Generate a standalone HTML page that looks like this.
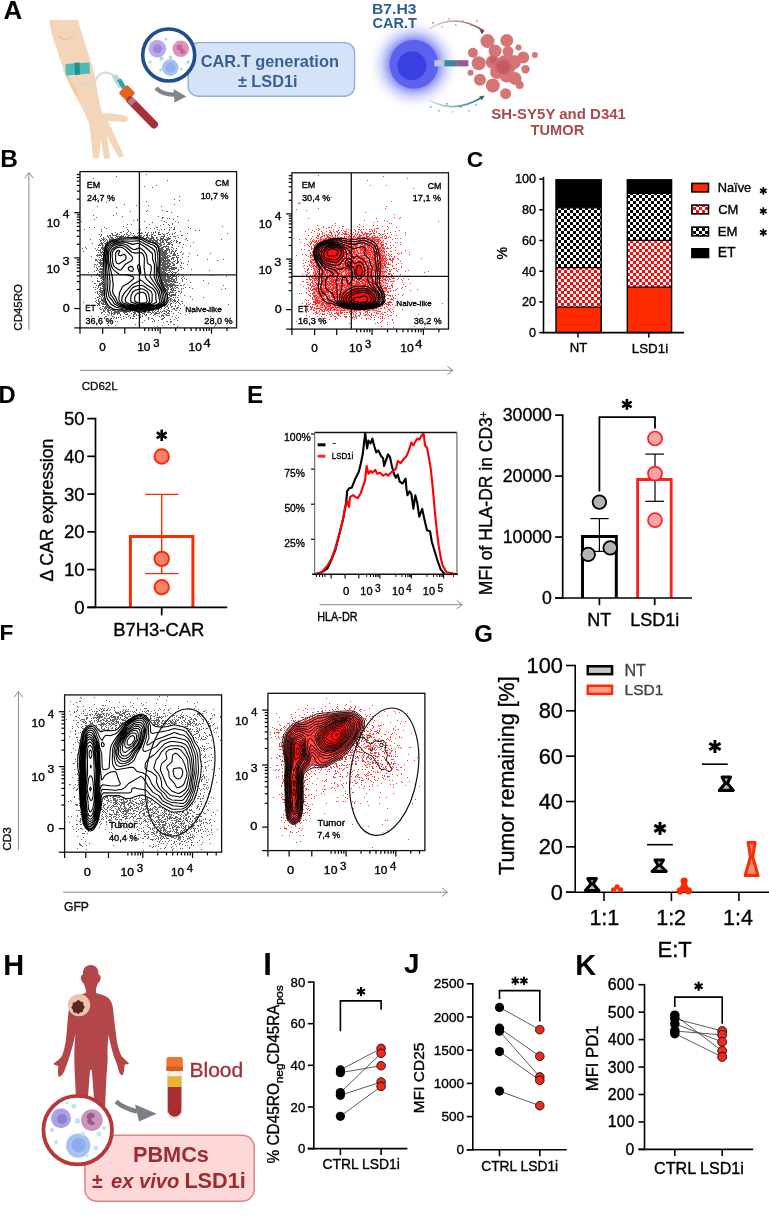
<!DOCTYPE html>
<html><head><meta charset="utf-8"><style>
html,body{margin:0;padding:0;background:#fff;overflow:hidden;}
svg{display:block;font-family:"Liberation Sans", sans-serif;filter:blur(0.3px);}
</style></head><body>
<svg width="769" height="1219" viewBox="0 0 769 1219">
<rect width="769" height="1219" fill="#fff"/>
<defs>
<pattern id="chkR" x="0" y="0" width="6" height="6" patternUnits="userSpaceOnUse"><rect width="6" height="6" fill="#fff"/><rect width="3" height="3" fill="#ff0a0a"/><rect x="3" y="3" width="3" height="3" fill="#ff0a0a"/></pattern>
<pattern id="chkK" x="0" y="0" width="6" height="6" patternUnits="userSpaceOnUse"><rect width="6" height="6" fill="#fff"/><rect width="3" height="3" fill="#000"/><rect x="3" y="3" width="3" height="3" fill="#000"/></pattern>
</defs><text x="3.55" y="18.7" font-size="25.97" fill="#000" font-weight="bold">A</text><text x="0.21" y="167.2" font-size="24.43" fill="#000" font-weight="bold">B</text><text x="466.78" y="166.6" font-size="22.9" fill="#000" font-weight="bold">C</text><text x="-1.54" y="402.8" font-size="23.74" fill="#000" font-weight="bold">D</text><text x="247.02" y="403" font-size="24.25" fill="#000" font-weight="bold">E</text><text x="-0.58" y="640.4" font-size="22.75" fill="#000" font-weight="bold">F</text><text x="474.14" y="642.2" font-size="24" fill="#000" font-weight="bold">G</text><text x="3.22" y="974.6" font-size="28.98" fill="#000" font-weight="bold">H</text><text x="263.28" y="974.5" font-size="31.03" fill="#000" font-weight="bold">I</text><text x="403.98" y="973.3" font-size="27.79" fill="#000" font-weight="bold">J</text><text x="575.32" y="974.6" font-size="28.99" fill="#000" font-weight="bold">K</text><rect x="556" y="307.2" width="45.2" height="25.4" fill="#ff2a00"/><rect x="556" y="267.7" width="45.2" height="39.5" fill="url(#chkR)"/><rect x="556" y="207.8" width="45.2" height="59.9" fill="url(#chkK)"/><rect x="556" y="179.8" width="45.2" height="28" fill="#000"/><line x1="556" y1="307.2" x2="601.2" y2="307.2" stroke="#000" stroke-width="1.3"/><line x1="556" y1="267.7" x2="601.2" y2="267.7" stroke="#000" stroke-width="1.3"/><line x1="556" y1="207.8" x2="601.2" y2="207.8" stroke="#000" stroke-width="1.3"/><rect x="556" y="179.8" width="45.2" height="152.8" fill="none" stroke="#000" stroke-width="1.4"/><rect x="627.3" y="287.2" width="44.3" height="45.4" fill="#ff2a00"/><rect x="627.3" y="240.4" width="44.3" height="46.8" fill="url(#chkR)"/><rect x="627.3" y="193.4" width="44.3" height="47" fill="url(#chkK)"/><rect x="627.3" y="179.8" width="44.3" height="13.6" fill="#000"/><line x1="627.3" y1="287.2" x2="671.6" y2="287.2" stroke="#000" stroke-width="1.3"/><line x1="627.3" y1="240.4" x2="671.6" y2="240.4" stroke="#000" stroke-width="1.3"/><line x1="627.3" y1="193.4" x2="671.6" y2="193.4" stroke="#000" stroke-width="1.3"/><rect x="627.3" y="179.8" width="44.3" height="152.8" fill="none" stroke="#000" stroke-width="1.4"/><line x1="543.5" y1="176.8" x2="543.5" y2="333.3" stroke="#000" stroke-width="1.6"/><line x1="542.7" y1="332.6" x2="684.1" y2="332.6" stroke="#000" stroke-width="1.6"/><line x1="539.2" y1="332.6" x2="543.5" y2="332.6" stroke="#000" stroke-width="1.5"/><text x="528.95" y="336.95" font-size="12.6" fill="#000" stroke="#000" stroke-width="0.35">0</text><line x1="539.2" y1="301.9" x2="543.5" y2="301.9" stroke="#000" stroke-width="1.5"/><text x="521.96" y="306.25" font-size="12.6" fill="#000" stroke="#000" stroke-width="0.35">20</text><line x1="539.2" y1="271.2" x2="543.5" y2="271.2" stroke="#000" stroke-width="1.5"/><text x="521.96" y="275.55" font-size="12.6" fill="#000" stroke="#000" stroke-width="0.35">40</text><line x1="539.2" y1="240.5" x2="543.5" y2="240.5" stroke="#000" stroke-width="1.5"/><text x="521.96" y="244.85" font-size="12.6" fill="#000" stroke="#000" stroke-width="0.35">60</text><line x1="539.2" y1="209.8" x2="543.5" y2="209.8" stroke="#000" stroke-width="1.5"/><text x="521.96" y="214.15" font-size="12.6" fill="#000" stroke="#000" stroke-width="0.35">80</text><line x1="539.2" y1="179.1" x2="543.5" y2="179.1" stroke="#000" stroke-width="1.5"/><text x="514.96" y="183.45" font-size="12.6" fill="#000" stroke="#000" stroke-width="0.35">100</text><line x1="578" y1="332.6" x2="578" y2="337.5" stroke="#000" stroke-width="1.5"/><line x1="648.8" y1="332.6" x2="648.8" y2="337.5" stroke="#000" stroke-width="1.5"/><text x="569.65" y="351.8" font-size="13.17" fill="#000" stroke="#000" stroke-width="0.35">NT</text><text x="631.83" y="353" font-size="13.32" fill="#000" stroke="#000" stroke-width="0.35">LSD1i</text><text transform="translate(506.8,259) rotate(-90)" x="-0.5" y="0" font-size="14.15" fill="#000" stroke="#000" stroke-width="0.35">%</text><rect x="691.9" y="183.4" width="16.6" height="8.5" fill="#ff2a00" stroke="#000" stroke-width="1.6"/><rect x="691.9" y="205.1" width="16.6" height="8.8" fill="url(#chkR)" stroke="#000" stroke-width="1.6"/><rect x="691.9" y="227.1" width="16.6" height="8.8" fill="url(#chkK)" stroke="#000" stroke-width="1.6"/><rect x="691.9" y="248.8" width="16.6" height="8.7" fill="#000" stroke="#000" stroke-width="1.6"/><text x="717.78" y="191.8" font-size="12.8" fill="#000" stroke="#000" stroke-width="0.35">Naïve</text><text x="718.15" y="214" font-size="13.03" fill="#000" stroke="#000" stroke-width="0.35">CM</text><text x="717.75" y="235.7" font-size="13.18" fill="#000" stroke="#000" stroke-width="0.35">EM</text><text x="717.68" y="257.4" font-size="14.04" fill="#000" stroke="#000" stroke-width="0.35">ET</text><line x1="763.3" y1="187" x2="763.3" y2="194.6" stroke="#000" stroke-width="1.75"/><line x1="760.01" y1="188.9" x2="766.59" y2="192.7" stroke="#000" stroke-width="1.75"/><line x1="760.01" y1="192.7" x2="766.59" y2="188.9" stroke="#000" stroke-width="1.75"/><line x1="763.3" y1="207.3" x2="763.3" y2="214.9" stroke="#000" stroke-width="1.75"/><line x1="760.01" y1="209.2" x2="766.59" y2="213" stroke="#000" stroke-width="1.75"/><line x1="760.01" y1="213" x2="766.59" y2="209.2" stroke="#000" stroke-width="1.75"/><line x1="763.3" y1="228.7" x2="763.3" y2="236.3" stroke="#000" stroke-width="1.75"/><line x1="760.01" y1="230.6" x2="766.59" y2="234.4" stroke="#000" stroke-width="1.75"/><line x1="760.01" y1="234.4" x2="766.59" y2="230.6" stroke="#000" stroke-width="1.75"/><path d="M130.4 607.3V536.6H192.9V607.3" stroke="#ff2a00" stroke-width="3" fill="none"/><line x1="95.5" y1="417.7" x2="95.5" y2="608.1" stroke="#000" stroke-width="1.7"/><line x1="87.3" y1="607.3" x2="227.2" y2="607.3" stroke="#000" stroke-width="1.7"/><line x1="87.3" y1="607.3" x2="95.5" y2="607.3" stroke="#000" stroke-width="1.7"/><text x="74.23" y="613.72" font-size="18.6" fill="#000" stroke="#000" stroke-width="0.35">0</text><line x1="87.3" y1="569.56" x2="95.5" y2="569.56" stroke="#000" stroke-width="1.7"/><text x="63.91" y="575.98" font-size="18.6" fill="#000" stroke="#000" stroke-width="0.35">10</text><line x1="87.3" y1="531.82" x2="95.5" y2="531.82" stroke="#000" stroke-width="1.7"/><text x="63.91" y="538.24" font-size="18.6" fill="#000" stroke="#000" stroke-width="0.35">20</text><line x1="87.3" y1="494.08" x2="95.5" y2="494.08" stroke="#000" stroke-width="1.7"/><text x="63.91" y="500.5" font-size="18.6" fill="#000" stroke="#000" stroke-width="0.35">30</text><line x1="87.3" y1="456.34" x2="95.5" y2="456.34" stroke="#000" stroke-width="1.7"/><text x="63.91" y="462.76" font-size="18.6" fill="#000" stroke="#000" stroke-width="0.35">40</text><line x1="87.3" y1="418.6" x2="95.5" y2="418.6" stroke="#000" stroke-width="1.7"/><text x="63.91" y="425.02" font-size="18.6" fill="#000" stroke="#000" stroke-width="0.35">50</text><line x1="161.7" y1="607.3" x2="161.7" y2="615.4" stroke="#000" stroke-width="1.7"/><line x1="161.7" y1="494.4" x2="161.7" y2="573.6" stroke="#ff2a00" stroke-width="1.4"/><line x1="145.1" y1="494.4" x2="178.5" y2="494.4" stroke="#ff2a00" stroke-width="1.4"/><line x1="145.1" y1="573.6" x2="178.5" y2="573.6" stroke="#ff2a00" stroke-width="1.4"/><circle cx="161.7" cy="456.5" r="7.2" fill="#f4826f" stroke="#ff2a00" stroke-width="2"/><circle cx="161.7" cy="558.9" r="7.2" fill="#f4826f" stroke="#ff2a00" stroke-width="2"/><circle cx="161.7" cy="587.2" r="7.2" fill="#f4826f" stroke="#ff2a00" stroke-width="2"/><line x1="161.7" y1="429.55" x2="161.7" y2="441.05" stroke="#000" stroke-width="2.65"/><line x1="156.72" y1="432.43" x2="166.68" y2="438.18" stroke="#000" stroke-width="2.65"/><line x1="156.72" y1="438.18" x2="166.68" y2="432.43" stroke="#000" stroke-width="2.65"/><text x="113.22" y="635.5" font-size="18.46" fill="#000" stroke="#000" stroke-width="0.35">B7H3-CAR</text><text transform="translate(52.6,580.9) rotate(-90)" x="-0.53" y="0" font-size="17.58" fill="#000" stroke="#000" stroke-width="0.35">Δ CAR expression</text><path d="M637.6 598V479.5H671.2V598" stroke="#ff1f1f" stroke-width="2.8" fill="none"/><path d="M582.5 598V536.6H616.3V598" stroke="#000" stroke-width="3" fill="none"/><line x1="562.7" y1="414.25" x2="562.7" y2="598.9" stroke="#000" stroke-width="1.7"/><line x1="555.1" y1="598" x2="692" y2="598" stroke="#000" stroke-width="1.7"/><line x1="555.1" y1="598" x2="562.7" y2="598" stroke="#000" stroke-width="1.7"/><text x="542.1" y="604.11" font-size="17.7" fill="#000" stroke="#000" stroke-width="0.35">0</text><line x1="555.1" y1="537.05" x2="562.7" y2="537.05" stroke="#000" stroke-width="1.7"/><text x="502.71" y="543.16" font-size="17.7" fill="#000" stroke="#000" stroke-width="0.35">10000</text><line x1="555.1" y1="476.1" x2="562.7" y2="476.1" stroke="#000" stroke-width="1.7"/><text x="502.71" y="482.21" font-size="17.7" fill="#000" stroke="#000" stroke-width="0.35">20000</text><line x1="555.1" y1="415.15" x2="562.7" y2="415.15" stroke="#000" stroke-width="1.7"/><text x="502.71" y="421.26" font-size="17.7" fill="#000" stroke="#000" stroke-width="0.35">30000</text><line x1="599.4" y1="598" x2="599.4" y2="605.1" stroke="#000" stroke-width="1.7"/><line x1="654.7" y1="598" x2="654.7" y2="605.1" stroke="#000" stroke-width="1.7"/><line x1="599.4" y1="518.6" x2="599.4" y2="551.4" stroke="#000" stroke-width="1.2"/><line x1="590.3" y1="518.6" x2="608.7" y2="518.6" stroke="#000" stroke-width="1.2"/><line x1="590.3" y1="551.4" x2="608.7" y2="551.4" stroke="#000" stroke-width="1.2"/><line x1="655" y1="454.1" x2="655" y2="501.3" stroke="#000" stroke-width="1.2"/><line x1="645.2" y1="454.1" x2="664" y2="454.1" stroke="#000" stroke-width="1.2"/><line x1="645.2" y1="501.3" x2="664" y2="501.3" stroke="#000" stroke-width="1.2"/><circle cx="588.2" cy="554.4" r="6.8" fill="#b3b3b3" stroke="#000" stroke-width="1.8"/><circle cx="610.2" cy="547.9" r="6.8" fill="#b3b3b3" stroke="#000" stroke-width="1.8"/><circle cx="599.4" cy="502.1" r="6.8" fill="#b3b3b3" stroke="#000" stroke-width="1.8"/><circle cx="655" cy="438.5" r="7" fill="#f4a6a6" stroke="#ff2020" stroke-width="1.7"/><circle cx="655" cy="473.6" r="7" fill="#f4a6a6" stroke="#ff2020" stroke-width="1.7"/><circle cx="655" cy="520.2" r="7" fill="#f4a6a6" stroke="#ff2020" stroke-width="1.7"/><path d="M599.4 491.6V417.1H655V428.4" stroke="#000" stroke-width="1.8" fill="none"/><line x1="626.9" y1="398.9" x2="626.9" y2="409.9" stroke="#000" stroke-width="2.53"/><line x1="622.14" y1="401.65" x2="631.66" y2="407.15" stroke="#000" stroke-width="2.53"/><line x1="622.14" y1="407.15" x2="631.66" y2="401.65" stroke="#000" stroke-width="2.53"/><text x="587.26" y="625.6" font-size="17.97" fill="#000" stroke="#000" stroke-width="0.35">NT</text><text x="630.26" y="625.5" font-size="17.98" fill="#000" stroke="#000" stroke-width="0.35">LSD1i</text><text transform="translate(492.4,593.8) rotate(-90)" x="-1.4" y="0" font-size="17.51" fill="#000" stroke="#000" stroke-width="0.35">MFI of HLA-DR in CD3</text><text transform="translate(487,417) rotate(-90)" x="-0.53" y="0" font-size="10.5" fill="#000" stroke="#000" stroke-width="0.35">+</text><line x1="575.2" y1="664.7" x2="575.2" y2="893" stroke="#000" stroke-width="1.6"/><line x1="566" y1="892.2" x2="770" y2="892.2" stroke="#000" stroke-width="1.6"/><line x1="566" y1="892.2" x2="575.2" y2="892.2" stroke="#000" stroke-width="1.6"/><text x="550.76" y="899.72" font-size="21.8" fill="#000" stroke="#000" stroke-width="0.35">0</text><line x1="566" y1="846.86" x2="575.2" y2="846.86" stroke="#000" stroke-width="1.6"/><text x="538.66" y="854.38" font-size="21.8" fill="#000" stroke="#000" stroke-width="0.35">20</text><line x1="566" y1="801.52" x2="575.2" y2="801.52" stroke="#000" stroke-width="1.6"/><text x="538.66" y="809.04" font-size="21.8" fill="#000" stroke="#000" stroke-width="0.35">40</text><line x1="566" y1="756.18" x2="575.2" y2="756.18" stroke="#000" stroke-width="1.6"/><text x="538.66" y="763.7" font-size="21.8" fill="#000" stroke="#000" stroke-width="0.35">60</text><line x1="566" y1="710.84" x2="575.2" y2="710.84" stroke="#000" stroke-width="1.6"/><text x="538.67" y="718.36" font-size="21.8" fill="#000" stroke="#000" stroke-width="0.35">80</text><line x1="566" y1="665.5" x2="575.2" y2="665.5" stroke="#000" stroke-width="1.6"/><text x="526.57" y="673.02" font-size="21.8" fill="#000" stroke="#000" stroke-width="0.35">100</text><line x1="604" y1="892.2" x2="604" y2="901" stroke="#000" stroke-width="1.6"/><line x1="671.4" y1="892.2" x2="671.4" y2="901" stroke="#000" stroke-width="1.6"/><line x1="738.9" y1="892.2" x2="738.9" y2="901" stroke="#000" stroke-width="1.6"/><text x="589.39" y="924.9" font-size="21.5" fill="#000" stroke="#000" stroke-width="0.35">1:1</text><text x="656.19" y="924.9" font-size="21.5" fill="#000" stroke="#000" stroke-width="0.35">1:2</text><text x="722.99" y="924.9" font-size="21.5" fill="#000" stroke="#000" stroke-width="0.35">1:4</text><text x="657.54" y="957.1" font-size="21.99" fill="#000" stroke="#000" stroke-width="0.35">E:T</text><rect x="587.75" y="666.25" width="24.3" height="7.9" fill="#c8c8c8" stroke="#000" stroke-width="2.5"/><rect x="587.75" y="685.75" width="24.3" height="8.1" fill="#f5a090" stroke="#ff2a00" stroke-width="2.5"/><text x="624.51" y="675.8" font-size="16.1" fill="#444" stroke="#444" stroke-width="0.35">NT</text><text x="624.56" y="694.8" font-size="15.54" fill="#444" stroke="#444" stroke-width="0.35">LSD1</text><path d="M587.85 878.6L596.35 878.6L593.1 884L598.85 890.6L585.35 890.6L591.1 884Z" stroke="#000" stroke-width="3.1" fill="#bbb" stroke-linejoin="round"/><path d="M654.95 860L663.45 860L660.2 865.5L666.2 871.4L652.2 871.4L658.2 865.5Z" stroke="#000" stroke-width="3.1" fill="#bbb" stroke-linejoin="round"/><path d="M722.05 777L730.55 777L727.3 783.2L733.3 790.4L719.3 790.4L725.3 783.2Z" stroke="#000" stroke-width="3.1" fill="#bbb" stroke-linejoin="round"/><circle cx="617.1" cy="886.8" r="2.6" fill="#ff2a00"/><circle cx="613.6" cy="889.8" r="2.6" fill="#ff2a00"/><circle cx="620.6" cy="889.8" r="2.6" fill="#ff2a00"/><circle cx="684.1" cy="881" r="3.6" fill="#ff2a00"/><circle cx="680.2" cy="890.8" r="3.6" fill="#ff2a00"/><circle cx="688.4" cy="890.8" r="3.6" fill="#ff2a00"/><path d="M684.1 881 L680.2 890.8 L688.4 890.8 Z" stroke="#ff2a00" stroke-width="3" fill="#ff2a00" stroke-linejoin="round"/><path d="M748.1 842.6L755.1 842.6L752.7 857L758.1 875.6L745.1 875.6L750.5 857Z" stroke="#ff2a00" stroke-width="3" fill="#f49080" stroke-linejoin="round"/><line x1="660" y1="821.9" x2="660" y2="834.9" stroke="#000" stroke-width="2.99"/><line x1="654.37" y1="825.15" x2="665.63" y2="831.65" stroke="#000" stroke-width="2.99"/><line x1="654.37" y1="831.65" x2="665.63" y2="825.15" stroke="#000" stroke-width="2.99"/><line x1="647" y1="844.7" x2="672.8" y2="844.7" stroke="#000" stroke-width="1.6"/><line x1="714.9" y1="740" x2="714.9" y2="753" stroke="#000" stroke-width="2.99"/><line x1="709.27" y1="743.25" x2="720.53" y2="749.75" stroke="#000" stroke-width="2.99"/><line x1="709.27" y1="749.75" x2="720.53" y2="743.25" stroke="#000" stroke-width="2.99"/><line x1="701.9" y1="764.2" x2="727.7" y2="764.2" stroke="#000" stroke-width="1.6"/><text transform="translate(514,874.5) rotate(-90)" x="-0.43" y="0" font-size="21.49" fill="#000" stroke="#000" stroke-width="0.35">Tumor remaining [%]</text><line x1="313.8" y1="981.24" x2="313.8" y2="1149.4" stroke="#000" stroke-width="1.6"/><line x1="307.8" y1="1148.6" x2="407.4" y2="1148.6" stroke="#000" stroke-width="1.6"/><line x1="307.8" y1="1148.6" x2="313.8" y2="1148.6" stroke="#000" stroke-width="1.6"/><text x="297.94" y="1153.15" font-size="13.2" fill="#000" stroke="#000" stroke-width="0.35">0</text><line x1="307.8" y1="1106.96" x2="313.8" y2="1106.96" stroke="#000" stroke-width="1.6"/><text x="290.61" y="1111.51" font-size="13.2" fill="#000" stroke="#000" stroke-width="0.35">20</text><line x1="307.8" y1="1065.32" x2="313.8" y2="1065.32" stroke="#000" stroke-width="1.6"/><text x="290.61" y="1069.87" font-size="13.2" fill="#000" stroke="#000" stroke-width="0.35">40</text><line x1="307.8" y1="1023.68" x2="313.8" y2="1023.68" stroke="#000" stroke-width="1.6"/><text x="290.61" y="1028.23" font-size="13.2" fill="#000" stroke="#000" stroke-width="0.35">60</text><line x1="307.8" y1="982.04" x2="313.8" y2="982.04" stroke="#000" stroke-width="1.6"/><text x="290.61" y="986.59" font-size="13.2" fill="#000" stroke="#000" stroke-width="0.35">80</text><line x1="340.4" y1="1148.6" x2="340.4" y2="1155.1" stroke="#000" stroke-width="1.6"/><line x1="381.1" y1="1148.6" x2="381.1" y2="1155.1" stroke="#000" stroke-width="1.6"/><line x1="340.4" y1="1069.9" x2="381.1" y2="1048.4" stroke="#333" stroke-width="0.8"/><line x1="340.4" y1="1072.7" x2="381.1" y2="1065.7" stroke="#333" stroke-width="0.8"/><line x1="340.4" y1="1092.6" x2="381.1" y2="1053.3" stroke="#333" stroke-width="0.8"/><line x1="340.4" y1="1095.3" x2="381.1" y2="1082" stroke="#333" stroke-width="0.8"/><line x1="340.4" y1="1116.3" x2="381.1" y2="1086.4" stroke="#333" stroke-width="0.8"/><circle cx="340.4" cy="1069.9" r="4.6" fill="#000"/><circle cx="340.4" cy="1072.7" r="4.6" fill="#000"/><circle cx="340.4" cy="1092.6" r="4.6" fill="#000"/><circle cx="340.4" cy="1095.3" r="4.6" fill="#000"/><circle cx="340.4" cy="1116.3" r="4.6" fill="#000"/><circle cx="381.1" cy="1048.4" r="4.3" fill="#f0281e" stroke="#111" stroke-width="0.9"/><circle cx="381.1" cy="1053.3" r="4.3" fill="#f0281e" stroke="#111" stroke-width="0.9"/><circle cx="381.1" cy="1065.7" r="4.3" fill="#f0281e" stroke="#111" stroke-width="0.9"/><circle cx="381.1" cy="1082" r="4.3" fill="#f0281e" stroke="#111" stroke-width="0.9"/><circle cx="381.1" cy="1086.4" r="4.3" fill="#f0281e" stroke="#111" stroke-width="0.9"/><path d="M340.4 1031.2V1000.9H381.1V1009.7" stroke="#000" stroke-width="1.6" fill="none"/><line x1="361" y1="987" x2="361" y2="996.2" stroke="#000" stroke-width="2.12"/><line x1="357.02" y1="989.3" x2="364.98" y2="993.9" stroke="#000" stroke-width="2.12"/><line x1="357.02" y1="993.9" x2="364.98" y2="989.3" stroke="#000" stroke-width="2.12"/><text x="322.51" y="1169.4" font-size="13.88" fill="#000" stroke="#000" stroke-width="0.35">CTRL LSD1i</text><text transform="translate(279.2,1163) rotate(-90)" x="-0.54" y="0" font-size="16.8" fill="#000" stroke="#000" stroke-width="0.35" textLength="80.39" lengthAdjust="spacingAndGlyphs">% CD45RO</text><text transform="translate(282.8,1082.6) rotate(-90)" x="-0.78" y="0" font-size="10.8" fill="#000" stroke="#000" stroke-width="0.35" textLength="20" lengthAdjust="spacingAndGlyphs">neg</text><text transform="translate(279.2,1063.6) rotate(-90)" x="-0.75" y="0" font-size="16.8" fill="#000" stroke="#000" stroke-width="0.35" textLength="59.57" lengthAdjust="spacingAndGlyphs">CD45RA</text><text transform="translate(282.8,1003.9) rotate(-90)" x="-0.78" y="0" font-size="10.8" fill="#000" stroke="#000" stroke-width="0.35" textLength="19.43" lengthAdjust="spacingAndGlyphs">pos</text><line x1="472.8" y1="983" x2="472.8" y2="1150.6" stroke="#000" stroke-width="1.6"/><line x1="466.8" y1="1149.8" x2="566.7" y2="1149.8" stroke="#000" stroke-width="1.6"/><line x1="466.8" y1="1149.8" x2="472.8" y2="1149.8" stroke="#000" stroke-width="1.6"/><text x="456.53" y="1154.49" font-size="13.6" fill="#000" stroke="#000" stroke-width="0.35">0</text><line x1="466.8" y1="1116.6" x2="472.8" y2="1116.6" stroke="#000" stroke-width="1.6"/><text x="441.43" y="1121.29" font-size="13.6" fill="#000" stroke="#000" stroke-width="0.35">500</text><line x1="466.8" y1="1083.4" x2="472.8" y2="1083.4" stroke="#000" stroke-width="1.6"/><text x="433.82" y="1088.09" font-size="13.6" fill="#000" stroke="#000" stroke-width="0.35">1000</text><line x1="466.8" y1="1050.2" x2="472.8" y2="1050.2" stroke="#000" stroke-width="1.6"/><text x="433.82" y="1054.89" font-size="13.6" fill="#000" stroke="#000" stroke-width="0.35">1500</text><line x1="466.8" y1="1017" x2="472.8" y2="1017" stroke="#000" stroke-width="1.6"/><text x="433.82" y="1021.69" font-size="13.6" fill="#000" stroke="#000" stroke-width="0.35">2000</text><line x1="466.8" y1="983.8" x2="472.8" y2="983.8" stroke="#000" stroke-width="1.6"/><text x="433.82" y="988.49" font-size="13.6" fill="#000" stroke="#000" stroke-width="0.35">2500</text><line x1="499.5" y1="1149.8" x2="499.5" y2="1156.3" stroke="#000" stroke-width="1.6"/><line x1="539.8" y1="1149.8" x2="539.8" y2="1156.3" stroke="#000" stroke-width="1.6"/><line x1="499.5" y1="1007.4" x2="539.8" y2="1029.7" stroke="#333" stroke-width="0.8"/><line x1="499.5" y1="1028.2" x2="539.8" y2="1056.3" stroke="#333" stroke-width="0.8"/><line x1="499.5" y1="1031.2" x2="539.8" y2="1076.9" stroke="#333" stroke-width="0.8"/><line x1="499.5" y1="1051.6" x2="539.8" y2="1080.3" stroke="#333" stroke-width="0.8"/><line x1="499.5" y1="1091.1" x2="539.8" y2="1105.7" stroke="#333" stroke-width="0.8"/><circle cx="499.5" cy="1007.4" r="4.6" fill="#000"/><circle cx="499.5" cy="1028.2" r="4.6" fill="#000"/><circle cx="499.5" cy="1031.2" r="4.6" fill="#000"/><circle cx="499.5" cy="1051.6" r="4.6" fill="#000"/><circle cx="499.5" cy="1091.1" r="4.6" fill="#000"/><circle cx="539.8" cy="1029.7" r="4.3" fill="#f0281e" stroke="#111" stroke-width="0.9"/><circle cx="539.8" cy="1056.3" r="4.3" fill="#f0281e" stroke="#111" stroke-width="0.9"/><circle cx="539.8" cy="1076.9" r="4.3" fill="#f0281e" stroke="#111" stroke-width="0.9"/><circle cx="539.8" cy="1080.3" r="4.3" fill="#f0281e" stroke="#111" stroke-width="0.9"/><circle cx="539.8" cy="1105.7" r="4.3" fill="#f0281e" stroke="#111" stroke-width="0.9"/><path d="M499.5 999.1V990.6H539.8V1021.4" stroke="#000" stroke-width="1.6" fill="none"/><line x1="515.3" y1="976.65" x2="515.3" y2="984.95" stroke="#000" stroke-width="1.91"/><line x1="511.71" y1="978.72" x2="518.89" y2="982.88" stroke="#000" stroke-width="1.91"/><line x1="511.71" y1="982.88" x2="518.89" y2="978.72" stroke="#000" stroke-width="1.91"/><line x1="523.9" y1="976.65" x2="523.9" y2="984.95" stroke="#000" stroke-width="1.91"/><line x1="520.31" y1="978.72" x2="527.49" y2="982.88" stroke="#000" stroke-width="1.91"/><line x1="520.31" y1="982.88" x2="527.49" y2="978.72" stroke="#000" stroke-width="1.91"/><text x="481.21" y="1171.3" font-size="13.81" fill="#000" stroke="#000" stroke-width="0.35">CTRL LSD1i</text><text transform="translate(424,1111.9) rotate(-90)" x="-1.24" y="0" font-size="15.49" fill="#000" stroke="#000" stroke-width="0.35">MFI CD25</text><line x1="644.5" y1="983.9" x2="644.5" y2="1150.2" stroke="#000" stroke-width="1.6"/><line x1="638.5" y1="1149.4" x2="753.2" y2="1149.4" stroke="#000" stroke-width="1.6"/><line x1="638.5" y1="1149.4" x2="644.5" y2="1149.4" stroke="#000" stroke-width="1.6"/><text x="625.38" y="1154.85" font-size="15.8" fill="#000" stroke="#000" stroke-width="0.35">0</text><line x1="638.5" y1="1121.95" x2="644.5" y2="1121.95" stroke="#000" stroke-width="1.6"/><text x="607.85" y="1127.4" font-size="15.8" fill="#000" stroke="#000" stroke-width="0.35">100</text><line x1="638.5" y1="1094.5" x2="644.5" y2="1094.5" stroke="#000" stroke-width="1.6"/><text x="607.85" y="1099.95" font-size="15.8" fill="#000" stroke="#000" stroke-width="0.35">200</text><line x1="638.5" y1="1067.05" x2="644.5" y2="1067.05" stroke="#000" stroke-width="1.6"/><text x="607.85" y="1072.5" font-size="15.8" fill="#000" stroke="#000" stroke-width="0.35">300</text><line x1="638.5" y1="1039.6" x2="644.5" y2="1039.6" stroke="#000" stroke-width="1.6"/><text x="607.85" y="1045.05" font-size="15.8" fill="#000" stroke="#000" stroke-width="0.35">400</text><line x1="638.5" y1="1012.15" x2="644.5" y2="1012.15" stroke="#000" stroke-width="1.6"/><text x="607.85" y="1017.6" font-size="15.8" fill="#000" stroke="#000" stroke-width="0.35">500</text><line x1="638.5" y1="984.7" x2="644.5" y2="984.7" stroke="#000" stroke-width="1.6"/><text x="607.85" y="990.15" font-size="15.8" fill="#000" stroke="#000" stroke-width="0.35">600</text><line x1="674.8" y1="1149.4" x2="674.8" y2="1155.9" stroke="#000" stroke-width="1.6"/><line x1="722.2" y1="1149.4" x2="722.2" y2="1155.9" stroke="#000" stroke-width="1.6"/><line x1="674.8" y1="1018.6" x2="722.2" y2="1031" stroke="#333" stroke-width="0.8"/><line x1="674.8" y1="1023.8" x2="722.2" y2="1041.9" stroke="#333" stroke-width="0.8"/><line x1="674.8" y1="1031" x2="722.2" y2="1034.9" stroke="#333" stroke-width="0.8"/><line x1="674.8" y1="1015.2" x2="722.2" y2="1050.9" stroke="#333" stroke-width="0.8"/><line x1="674.8" y1="1033.6" x2="722.2" y2="1056.9" stroke="#333" stroke-width="0.8"/><circle cx="674.8" cy="1015.2" r="4.8" fill="#000"/><circle cx="674.8" cy="1018.6" r="4.8" fill="#000"/><circle cx="674.8" cy="1023.8" r="4.8" fill="#000"/><circle cx="674.8" cy="1031" r="4.8" fill="#000"/><circle cx="674.8" cy="1033.6" r="4.8" fill="#000"/><circle cx="722.2" cy="1031" r="4.5" fill="#f0281e" stroke="#111" stroke-width="0.9"/><circle cx="722.2" cy="1034.9" r="4.5" fill="#f0281e" stroke="#111" stroke-width="0.9"/><circle cx="722.2" cy="1041.9" r="4.5" fill="#f0281e" stroke="#111" stroke-width="0.9"/><circle cx="722.2" cy="1050.9" r="4.5" fill="#f0281e" stroke="#111" stroke-width="0.9"/><circle cx="722.2" cy="1056.9" r="4.5" fill="#f0281e" stroke="#111" stroke-width="0.9"/><path d="M674.8 1006.9V997.1H722.2V1023.8" stroke="#000" stroke-width="1.6" fill="none"/><line x1="698.6" y1="981.6" x2="698.6" y2="990.8" stroke="#000" stroke-width="2.12"/><line x1="694.62" y1="983.9" x2="702.58" y2="988.5" stroke="#000" stroke-width="2.12"/><line x1="694.62" y1="988.5" x2="702.58" y2="983.9" stroke="#000" stroke-width="2.12"/><text x="654.09" y="1173.7" font-size="16.12" fill="#000" stroke="#000" stroke-width="0.35">CTRL LSD1i</text><text transform="translate(598,1089.8) rotate(-90)" x="-1.33" y="0" font-size="16.62" fill="#000" stroke="#000" stroke-width="0.35">MFI PD1</text><path d="M314.9 574.2 L321.7 572.3 L327.6 568.4 L331.5 559.6 L335.4 549.8 L339.3 534.2 L343.2 518.6 L346.1 503.0 L347.1 491.3 L349.0 488.4 L351.9 487.4 L354.9 479.6 L356.8 475.7 L358.8 471.8 L360.7 464.0 L362.7 454.3 L365.2 432.8 L367.1 448.4 L368.5 440.6 L370.5 443.5 L372.4 438.7 L374.4 446.5 L376.3 452.3 L378.3 450.4 L381.2 456.2 L383.1 458.2 L384.1 466.0 L386.1 460.1 L388.0 454.3 L390.0 457.2 L391.9 466.0 L393.9 473.8 L395.8 477.7 L397.8 474.7 L399.7 481.6 L402.6 483.5 L405.6 478.6 L406.5 489.4 L407.5 495.2 L409.5 491.3 L411.4 494.2 L413.4 508.9 L415.3 495.2 L417.3 503.0 L419.2 516.7 L422.2 508.9 L425.1 522.5 L427.0 530.3 L430.0 531.3 L431.9 542.0 L434.8 551.8 L437.8 561.5 L440.7 569.3 L444.6 574.2" stroke="#000" stroke-width="2.1" fill="none" stroke-linejoin="round"/><path d="M314.9 574.2 L321.7 572.3 L327.6 565.4 L331.5 558.6 L335.4 547.9 L339.3 534.2 L343.2 518.6 L345.1 506.9 L347.1 501.1 L349.0 506.9 L350.0 497.2 L352.9 495.2 L355.8 497.2 L357.8 498.1 L360.7 493.3 L362.7 487.4 L365.2 479.6 L366.6 466.0 L368.5 473.8 L370.5 470.8 L372.4 472.8 L375.3 469.9 L377.3 473.8 L380.2 472.8 L383.1 475.7 L386.1 473.8 L388.0 475.7 L391.9 471.8 L395.8 468.9 L397.8 461.1 L400.7 463.0 L403.6 459.1 L406.5 456.2 L408.5 451.3 L411.4 442.6 L413.4 445.5 L415.3 441.6 L417.3 438.7 L419.2 439.6 L422.2 434.8 L423.5 432.8 L425.1 445.5 L427.0 447.4 L429.0 458.2 L430.9 469.9 L432.9 489.4 L434.8 510.8 L436.8 530.3 L438.7 545.9 L440.7 557.6 L442.6 565.4 L446.5 572.3 L457.6 574.2" stroke="#ff0000" stroke-width="2.1" fill="none" stroke-linejoin="round"/><clipPath id="clip11"><rect x="80.0" y="171.6" width="156.6" height="156.29999999999998"/></clipPath><g clip-path="url(#clip11)"><path d="M146 174.5h1m-31 2h1m-24 2h1m73 2h1m-12 5h1m-13 1h1m7 1h1m26 9h1m-83 2h1m76 1h1m4 1h1m-34 1h1m-41 1h1m17 2h1m49 0h1m-39 1h1m11 0h1m-52 1h1m63 0h1m-46 1h1m30 3h1m14 0h1m-33 1h1m15 0h1m19 0h1m0 0h1m3 1h1m-56 1h1m-24 2h1m19 0h1m25 0h1m-18 1h1m35 0h1m18 0h1m-82 1h1m65 0h1m0 0h1m-2 1h1m4 0h1m1 0h1m-76 1h1m42 0h1m35 0h1m-41 1h1m3 0h1m23 0h1m26 0h1m-108 1h1m62 0h1m19 0h1m10 0h1m-24 1h1m13 0h1m11 0h1m-7 1h1m-46 1h1m3 0h1m17 0h1m13 0h1m4 0h1m3 0h1m-13 1h1m8 0h1m-47 1h1m98 0h1m-134 1h1m4 0h1m9 0h1m21 0h1m19 0h1m9 0h1m0 0h1m11 0h1m1 0h1m2 0h1m13 0h1m-83 1h1m32 0h1m10 0h1m3 0h1m19 0h1m15 0h1m-107 1h1m16 0h1m25 0h1m12 0h1m16 0h1m3 0h1m2 0h1m4 0h1m3 0h1m0 0h1m-47 1h1m30 0h1m9 0h1m25 0h1m3 0h1m-99 1h1m21 0h1m4 0h1m26 0h1m24 0h1m-66 1h1m4 0h1m0 0h1m5 0h1m2 0h1m7 0h1m0 0h1m1 0h1m3 0h1m2 0h1m2 0h1m1 0h1m1 0h1m2 0h1m0 0h1m8 0h1m6 0h1m-65 1h1m0 0h1m4 0h1m8 0h1m4 0h1m1 0h1m3 0h1m2 0h1m0 0h1m0 0h1m4 0h1m5 0h1m4 0h1m3 0h1m3 0h1m0 0h1m4 0h1m1 0h1m12 0h1m39 0h1m-129 1h1m1 0h1m10 0h1m3 0h1m0 0h1m1 0h1m4 0h1m1 0h1m0 0h1m2 0h1m15 0h1m0 0h1m3 0h1m0 0h1m5 0h1m0 0h1m0 0h1m2 0h1m0 0h1m4 0h1m2 0h1m-72 1h1m5 0h1m1 0h1m0 0h1m1 0h1m0 0h1m0 0h1m0 0h1m0 0h1m4 0h1m1 0h1m4 0h1m0 0h1m2 0h1m1 0h1m3 0h1m0 0h1m0 0h1m0 0h1m2 0h1m1 0h1m0 0h1m1 0h1m1 0h1m2 0h1m0 0h1m8 0h1m2 0h1m9 0h1m3 0h1m0 0h1m-83 1h1m6 0h1m0 0h1m1 0h1m5 0h1m0 0h1m0 0h1m0 0h1m0 0h1m0 0h1m0 0h1m0 0h1m1 0h1m1 0h1m0 0h1m4 0h1m0 0h1m0 0h1m0 0h1m0 0h1m2 0h1m0 0h1m1 0h1m3 0h1m3 0h1m0 0h1m8 0h1m0 0h1m0 0h1m0 0h1m5 0h1m2 0h1m0 0h1m0 0h1m-73 1h1m4 0h1m1 0h1m0 0h1m0 0h1m2 0h1m1 0h1m1 0h1m0 0h1m0 0h1m5 0h1m2 0h1m1 0h1m0 0h1m8 0h1m0 0h1m2 0h1m0 0h1m0 0h1m2 0h1m0 0h1m0 0h1m2 0h1m0 0h1m2 0h1m2 0h1m2 0h1m1 0h1m9 0h1m-78 1h1m1 0h1m1 0h1m3 0h1m1 0h1m0 0h1m0 0h1m30 0h1m0 0h1m0 0h1m1 0h1m0 0h1m0 0h1m0 0h1m0 0h1m0 0h1m2 0h1m3 0h1m0 0h1m0 0h1m0 0h1m3 0h1m0 0h1m0 0h1m0 0h1m4 0h1m10 0h1m-97 1h1m8 0h1m2 0h1m0 0h1m0 0h1m1 0h1m2 0h1m0 0h1m0 0h1m0 0h1m0 0h1m30 0h1m1 0h1m0 0h1m1 0h1m0 0h1m0 0h1m1 0h1m0 0h1m2 0h1m0 0h1m1 0h1m0 0h1m0 0h1m1 0h1m0 0h1m0 0h1m0 0h1m0 0h1m0 0h1m15 0h1m35 0h1m-122 1h1m0 0h1m1 0h1m1 0h1m1 0h1m1 0h1m36 0h1m1 0h1m0 0h1m0 0h1m0 0h1m0 0h1m0 0h1m0 0h1m0 0h1m0 0h1m0 0h1m1 0h1m0 0h1m1 0h1m0 0h1m1 0h1m0 0h1m0 0h1m3 0h1m2 0h1m1 0h1m10 0h1m-88 1h1m3 0h1m2 0h1m1 0h1m39 0h1m0 0h1m1 0h1m0 0h1m1 0h1m0 0h1m0 0h1m2 0h1m1 0h1m0 0h1m2 0h1m3 0h1m2 0h1m2 0h1m0 0h1m-77 1h1m1 0h1m2 0h1m0 0h1m43 0h1m0 0h1m0 0h1m0 0h1m0 0h1m0 0h1m0 0h1m2 0h1m0 0h1m0 0h1m0 0h1m2 0h1m0 0h1m0 0h1m0 0h1m1 0h1m4 0h1m2 0h1m0 0h1m12 0h1m-102 1h1m7 0h1m0 0h1m0 0h1m1 0h1m0 0h1m49 0h1m0 0h1m0 0h1m0 0h1m0 0h1m0 0h1m3 0h1m3 0h1m0 0h1m0 0h1m8 0h1m-81 1h1m1 0h1m0 0h1m2 0h1m49 0h1m0 0h1m0 0h1m1 0h1m0 0h1m0 0h1m1 0h1m0 0h1m2 0h1m0 0h1m0 0h1m1 0h1m0 0h1m10 0h1m-86 1h1m0 0h1m0 0h1m1 0h1m0 0h1m1 0h1m51 0h1m0 0h1m1 0h1m0 0h1m4 0h1m5 0h1m-71 1h1m54 0h1m0 0h1m0 0h1m0 0h1m2 0h1m0 0h1m0 0h1m0 0h1m0 0h1m0 0h1m9 0h1m11 0h1m-106 1h1m12 0h1m2 0h1m0 0h1m0 0h1m0 0h1m53 0h1m0 0h1m1 0h1m0 0h1m0 0h1m1 0h1m2 0h1m2 0h1m0 0h1m9 0h1m-101 1h1m3 0h1m8 0h1m5 0h1m0 0h1m0 0h1m54 0h1m0 0h1m0 0h1m0 0h1m0 0h1m3 0h1m0 0h1m0 0h1m4 0h1m2 0h1m-80 1h1m2 0h1m1 0h1m0 0h1m55 0h1m0 0h1m0 0h1m0 0h1m0 0h1m2 0h1m0 0h1m0 0h1m0 0h1m1 0h1m-76 1h1m1 0h1m0 0h1m0 0h1m2 0h1m0 0h1m53 0h1m0 0h1m0 0h1m0 0h1m0 0h1m1 0h1m0 0h1m0 0h1m0 0h1m1 0h1m2 0h1m2 0h1m0 0h1m-94 1h1m16 0h1m1 0h1m55 0h1m0 0h1m0 0h1m0 0h1m0 0h1m0 0h1m0 0h1m0 0h1m0 0h1m2 0h1m1 0h1m0 0h1m0 0h1m1 0h1m5 0h1m-84 1h1m1 0h1m0 0h1m0 0h1m0 0h1m55 0h1m0 0h1m0 0h1m0 0h1m0 0h1m0 0h1m0 0h1m0 0h1m2 0h1m1 0h1m2 0h1m5 0h1m-80 1h1m1 0h1m55 0h1m0 0h1m0 0h1m0 0h1m0 0h1m0 0h1m0 0h1m0 0h1m0 0h1m2 0h1m0 0h1m1 0h1m0 0h1m2 0h1m5 0h1m5 0h1m20 0h1m-114 1h1m1 0h1m0 0h1m1 0h1m56 0h1m0 0h1m0 0h1m0 0h1m0 0h1m0 0h1m0 0h1m0 0h1m6 0h1m0 0h1m0 0h1m6 0h1m-87 1h1m0 0h1m0 0h1m0 0h1m0 0h1m0 0h1m1 0h1m55 0h1m0 0h1m0 0h1m0 0h1m0 0h1m0 0h1m0 0h1m1 0h1m0 0h1m0 0h1m2 0h1m0 0h1m0 0h1m0 0h1m1 0h1m0 0h1m18 0h1m-107 1h1m5 0h1m3 0h1m57 0h1m0 0h1m1 0h1m0 0h1m0 0h1m0 0h1m0 0h1m0 0h1m1 0h1m0 0h1m5 0h1m11 0h1m-90 1h1m3 0h1m55 0h1m0 0h1m0 0h1m0 0h1m0 0h1m0 0h1m0 0h1m0 0h1m0 0h1m0 0h1m3 0h1m0 0h1m0 0h1m1 0h1m0 0h1m0 0h1m3 0h1m-82 1h1m0 0h1m56 0h1m0 0h1m0 0h1m0 0h1m0 0h1m0 0h1m0 0h1m0 0h1m0 0h1m3 0h1m0 0h1m0 0h1m3 0h1m-83 1h1m0 0h1m1 0h1m1 0h1m1 0h1m0 0h1m55 0h1m0 0h1m0 0h1m0 0h1m0 0h1m1 0h1m1 0h1m0 0h1m0 0h1m1 0h1m1 0h1m3 0h1m2 0h1m26 0h1m15 0h1m-129 1h1m0 0h1m2 0h1m0 0h1m0 0h1m0 0h1m0 0h1m55 0h1m0 0h1m0 0h1m0 0h1m0 0h1m0 0h1m0 0h1m0 0h1m0 0h1m0 0h1m0 0h1m5 0h1m1 0h1m39 0h1m-121 1h1m2 0h1m2 0h1m55 0h1m0 0h1m0 0h1m1 0h1m0 0h1m0 0h1m0 0h1m0 0h1m0 0h1m0 0h1m0 0h1m2 0h1m0 0h1m2 0h1m0 0h1m9 0h1m-91 1h1m0 0h1m0 0h1m0 0h1m0 0h1m0 0h1m55 0h1m0 0h1m0 0h1m0 0h1m0 0h1m0 0h1m0 0h1m1 0h1m0 0h1m2 0h1m0 0h1m4 0h1m0 0h1m2 0h1m-83 1h1m0 0h1m0 0h1m0 0h1m0 0h1m55 0h1m0 0h1m1 0h1m0 0h1m0 0h1m0 0h1m0 0h1m0 0h1m0 0h1m0 0h1m0 0h1m1 0h1m0 0h1m2 0h1m0 0h1m3 0h1m1 0h1m-90 1h1m0 0h1m1 0h1m2 0h1m0 0h1m0 0h1m56 0h1m0 0h1m0 0h1m0 0h1m0 0h1m0 0h1m0 0h1m0 0h1m0 0h1m1 0h1m0 0h1m2 0h1m0 0h1m12 0h1m-92 1h1m3 0h1m1 0h1m0 0h1m55 0h1m0 0h1m0 0h1m0 0h1m0 0h1m0 0h1m0 0h1m1 0h1m0 0h1m0 0h1m2 0h1m0 0h1m0 0h1m5 0h1m-87 1h1m3 0h1m0 0h1m1 0h1m0 0h1m0 0h1m55 0h1m0 0h1m1 0h1m0 0h1m0 0h1m0 0h1m0 0h1m0 0h1m0 0h1m0 0h1m0 0h1m0 0h1m-76 1h1m6 0h1m54 0h1m0 0h1m0 0h1m0 0h1m0 0h1m0 0h1m0 0h1m0 0h1m0 0h1m0 0h1m0 0h1m2 0h1m0 0h1m0 0h1m0 0h1m0 0h1m0 0h1m3 0h1m0 0h1m-85 1h1m2 0h1m0 0h1m0 0h1m55 0h1m0 0h1m0 0h1m0 0h1m0 0h1m0 0h1m0 0h1m0 0h1m0 0h1m0 0h1m0 0h1m0 0h1m0 0h1m0 0h1m0 0h1m0 0h1m0 0h1m0 0h1m0 0h1m6 0h1m-87 1h1m1 0h1m0 0h1m0 0h1m0 0h1m0 0h1m54 0h1m0 0h1m0 0h1m0 0h1m0 0h1m0 0h1m0 0h1m0 0h1m0 0h1m2 0h1m1 0h1m0 0h1m0 0h1m0 0h1m3 0h1m2 0h1m9 0h1m-96 1h1m1 0h1m3 0h1m56 0h1m0 0h1m0 0h1m1 0h1m0 0h1m0 0h1m0 0h1m0 0h1m0 0h1m0 0h1m0 0h1m7 0h1m30 0h1m-116 1h1m4 0h1m0 0h1m0 0h1m0 0h1m55 0h1m0 0h1m0 0h1m0 0h1m0 0h1m0 0h1m0 0h1m1 0h1m3 0h1m1 0h1m4 0h1m-90 1h1m10 0h1m0 0h1m0 0h1m0 0h1m55 0h1m0 0h1m0 0h1m0 0h1m0 0h1m0 0h1m0 0h1m0 0h1m2 0h1m0 0h1m1 0h1m1 0h1m0 0h1m0 0h1m0 0h1m-80 1h1m3 0h1m0 0h1m0 0h1m55 0h1m0 0h1m0 0h1m0 0h1m0 0h1m0 0h1m0 0h1m0 0h1m0 0h1m4 0h1m2 0h1m2 0h1m-82 1h1m3 0h1m1 0h1m55 0h1m0 0h1m0 0h1m0 0h1m1 0h1m0 0h1m0 0h1m0 0h1m2 0h1m0 0h1m1 0h1m0 0h1m2 0h1m1 0h1m3 0h1m2 0h1m3 0h1m-95 1h1m1 0h1m0 0h1m1 0h1m57 0h1m0 0h1m0 0h1m0 0h1m0 0h1m0 0h1m0 0h1m1 0h1m0 0h1m1 0h1m0 0h1m0 0h1m0 0h1m0 0h1m1 0h1m4 0h1m30 0h1m-122 1h1m7 0h1m0 0h1m0 0h1m0 0h1m0 0h1m55 0h1m0 0h1m0 0h1m0 0h1m0 0h1m0 0h1m0 0h1m0 0h1m0 0h1m0 0h1m0 0h1m0 0h1m1 0h1m0 0h1m0 0h1m0 0h1m0 0h1m1 0h1m4 0h1m42 0h1m-126 1h1m0 0h1m0 0h1m56 0h1m0 0h1m0 0h1m0 0h1m0 0h1m0 0h1m1 0h1m0 0h1m0 0h1m1 0h1m0 0h1m3 0h1m5 0h1m-86 1h1m2 0h1m0 0h1m0 0h1m1 0h1m55 0h1m0 0h1m0 0h1m0 0h1m0 0h1m0 0h1m1 0h1m0 0h1m0 0h1m0 0h1m0 0h1m0 0h1m2 0h1m0 0h1m4 0h1m2 0h1m-83 1h1m0 0h1m57 0h1m0 0h1m0 0h1m0 0h1m0 0h1m0 0h1m0 0h1m0 0h1m0 0h1m1 0h1m0 0h1m0 0h1m0 0h1m1 0h1m5 0h1m3 0h1m-90 1h1m3 0h1m1 0h1m56 0h1m0 0h1m0 0h1m0 0h1m0 0h1m0 0h1m0 0h1m0 0h1m0 0h1m0 0h1m0 0h1m0 0h1m1 0h1m0 0h1m1 0h1m5 0h1m20 0h1m-112 1h1m4 0h1m0 0h1m0 0h1m2 0h1m58 0h1m0 0h1m1 0h1m0 0h1m0 0h1m0 0h1m0 0h1m0 0h1m0 0h1m0 0h1m0 0h1m0 0h1m0 0h1m0 0h1m6 0h1m-82 1h1m0 0h1m0 0h1m57 0h1m0 0h1m0 0h1m0 0h1m0 0h1m0 0h1m1 0h1m0 0h1m2 0h1m1 0h1m0 0h1m0 0h1m0 0h1m12 0h1m-97 1h1m0 0h1m3 0h1m0 0h1m0 0h1m0 0h1m59 0h1m0 0h1m1 0h1m0 0h1m0 0h1m2 0h1m0 0h1m1 0h1m5 0h1m28 0h1m-110 1h1m0 0h1m0 0h1m0 0h1m0 0h1m0 0h1m58 0h1m0 0h1m0 0h1m0 0h1m0 0h1m0 0h1m0 0h1m0 0h1m0 0h1m0 0h1m0 0h1m0 0h1m9 0h1m-89 1h1m1 0h1m0 0h1m0 0h1m1 0h1m60 0h1m0 0h1m0 0h1m0 0h1m0 0h1m0 0h1m0 0h1m0 0h1m0 0h1m0 0h1m0 0h1m0 0h1m0 0h1m0 0h1m0 0h1m0 0h1m1 0h1m0 0h1m1 0h1m39 0h1m-126 1h1m3 0h1m0 0h1m59 0h1m0 0h1m0 0h1m0 0h1m0 0h1m1 0h1m0 0h1m0 0h1m0 0h1m2 0h1m-83 1h1m1 0h1m2 0h1m1 0h1m2 0h1m60 0h1m1 0h1m0 0h1m0 0h1m1 0h1m1 0h1m1 0h1m1 0h1m0 0h1m7 0h1m3 0h1m-93 1h1m2 0h1m0 0h1m0 0h1m0 0h1m61 0h1m1 0h1m0 0h1m2 0h1m0 0h1m0 0h1m1 0h1m2 0h1m2 0h1m1 0h1m8 0h1m32 0h1m-131 1h1m3 0h1m0 0h1m2 0h1m60 0h1m0 0h1m0 0h1m0 0h1m0 0h1m1 0h1m0 0h1m1 0h1m7 0h1m39 0h1m-122 1h1m0 0h1m0 0h1m0 0h1m61 0h1m0 0h1m0 0h1m3 0h1m0 0h1m0 0h1m0 0h1m0 0h1m-79 1h1m1 0h1m0 0h1m0 0h1m0 0h1m0 0h1m63 0h1m2 0h1m1 0h1m5 0h1m0 0h1m1 0h1m-87 1h1m1 0h1m2 0h1m0 0h1m0 0h1m0 0h1m0 0h1m61 0h1m0 0h1m0 0h1m0 0h1m0 0h1m0 0h1m0 0h1m0 0h1m2 0h1m4 0h1m-85 1h1m1 0h1m1 0h1m0 0h1m0 0h1m0 0h1m62 0h1m1 0h1m5 0h1m4 0h1m-83 1h1m1 0h1m0 0h1m0 0h1m0 0h1m0 0h1m61 0h1m0 0h1m0 0h1m0 0h1m1 0h1m0 0h1m0 0h1m0 0h1m0 0h1m-77 1h1m1 0h1m0 0h1m0 0h1m0 0h1m62 0h1m1 0h1m0 0h1m0 0h1m0 0h1m0 0h1m0 0h1m0 0h1m2 0h1m5 0h1m-86 1h1m0 0h1m1 0h1m1 0h1m62 0h1m2 0h1m0 0h1m18 0h1m-94 1h1m0 0h1m2 0h1m1 0h1m0 0h1m63 0h1m0 0h1m3 0h1m1 0h1m1 0h1m25 0h1m-109 1h1m3 0h1m1 0h1m1 0h1m1 0h1m62 0h1m1 0h1m0 0h1m-74 1h1m2 0h1m0 0h1m0 0h1m0 0h1m0 0h1m63 0h1m0 0h1m1 0h1m1 0h1m3 0h1m13 0h1m-97 1h1m1 0h1m2 0h1m0 0h1m0 0h1m0 0h1m0 0h1m62 0h1m1 0h1m0 0h1m1 0h1m0 0h1m0 0h1m2 0h1m-84 1h1m2 0h1m0 0h1m0 0h1m1 0h1m0 0h1m0 0h1m1 0h1m63 0h1m1 0h1m1 0h1m0 0h1m1 0h1m3 0h1m0 0h1m-100 1h1m12 0h1m2 0h1m1 0h1m1 0h1m0 0h1m0 0h1m63 0h1m3 0h1m2 0h1m1 0h1m-82 1h1m0 0h1m0 0h1m1 0h1m0 0h1m0 0h1m1 0h1m0 0h1m59 0h1m3 0h1m0 0h1m3 0h1m3 0h1m2 0h1m-85 1h1m0 0h1m2 0h1m0 0h1m0 0h1m0 0h1m0 0h1m0 0h1m57 0h1m0 0h1m1 0h1m1 0h1m9 0h1m47 0h1m-132 1h1m1 0h1m6 0h1m0 0h1m57 0h1m1 0h1m2 0h1m4 0h1m2 0h1m5 0h1m-83 1h1m0 0h1m1 0h1m0 0h1m0 0h1m54 0h1m1 0h1m1 0h1m0 0h1m3 0h1m0 0h1m2 0h1m-76 1h1m3 0h1m0 0h1m0 0h1m0 0h1m0 0h1m0 0h1m0 0h1m50 0h1m3 0h1m2 0h1m2 0h1m5 0h1m0 0h1m7 0h1m-88 1h1m2 0h1m1 0h1m0 0h1m0 0h1m1 0h1m0 0h1m47 0h1m0 0h1m0 0h1m1 0h1m2 0h1m3 0h1m4 0h1m0 0h1m1 0h1m0 0h1m2 0h1m-81 1h1m0 0h1m1 0h1m1 0h1m1 0h1m0 0h1m1 0h1m0 0h1m0 0h1m0 0h1m0 0h1m0 0h1m0 0h1m0 0h1m3 0h1m0 0h1m26 0h1m0 0h1m0 0h1m1 0h1m2 0h1m0 0h1m0 0h1m1 0h1m5 0h1m5 0h1m1 0h1m46 0h1m-119 1h1m0 0h1m2 0h1m0 0h1m0 0h1m0 0h1m1 0h1m0 0h1m0 0h1m0 0h1m1 0h1m0 0h1m0 0h1m0 0h1m0 0h1m4 0h1m6 0h1m0 0h1m0 0h1m11 0h1m0 0h1m0 0h1m0 0h1m0 0h1m0 0h1m0 0h1m1 0h1m2 0h1m4 0h1m0 0h1m2 0h1m0 0h1m0 0h1m5 0h1m0 0h1m2 0h1m-77 1h1m0 0h1m2 0h1m0 0h1m2 0h1m2 0h1m0 0h1m0 0h1m0 0h1m0 0h1m0 0h1m0 0h1m0 0h1m0 0h1m0 0h1m0 0h1m0 0h1m1 0h1m0 0h1m0 0h1m0 0h1m1 0h1m1 0h1m0 0h1m0 0h1m0 0h1m0 0h1m4 0h1m1 0h1m2 0h1m0 0h1m2 0h1m1 0h1m2 0h1m0 0h1m1 0h1m1 0h1m1 0h1m0 0h1m0 0h1m2 0h1m1 0h1m16 0h1m19 0h1m-108 1h1m0 0h1m2 0h1m2 0h1m0 0h1m1 0h1m1 0h1m0 0h1m0 0h1m0 0h1m0 0h1m0 0h1m0 0h1m3 0h1m0 0h1m0 0h1m0 0h1m2 0h1m3 0h1m0 0h1m0 0h1m1 0h1m0 0h1m0 0h1m0 0h1m0 0h1m2 0h1m0 0h1m1 0h1m0 0h1m0 0h1m0 0h1m1 0h1m0 0h1m1 0h1m0 0h1m2 0h1m1 0h1m4 0h1m1 0h1m9 0h1m13 0h1m-92 1h1m7 0h1m1 0h1m0 0h1m1 0h1m0 0h1m1 0h1m0 0h1m0 0h1m4 0h1m2 0h1m3 0h1m2 0h1m0 0h1m6 0h1m0 0h1m0 0h1m6 0h1m2 0h1m0 0h1m0 0h1m0 0h1m0 0h1m0 0h1m3 0h1m0 0h1m2 0h1m0 0h1m0 0h1m3 0h1m6 0h1m8 0h1m-86 1h1m2 0h1m3 0h1m1 0h1m0 0h1m2 0h1m2 0h1m4 0h1m0 0h1m0 0h1m5 0h1m0 0h1m1 0h1m2 0h1m0 0h1m3 0h1m1 0h1m3 0h1m3 0h1m0 0h1m6 0h1m2 0h1m0 0h1m18 0h1m-78 1h1m2 0h1m8 0h1m8 0h1m3 0h1m2 0h1m1 0h1m3 0h1m2 0h1m0 0h1m6 0h1m3 0h1m3 0h1m0 0h1m0 0h1m2 0h1m0 0h1m0 0h1m0 0h1m6 0h1m-86 1h1m6 0h1m6 0h1m0 0h1m5 0h1m0 0h1m9 0h1m4 0h1m4 0h1m0 0h1m5 0h1m1 0h1m16 0h1m1 0h1m1 0h1m8 0h1m37 0h1m-107 1h1m9 0h1m1 0h1m1 0h1m1 0h1m5 0h1m3 0h1m9 0h1m7 0h1m15 0h1m10 0h1m2 0h1m-75 1h1m6 0h1m1 0h1m2 0h1m6 0h1m6 0h1m1 0h1m0 0h1m2 0h1m11 0h1m2 0h1m0 0h1m9 0h1m0 0h1m12 0h1m-56 1h1m26 0h1m4 0h1m7 0h1m0 0h1m7 0h1m3 0h1m-31 1h1m9 0h1m3 0h1m18 0h1m-63 1h1m1 0h1m34 0h1m1 0h1m11 0h1m0 0h1m2 0h1m0 0h1m-60 1h1m29 0h1m20 0h1m6 0h1m-71 2h1m34 0h1m32 0h1m4 0h1m0 0h1m-67 1h1m6 0h1m46 0h1m-6 1h1m19 0h1m36 0h1" stroke="#4a4a4a" stroke-width="0.9" fill="none" opacity="1.0"/><path d="M142.0 311.7l-3 0 -5 -1.4 -7 0.8 -6.5 -1.4 -6.5 -0.3 -4.6 -2.6 -3.4 -4.8 -1.1 -3.7 -0.7 -9.5 -0.7 -33.0 1.7 -9.5 2.4 -3.4 2.5 -1.8 10 -3.1 18.5 -0.8 3.5 0.9 5.5 3.0 7 2.3 2 1.4 1.3 2.0 1 3.0 0.5 4.0 0.3 10.0 -0.7 6.0 0.5 4.5 2.2 8.5 5.5 12.0 0.8 7.0 -2.8 3.3 -6 3.0 -17 3.8zM144.0 310.2l-4.5 0.3 -6 -1.3 -7 0.3 -10.5 -2.2 -4.7 -2.7 -3.9 -5.5 -0.8 -2.5 -0.8 -7.5 0.2 -7.5 -1.3 -26.0 0.7 -6.0 0.9 -3.0 1.8 -2.5 2.5 -1.9 10 -3.0 17.5 -0.6 3.5 1.0 5 2.9 7.5 3.0 2.3 2.5 1.2 6.0 0.5 10.0 -0.5 6.0 0.6 6.0 1.5 5.5 5.8 13.0 0.9 7.0 -2.4 3.0 -4.5 2.4 -4 1.3 -11.5 2.0zM145.5 309.1l-5.5 0.5 -6 -1.1 -7 0.0 -8.5 -2.2 -4 -2.2 -2.5 -4.1 -3 -3.4 -1.5 -6.9 0.4 -7.5 -2.1 -25.5 1.2 -8.5 1.6 -2.5 2.9 -2.2 5 -1.9 5 -0.9 10 0.5 6.5 -0.5 3 1.0 11 6.3 2.5 2.5 0.8 3.2 0.1 6.0 0.9 5.0 0.1 12.5 1.5 4.7 4.7 9.3 1.5 5.5 0.6 5.0 -1.7 2.5 -4.1 2.3 -3.5 1.1 -10 1.7zM143.5 308.6l-3.5 0.1 -6.5 -1.0 -7 -0.2 -7 -2.2 -3.3 -2.2 -2.2 -4.1 -3.4 -4.4 -1 -5.0 0.5 -7.5 -1.4 -13.5 -1.4 -7.5 -0.1 -5.0 0.5 -5.0 0.9 -2.7 2 -2.4 3.5 -2.1 3.5 -1.2 5 -0.7 4 0.5 6 1.9 5 -1.1 2 0.2 6.2 4.0 6.6 6.0 0.2 5.5 1.9 6.0 -0.3 12.0 2.3 5.5 4.4 7.5 2.5 11.5 -1.8 2.5 -3.5 1.8 -14.5 2.7zM145.5 307.7l-5.5 0.3 -12 -1.2 -6.5 -1.8 -4 -2.9 -2 -5.0 -2.4 -3.5 -0.5 -2.5 0.6 -6.5 -1.1 -9.0 -3.2 -13.0 -0.5 -5.0 0.4 -5.5 0.8 -2.5 1.9 -2.3 3 -2.0 4 -1.4 4.5 -0.2 4 1.3 4.5 3.6 2 0.9 2 -0.1 3 -1.3 1.5 0 3.5 2.3 2.6 3.8 0.7 2.0 0.6 6.5 0.7 1.0 2.5 1.5 0.7 1.5 -0.1 3.5 -1.2 5.0 0.2 1.5 8.8 13.5 2.7 11.5 -1.3 2.0 -3.3 1.7 -11.5 2.3zM144.0 307.1l-5 0 -13 -1.6 -4.5 -1.8 -2.3 -2.5 -0.4 -3.0 0.9 -6.0 2.8 -5.4 1.5 -1.4 4.3 -2.2 4.8 -4.0 0.7 -1.5 -1.2 -1.3 -6.5 -1.8 -5 0.1 -2 -0.5 -5 -3.8 -1.7 -2.1 -1.2 -3.0 -0.8 -4.5 0 -8.0 1.7 -3.5 4.4 -3.1 3.5 -0.9 3.4 0.4 2.8 1.5 5.8 5.0 3.5 0.9 5.5 -0.5 1.5 1.0 1.1 1.6 0.8 3.0 -0.3 9.5 1.3 9.5 1.3 2.2 6 5.6 4.4 5.7 1 2.5 1.8 8.5 -0.9 1.5 -2.7 1.5 -12 2.6zM132.7 271.1l0.7 -2.0 -0.8 -2.0 -1.7 -0.7 -1.9 0.7 -0.8 1.5 0.7 1.4 2 1.3 1.7 -0.2zM121.0 269.9l-1.5 0.1 -1.5 -0.6 -4 -3.2 -1.1 -3.0 -0.8 -7.0 0.2 -3.5 1.2 -2.4 3 -2.4 3 -0.9 3 0.6 2.9 2.0 6.7 7.0 0.6 1.5 -1 2.5 -6.7 4.0 -4 5.2zM140.5 273.6l-1 -0.9 -2 -5.1 -0 -1.7 1 -1.2 1 0.3 0.5 1.1 0.8 6.5 -0.3 1.0zM146.0 306.1l-6.5 0.2 -11.5 -1.5 -4.4 -1.7 -1.2 -1.0 -0.7 -1.5 0.3 -3.5 2.6 -4.5 7.1 -7.5 9 -5.2 7 5.7 4.9 3.0 2.1 2.5 1.1 2.5 0 5.0 0.8 3.5 -2.4 1.5 -8 2.5zM119.5 263.6l-1.5 0.2 -1.4 -0.7 -1 -3.0 -0 -7.0 1.3 -2.0 1.6 -0.7 0.8 0.2 0.4 1.0 -1.3 2.5 0.1 1.1 2 0.6 3.5 -1.6 1.5 1.2 0.6 1.6 -0.1 1.5 -1 1.5 -5.5 3.5zM146.5 305.2l-9.5 0 -8.2 -1.5 -3.3 -2.0 -0.3 -2.0 0.5 -2.0 5.2 -8.0 2.1 -2.3 4 -1.7 4.5 -0.5 2.5 1.1 7.3 5.3 0.9 2.5 -0.1 7.5 -1.9 2.0 -3.8 1.6zM146.0 304.2l-8.5 0 -6.3 -2.1 -0.5 -1.0 0.2 -5.0 2.1 -4.4 2.5 -1.6 5.5 -1.4 2.5 0.5 3.7 2.4 1.5 2.5 1 7.0 -1.2 2.0 -2.5 1.1zM144.0 303.1l-6 -0.2 -3 -1.3 -0.5 -4.0 1.4 -3.0 2.3 -1.5 2.8 -0.9 2 0.1 2 1.1 1.2 2.2 1 5.5 -1.1 1.5 -2.1 0.5z" fill="none" stroke="#000" stroke-width="1.15" stroke-linejoin="round"/></g><line x1="139.4" y1="171.6" x2="139.4" y2="327.9" stroke="#111" stroke-width="1.3"/><line x1="80" y1="274.9" x2="236.6" y2="274.9" stroke="#111" stroke-width="1.3"/><clipPath id="clip12"><rect x="291.9" y="172.8" width="156.60000000000002" height="156.3"/></clipPath><g clip-path="url(#clip12)"><path d="M370.4 311.3l-43.5 -0.4 -6.5 -1.4 -2.5 -1.4 -1.7 -1.8 -2.1 -4.5 -0.9 -6.5 -0.5 -41.5 0.4 -4.5 1 -4.0 1.5 -3.0 2.3 -2.4 4.5 -2.0 6.5 -0.9 39 -0.8 9 1.2 2.9 1.5 2.1 2.1 1.6 2.9 1.2 4.0 1.3 13.0 0 17.5 -1.5 22.0 -1.6 4.5 -3.1 3.6 -4 2.0 -5.5 0.9z" fill="#ff3030" opacity="0.35"/><path d="M318 175.5h1m64 1h1m23 2h1m-41 2h1m2 5h1m15 0h1m44 2h1m-19 1h1m-1 7h1m-83 2h1m59 4h1m-6 5h1m-69 2h1m66 0h1m-90 1h1m9 1h1m58 2h1m28 2h1m-1 3h1m5 0h1m-93 1h1m67 0h1m22 0h1m-36 2h1m19 0h1m-8 1h1m9 0h1m50 0h1m-66 1h1m-39 1h1m53 0h1m1 0h1m-33 1h1m-43 1h1m14 0h1m2 0h1m37 0h1m3 0h1m-55 1h1m18 0h1m0 0h1m13 0h1m5 0h1m18 0h1m4 0h1m-65 1h1m4 0h1m0 0h1m1 0h1m7 0h1m19 0h1m28 0h1m7 0h1m-79 1h1m7 0h1m15 0h1m33 0h1m0 0h1m0 0h1m-71 1h1m7 0h1m2 0h1m13 0h1m12 0h1m1 0h1m2 0h1m2 0h1m3 0h1m0 0h1m1 0h1m1 0h1m2 0h1m2 0h1m1 0h1m2 0h1m12 0h1m-76 1h1m5 0h1m10 0h1m8 0h1m2 0h1m1 0h1m6 0h1m0 0h1m3 0h1m4 0h1m11 0h1m1 0h1m9 0h1m14 0h1m-95 1h1m8 0h1m6 0h1m4 0h1m3 0h1m2 0h1m2 0h1m0 0h1m6 0h1m0 0h1m0 0h1m4 0h1m3 0h1m2 0h1m2 0h1m7 0h1m0 0h1m1 0h1m1 0h1m1 0h1m7 0h1m10 0h1m-85 1h1m10 0h1m6 0h1m0 0h1m0 0h1m2 0h1m2 0h1m1 0h1m2 0h1m2 0h1m2 0h1m4 0h1m4 0h1m2 0h1m0 0h1m2 0h1m7 0h1m2 0h1m13 0h1m14 0h1m-89 1h1m1 0h1m2 0h1m1 0h1m6 0h1m6 0h1m0 0h1m3 0h1m0 0h1m0 0h1m0 0h1m3 0h1m4 0h1m1 0h1m4 0h1m1 0h1m0 0h1m0 0h1m0 0h1m0 0h1m1 0h1m0 0h1m1 0h1m0 0h1m3 0h1m0 0h1m4 0h1m2 0h1m-69 1h1m2 0h1m3 0h1m1 0h1m2 0h1m3 0h1m2 0h1m2 0h1m0 0h1m1 0h1m0 0h1m0 0h1m0 0h1m0 0h1m2 0h1m0 0h1m2 0h1m1 0h1m1 0h1m3 0h1m0 0h1m1 0h1m0 0h1m1 0h1m0 0h1m9 0h1m1 0h1m0 0h1m7 0h1m13 0h1m-98 1h1m8 0h1m0 0h1m4 0h1m0 0h1m1 0h1m0 0h1m1 0h1m0 0h1m1 0h1m2 0h1m1 0h1m11 0h1m1 0h1m2 0h1m1 0h1m2 0h1m0 0h1m0 0h1m1 0h1m2 0h1m2 0h1m3 0h1m0 0h1m4 0h1m1 0h1m3 0h1m10 0h1m-85 1h1m4 0h1m0 0h1m2 0h1m0 0h1m1 0h1m2 0h1m0 0h1m2 0h1m0 0h1m2 0h1m1 0h1m6 0h1m1 0h1m1 0h1m0 0h1m0 0h1m0 0h1m1 0h1m0 0h1m3 0h1m0 0h1m0 0h1m5 0h1m0 0h1m0 0h1m3 0h1m2 0h1m1 0h1m4 0h1m1 0h1m1 0h1m2 0h1m-74 1h1m3 0h1m0 0h1m5 0h1m0 0h1m0 0h1m0 0h1m2 0h1m0 0h1m0 0h1m1 0h1m0 0h1m1 0h1m0 0h1m2 0h1m3 0h1m2 0h1m1 0h1m1 0h1m1 0h1m0 0h1m0 0h1m3 0h1m0 0h1m1 0h1m0 0h1m1 0h1m1 0h1m0 0h1m0 0h1m0 0h1m0 0h1m0 0h1m0 0h1m0 0h1m1 0h1m0 0h1m4 0h1m1 0h1m1 0h1m-97 1h1m10 0h1m5 0h1m5 0h1m0 0h1m1 0h1m4 0h1m0 0h1m1 0h1m0 0h1m0 0h1m0 0h1m2 0h1m1 0h1m0 0h1m0 0h1m1 0h1m0 0h1m0 0h1m0 0h1m0 0h1m0 0h1m0 0h1m3 0h1m0 0h1m0 0h1m4 0h1m0 0h1m0 0h1m5 0h1m0 0h1m1 0h1m0 0h1m0 0h1m1 0h1m0 0h1m0 0h1m4 0h1m2 0h1m1 0h1m0 0h1m0 0h1m8 0h1m1 0h1m2 0h1m-102 1h1m6 0h1m3 0h1m2 0h1m6 0h1m0 0h1m1 0h1m0 0h1m0 0h1m6 0h1m1 0h1m0 0h1m0 0h1m0 0h1m1 0h1m0 0h1m0 0h1m3 0h1m1 0h1m1 0h1m2 0h1m0 0h1m0 0h1m1 0h1m0 0h1m1 0h1m0 0h1m1 0h1m0 0h1m0 0h1m2 0h1m0 0h1m2 0h1m0 0h1m0 0h1m0 0h1m0 0h1m0 0h1m0 0h1m0 0h1m0 0h1m12 0h1m-81 1h1m1 0h1m1 0h1m1 0h1m1 0h1m1 0h1m0 0h1m0 0h1m1 0h1m3 0h1m0 0h1m0 0h1m0 0h1m0 0h1m1 0h1m2 0h1m0 0h1m0 0h1m3 0h1m0 0h1m1 0h1m0 0h1m0 0h1m0 0h1m6 0h1m1 0h1m0 0h1m1 0h1m0 0h1m0 0h1m0 0h1m0 0h1m0 0h1m1 0h1m1 0h1m1 0h1m0 0h1m1 0h1m0 0h1m1 0h1m2 0h1m-74 1h1m1 0h1m0 0h1m1 0h1m0 0h1m1 0h1m1 0h1m0 0h1m0 0h1m0 0h1m0 0h1m0 0h1m0 0h1m0 0h1m0 0h1m0 0h1m2 0h1m0 0h1m1 0h1m0 0h1m0 0h1m0 0h1m1 0h1m0 0h1m0 0h1m1 0h1m1 0h1m0 0h1m2 0h1m1 0h1m1 0h1m0 0h1m0 0h1m2 0h1m1 0h1m2 0h1m0 0h1m0 0h1m3 0h1m0 0h1m1 0h1m0 0h1m1 0h1m0 0h1m0 0h1m0 0h1m2 0h1m4 0h1m-88 1h1m8 0h1m1 0h1m2 0h1m0 0h1m1 0h1m1 0h1m0 0h1m1 0h1m0 0h1m3 0h1m1 0h1m1 0h1m0 0h1m0 0h1m0 0h1m0 0h1m0 0h1m0 0h1m0 0h1m0 0h1m1 0h1m0 0h1m0 0h1m0 0h1m1 0h1m0 0h1m0 0h1m0 0h1m0 0h1m0 0h1m4 0h1m0 0h1m0 0h1m0 0h1m0 0h1m0 0h1m0 0h1m1 0h1m2 0h1m0 0h1m0 0h1m0 0h1m0 0h1m1 0h1m0 0h1m0 0h1m2 0h1m2 0h1m1 0h1m6 0h1m4 0h1m1 0h1m2 0h1m-97 1h1m5 0h1m0 0h1m4 0h1m0 0h1m0 0h1m2 0h1m0 0h1m0 0h1m0 0h1m1 0h1m1 0h1m0 0h1m0 0h1m0 0h1m0 0h1m0 0h1m0 0h1m2 0h1m0 0h1m2 0h1m0 0h1m1 0h1m0 0h1m1 0h1m2 0h1m0 0h1m0 0h1m1 0h1m0 0h1m1 0h1m0 0h1m0 0h1m0 0h1m1 0h1m0 0h1m1 0h1m0 0h1m0 0h1m0 0h1m0 0h1m1 0h1m0 0h1m1 0h1m2 0h1m0 0h1m1 0h1m4 0h1m0 0h1m-80 1h1m2 0h1m2 0h1m1 0h1m0 0h1m0 0h1m1 0h1m4 0h1m0 0h1m0 0h1m1 0h1m0 0h1m0 0h1m0 0h1m0 0h1m0 0h1m0 0h1m0 0h1m0 0h1m2 0h1m0 0h1m1 0h1m0 0h1m0 0h1m1 0h1m0 0h1m0 0h1m0 0h1m0 0h1m1 0h1m2 0h1m0 0h1m0 0h1m3 0h1m0 0h1m1 0h1m0 0h1m2 0h1m0 0h1m0 0h1m0 0h1m0 0h1m1 0h1m2 0h1m2 0h1m0 0h1m0 0h1m0 0h1m2 0h1m13 0h1m-97 1h1m3 0h1m4 0h1m0 0h1m1 0h1m0 0h1m0 0h1m0 0h1m0 0h1m1 0h1m3 0h1m1 0h1m0 0h1m0 0h1m0 0h1m0 0h1m0 0h1m0 0h1m0 0h1m1 0h1m0 0h1m0 0h1m0 0h1m0 0h1m0 0h1m0 0h1m0 0h1m1 0h1m0 0h1m0 0h1m0 0h1m1 0h1m1 0h1m0 0h1m0 0h1m0 0h1m0 0h1m2 0h1m1 0h1m0 0h1m0 0h1m0 0h1m1 0h1m3 0h1m0 0h1m1 0h1m0 0h1m1 0h1m3 0h1m0 0h1m0 0h1m6 0h1m2 0h1m-85 1h1m1 0h1m2 0h1m0 0h1m1 0h1m1 0h1m0 0h1m0 0h1m0 0h1m0 0h1m1 0h1m0 0h1m0 0h1m1 0h1m0 0h1m1 0h1m0 0h1m2 0h1m0 0h1m1 0h1m0 0h1m0 0h1m0 0h1m0 0h1m0 0h1m1 0h1m2 0h1m0 0h1m0 0h1m0 0h1m0 0h1m1 0h1m0 0h1m5 0h1m1 0h1m0 0h1m1 0h1m0 0h1m0 0h1m3 0h1m0 0h1m0 0h1m0 0h1m1 0h1m2 0h1m3 0h1m-75 1h1m2 0h1m1 0h1m0 0h1m0 0h1m0 0h1m1 0h1m0 0h1m1 0h1m0 0h1m0 0h1m0 0h1m0 0h1m0 0h1m0 0h1m0 0h1m0 0h1m0 0h1m0 0h1m0 0h1m0 0h1m0 0h1m0 0h1m0 0h1m0 0h1m0 0h1m0 0h1m0 0h1m0 0h1m0 0h1m0 0h1m0 0h1m0 0h1m0 0h1m1 0h1m0 0h1m0 0h1m1 0h1m0 0h1m0 0h1m0 0h1m0 0h1m0 0h1m0 0h1m0 0h1m0 0h1m0 0h1m0 0h1m1 0h1m0 0h1m0 0h1m1 0h1m1 0h1m0 0h1m0 0h1m3 0h1m0 0h1m1 0h1m0 0h1m3 0h1m3 0h1m3 0h1m-85 1h1m0 0h1m1 0h1m0 0h1m0 0h1m0 0h1m2 0h1m0 0h1m0 0h1m1 0h1m0 0h1m0 0h1m0 0h1m0 0h1m0 0h1m0 0h1m0 0h1m0 0h1m0 0h1m1 0h1m0 0h1m0 0h1m0 0h1m0 0h1m0 0h1m0 0h1m0 0h1m0 0h1m0 0h1m0 0h1m1 0h1m0 0h1m0 0h1m2 0h1m0 0h1m1 0h1m0 0h1m2 0h1m0 0h1m0 0h1m0 0h1m0 0h1m0 0h1m0 0h1m0 0h1m1 0h1m1 0h1m0 0h1m1 0h1m0 0h1m0 0h1m0 0h1m0 0h1m1 0h1m0 0h1m1 0h1m0 0h1m0 0h1m1 0h1m0 0h1m0 0h1m1 0h1m-90 1h1m2 0h1m6 0h1m2 0h1m0 0h1m1 0h1m0 0h1m0 0h1m1 0h1m0 0h1m0 0h1m1 0h1m1 0h1m0 0h1m0 0h1m0 0h1m0 0h1m0 0h1m0 0h1m0 0h1m0 0h1m0 0h1m2 0h1m0 0h1m1 0h1m0 0h1m0 0h1m0 0h1m0 0h1m2 0h1m0 0h1m1 0h1m0 0h1m0 0h1m1 0h1m3 0h1m0 0h1m0 0h1m0 0h1m0 0h1m1 0h1m0 0h1m0 0h1m1 0h1m0 0h1m4 0h1m0 0h1m0 0h1m0 0h1m1 0h1m2 0h1m-77 1h1m0 0h1m4 0h1m0 0h1m2 0h1m0 0h1m0 0h1m0 0h1m1 0h1m2 0h1m1 0h1m0 0h1m0 0h1m0 0h1m0 0h1m0 0h1m1 0h1m0 0h1m0 0h1m0 0h1m0 0h1m0 0h1m0 0h1m0 0h1m0 0h1m1 0h1m1 0h1m0 0h1m0 0h1m0 0h1m0 0h1m0 0h1m1 0h1m1 0h1m0 0h1m2 0h1m0 0h1m0 0h1m0 0h1m0 0h1m0 0h1m0 0h1m0 0h1m0 0h1m0 0h1m0 0h1m0 0h1m1 0h1m0 0h1m2 0h1m0 0h1m0 0h1m0 0h1m0 0h1m1 0h1m11 0h1m9 0h1m-94 1h1m2 0h1m0 0h1m0 0h1m1 0h1m0 0h1m1 0h1m0 0h1m0 0h1m1 0h1m0 0h1m0 0h1m0 0h1m0 0h1m0 0h1m0 0h1m0 0h1m0 0h1m0 0h1m0 0h1m0 0h1m0 0h1m0 0h1m0 0h1m1 0h1m0 0h1m0 0h1m1 0h1m2 0h1m0 0h1m0 0h1m0 0h1m0 0h1m0 0h1m0 0h1m1 0h1m2 0h1m2 0h1m2 0h1m0 0h1m0 0h1m2 0h1m0 0h1m0 0h1m0 0h1m0 0h1m0 0h1m0 0h1m0 0h1m1 0h1m1 0h1m0 0h1m0 0h1m1 0h1m3 0h1m0 0h1m-82 1h1m1 0h1m0 0h1m3 0h1m0 0h1m1 0h1m1 0h1m0 0h1m2 0h1m0 0h1m0 0h1m0 0h1m0 0h1m0 0h1m0 0h1m1 0h1m0 0h1m0 0h1m0 0h1m0 0h1m0 0h1m1 0h1m0 0h1m0 0h1m0 0h1m0 0h1m2 0h1m0 0h1m0 0h1m0 0h1m1 0h1m0 0h1m0 0h1m1 0h1m0 0h1m1 0h1m1 0h1m0 0h1m0 0h1m0 0h1m0 0h1m0 0h1m0 0h1m0 0h1m0 0h1m0 0h1m0 0h1m0 0h1m0 0h1m0 0h1m0 0h1m0 0h1m0 0h1m0 0h1m1 0h1m2 0h1m16 0h1m7 0h1m-100 1h1m2 0h1m0 0h1m0 0h1m0 0h1m0 0h1m1 0h1m1 0h1m0 0h1m0 0h1m0 0h1m0 0h1m0 0h1m0 0h1m0 0h1m0 0h1m0 0h1m0 0h1m0 0h1m0 0h1m0 0h1m1 0h1m0 0h1m1 0h1m0 0h1m0 0h1m0 0h1m0 0h1m0 0h1m0 0h1m0 0h1m0 0h1m0 0h1m0 0h1m0 0h1m0 0h1m0 0h1m0 0h1m0 0h1m1 0h1m1 0h1m0 0h1m0 0h1m0 0h1m1 0h1m1 0h1m0 0h1m0 0h1m0 0h1m1 0h1m1 0h1m0 0h1m1 0h1m0 0h1m0 0h1m0 0h1m1 0h1m1 0h1m1 0h1m3 0h1m8 0h1m1 0h1m1 0h1m-100 1h1m2 0h1m5 0h1m0 0h1m2 0h1m0 0h1m0 0h1m0 0h1m0 0h1m0 0h1m0 0h1m0 0h1m0 0h1m0 0h1m0 0h1m1 0h1m0 0h1m0 0h1m0 0h1m0 0h1m0 0h1m0 0h1m0 0h1m0 0h1m0 0h1m0 0h1m0 0h1m0 0h1m0 0h1m0 0h1m0 0h1m0 0h1m0 0h1m0 0h1m0 0h1m0 0h1m0 0h1m0 0h1m2 0h1m1 0h1m0 0h1m0 0h1m0 0h1m4 0h1m1 0h1m0 0h1m0 0h1m0 0h1m0 0h1m0 0h1m0 0h1m0 0h1m1 0h1m0 0h1m0 0h1m0 0h1m0 0h1m0 0h1m0 0h1m0 0h1m0 0h1m4 0h1m2 0h1m1 0h1m6 0h1m10 0h1m-114 1h1m9 0h1m3 0h1m0 0h1m0 0h1m0 0h1m0 0h1m0 0h1m0 0h1m0 0h1m0 0h1m0 0h1m0 0h1m1 0h1m0 0h1m0 0h1m0 0h1m0 0h1m0 0h1m0 0h1m0 0h1m0 0h1m0 0h1m0 0h1m0 0h1m0 0h1m0 0h1m0 0h1m0 0h1m0 0h1m0 0h1m0 0h1m0 0h1m0 0h1m0 0h1m0 0h1m1 0h1m1 0h1m0 0h1m0 0h1m0 0h1m3 0h1m0 0h1m0 0h1m0 0h1m1 0h1m0 0h1m0 0h1m0 0h1m0 0h1m1 0h1m1 0h1m1 0h1m1 0h1m0 0h1m0 0h1m0 0h1m1 0h1m0 0h1m0 0h1m0 0h1m0 0h1m0 0h1m0 0h1m0 0h1m1 0h1m1 0h1m1 0h1m-83 1h1m1 0h1m1 0h1m1 0h1m2 0h1m1 0h1m0 0h1m0 0h1m0 0h1m0 0h1m0 0h1m0 0h1m0 0h1m0 0h1m0 0h1m0 0h1m0 0h1m0 0h1m0 0h1m0 0h1m0 0h1m0 0h1m0 0h1m0 0h1m0 0h1m0 0h1m0 0h1m0 0h1m0 0h1m0 0h1m0 0h1m0 0h1m0 0h1m1 0h1m1 0h1m0 0h1m0 0h1m0 0h1m0 0h1m0 0h1m0 0h1m0 0h1m1 0h1m0 0h1m0 0h1m0 0h1m3 0h1m0 0h1m1 0h1m0 0h1m1 0h1m2 0h1m0 0h1m2 0h1m0 0h1m1 0h1m0 0h1m1 0h1m3 0h1m1 0h1m2 0h1m-85 1h1m0 0h1m2 0h1m1 0h1m0 0h1m1 0h1m0 0h1m0 0h1m0 0h1m0 0h1m0 0h1m0 0h1m2 0h1m0 0h1m0 0h1m0 0h1m1 0h1m0 0h1m0 0h1m0 0h1m0 0h1m0 0h1m0 0h1m0 0h1m0 0h1m0 0h1m1 0h1m1 0h1m0 0h1m0 0h1m0 0h1m1 0h1m0 0h1m0 0h1m0 0h1m2 0h1m0 0h1m0 0h1m1 0h1m0 0h1m0 0h1m0 0h1m1 0h1m0 0h1m2 0h1m0 0h1m0 0h1m0 0h1m0 0h1m0 0h1m1 0h1m1 0h1m0 0h1m0 0h1m0 0h1m2 0h1m8 0h1m-81 1h1m1 0h1m0 0h1m0 0h1m0 0h1m1 0h1m0 0h1m1 0h1m0 0h1m0 0h1m0 0h1m0 0h1m0 0h1m0 0h1m0 0h1m0 0h1m0 0h1m0 0h1m0 0h1m0 0h1m0 0h1m1 0h1m0 0h1m0 0h1m0 0h1m0 0h1m0 0h1m0 0h1m0 0h1m0 0h1m0 0h1m0 0h1m0 0h1m0 0h1m0 0h1m0 0h1m0 0h1m0 0h1m0 0h1m0 0h1m0 0h1m0 0h1m0 0h1m1 0h1m0 0h1m0 0h1m0 0h1m0 0h1m0 0h1m0 0h1m2 0h1m0 0h1m0 0h1m0 0h1m0 0h1m3 0h1m0 0h1m0 0h1m0 0h1m0 0h1m0 0h1m0 0h1m0 0h1m2 0h1m0 0h1m1 0h1m0 0h1m3 0h1m23 0h1m-111 1h1m0 0h1m0 0h1m0 0h1m0 0h1m0 0h1m0 0h1m0 0h1m0 0h1m0 0h1m2 0h1m1 0h1m0 0h1m0 0h1m0 0h1m0 0h1m0 0h1m0 0h1m0 0h1m1 0h1m0 0h1m0 0h1m0 0h1m0 0h1m1 0h1m0 0h1m0 0h1m0 0h1m2 0h1m0 0h1m0 0h1m0 0h1m0 0h1m0 0h1m0 0h1m0 0h1m2 0h1m0 0h1m2 0h1m0 0h1m0 0h1m0 0h1m0 0h1m4 0h1m0 0h1m0 0h1m0 0h1m0 0h1m0 0h1m0 0h1m1 0h1m1 0h1m1 0h1m0 0h1m0 0h1m1 0h1m1 0h1m1 0h1m0 0h1m1 0h1m0 0h1m4 0h1m-96 1h1m2 0h1m3 0h1m1 0h1m0 0h1m1 0h1m0 0h1m0 0h1m0 0h1m0 0h1m0 0h1m0 0h1m0 0h1m1 0h1m1 0h1m0 0h1m0 0h1m1 0h1m0 0h1m0 0h1m0 0h1m1 0h1m1 0h1m0 0h1m0 0h1m0 0h1m0 0h1m1 0h1m1 0h1m0 0h1m0 0h1m0 0h1m1 0h1m0 0h1m0 0h1m0 0h1m0 0h1m0 0h1m1 0h1m0 0h1m0 0h1m0 0h1m1 0h1m0 0h1m0 0h1m1 0h1m0 0h1m0 0h1m0 0h1m2 0h1m0 0h1m0 0h1m1 0h1m1 0h1m2 0h1m0 0h1m0 0h1m1 0h1m0 0h1m3 0h1m0 0h1m0 0h1m-85 1h1m1 0h1m0 0h1m3 0h1m0 0h1m0 0h1m0 0h1m0 0h1m0 0h1m1 0h1m0 0h1m0 0h1m0 0h1m0 0h1m0 0h1m0 0h1m0 0h1m0 0h1m0 0h1m0 0h1m1 0h1m0 0h1m1 0h1m0 0h1m0 0h1m1 0h1m0 0h1m0 0h1m0 0h1m4 0h1m1 0h1m0 0h1m0 0h1m0 0h1m0 0h1m1 0h1m0 0h1m0 0h1m0 0h1m0 0h1m0 0h1m0 0h1m0 0h1m0 0h1m0 0h1m0 0h1m1 0h1m0 0h1m0 0h1m1 0h1m1 0h1m0 0h1m0 0h1m1 0h1m0 0h1m0 0h1m0 0h1m1 0h1m0 0h1m6 0h1m7 0h1m-96 1h1m4 0h1m0 0h1m0 0h1m1 0h1m0 0h1m0 0h1m3 0h1m0 0h1m1 0h1m1 0h1m1 0h1m0 0h1m0 0h1m0 0h1m0 0h1m0 0h1m0 0h1m0 0h1m0 0h1m2 0h1m0 0h1m0 0h1m0 0h1m2 0h1m0 0h1m0 0h1m0 0h1m1 0h1m0 0h1m0 0h1m0 0h1m0 0h1m0 0h1m0 0h1m0 0h1m0 0h1m1 0h1m0 0h1m1 0h1m0 0h1m0 0h1m1 0h1m0 0h1m0 0h1m1 0h1m0 0h1m1 0h1m0 0h1m0 0h1m0 0h1m2 0h1m0 0h1m1 0h1m1 0h1m1 0h1m1 0h1m3 0h1m-90 1h1m7 0h1m1 0h1m2 0h1m0 0h1m2 0h1m1 0h1m0 0h1m0 0h1m0 0h1m1 0h1m2 0h1m1 0h1m1 0h1m0 0h1m0 0h1m0 0h1m0 0h1m0 0h1m0 0h1m0 0h1m0 0h1m0 0h1m0 0h1m0 0h1m0 0h1m0 0h1m0 0h1m0 0h1m0 0h1m0 0h1m0 0h1m0 0h1m0 0h1m0 0h1m0 0h1m0 0h1m0 0h1m0 0h1m0 0h1m0 0h1m1 0h1m1 0h1m2 0h1m2 0h1m0 0h1m1 0h1m0 0h1m0 0h1m0 0h1m0 0h1m0 0h1m0 0h1m0 0h1m0 0h1m0 0h1m0 0h1m1 0h1m1 0h1m9 0h1m2 0h1m-93 1h1m2 0h1m3 0h1m0 0h1m5 0h1m0 0h1m0 0h1m0 0h1m0 0h1m0 0h1m0 0h1m0 0h1m0 0h1m1 0h1m0 0h1m0 0h1m0 0h1m0 0h1m0 0h1m0 0h1m0 0h1m1 0h1m0 0h1m0 0h1m2 0h1m0 0h1m1 0h1m0 0h1m0 0h1m1 0h1m0 0h1m0 0h1m0 0h1m0 0h1m0 0h1m0 0h1m0 0h1m0 0h1m0 0h1m0 0h1m0 0h1m0 0h1m1 0h1m1 0h1m1 0h1m0 0h1m0 0h1m0 0h1m0 0h1m0 0h1m0 0h1m1 0h1m0 0h1m2 0h1m0 0h1m1 0h1m0 0h1m0 0h1m0 0h1m5 0h1m-93 1h1m4 0h1m1 0h1m1 0h1m0 0h1m1 0h1m0 0h1m0 0h1m0 0h1m2 0h1m0 0h1m0 0h1m0 0h1m0 0h1m0 0h1m0 0h1m0 0h1m0 0h1m0 0h1m0 0h1m1 0h1m2 0h1m0 0h1m0 0h1m2 0h1m0 0h1m1 0h1m0 0h1m0 0h1m1 0h1m0 0h1m0 0h1m0 0h1m1 0h1m0 0h1m0 0h1m0 0h1m0 0h1m1 0h1m0 0h1m0 0h1m0 0h1m2 0h1m0 0h1m0 0h1m0 0h1m0 0h1m0 0h1m0 0h1m0 0h1m0 0h1m0 0h1m0 0h1m0 0h1m0 0h1m1 0h1m0 0h1m0 0h1m1 0h1m0 0h1m6 0h1m-90 1h1m3 0h1m2 0h1m1 0h1m0 0h1m1 0h1m0 0h1m0 0h1m0 0h1m0 0h1m1 0h1m0 0h1m1 0h1m1 0h1m0 0h1m0 0h1m0 0h1m0 0h1m0 0h1m2 0h1m0 0h1m1 0h1m0 0h1m0 0h1m0 0h1m0 0h1m0 0h1m0 0h1m0 0h1m0 0h1m0 0h1m1 0h1m0 0h1m0 0h1m0 0h1m0 0h1m0 0h1m0 0h1m0 0h1m1 0h1m0 0h1m0 0h1m0 0h1m0 0h1m0 0h1m1 0h1m0 0h1m1 0h1m0 0h1m0 0h1m2 0h1m0 0h1m0 0h1m0 0h1m0 0h1m0 0h1m0 0h1m1 0h1m0 0h1m0 0h1m0 0h1m1 0h1m6 0h1m8 0h1m-91 1h1m4 0h1m0 0h1m0 0h1m0 0h1m0 0h1m0 0h1m2 0h1m0 0h1m1 0h1m0 0h1m1 0h1m0 0h1m1 0h1m0 0h1m0 0h1m0 0h1m1 0h1m0 0h1m0 0h1m0 0h1m0 0h1m0 0h1m0 0h1m0 0h1m0 0h1m0 0h1m0 0h1m0 0h1m0 0h1m0 0h1m0 0h1m1 0h1m0 0h1m0 0h1m0 0h1m0 0h1m0 0h1m1 0h1m1 0h1m0 0h1m0 0h1m0 0h1m0 0h1m0 0h1m0 0h1m2 0h1m0 0h1m0 0h1m0 0h1m0 0h1m0 0h1m2 0h1m0 0h1m1 0h1m1 0h1m0 0h1m0 0h1m0 0h1m12 0h1m-98 1h1m3 0h1m4 0h1m0 0h1m2 0h1m2 0h1m1 0h1m1 0h1m0 0h1m2 0h1m0 0h1m1 0h1m0 0h1m0 0h1m2 0h1m0 0h1m0 0h1m0 0h1m0 0h1m0 0h1m0 0h1m0 0h1m1 0h1m0 0h1m0 0h1m1 0h1m0 0h1m1 0h1m1 0h1m0 0h1m1 0h1m1 0h1m1 0h1m1 0h1m0 0h1m0 0h1m1 0h1m0 0h1m0 0h1m0 0h1m0 0h1m2 0h1m0 0h1m0 0h1m0 0h1m0 0h1m0 0h1m1 0h1m0 0h1m0 0h1m9 0h1m0 0h1m1 0h1m-90 1h1m0 0h1m2 0h1m2 0h1m1 0h1m1 0h1m0 0h1m0 0h1m0 0h1m0 0h1m1 0h1m0 0h1m2 0h1m0 0h1m0 0h1m0 0h1m2 0h1m0 0h1m0 0h1m0 0h1m0 0h1m0 0h1m0 0h1m0 0h1m0 0h1m1 0h1m0 0h1m0 0h1m1 0h1m1 0h1m1 0h1m1 0h1m1 0h1m0 0h1m0 0h1m0 0h1m0 0h1m0 0h1m2 0h1m0 0h1m0 0h1m0 0h1m0 0h1m0 0h1m0 0h1m1 0h1m0 0h1m0 0h1m0 0h1m0 0h1m0 0h1m0 0h1m0 0h1m0 0h1m1 0h1m3 0h1m2 0h1m1 0h1m6 0h1m-92 1h1m6 0h1m2 0h1m1 0h1m1 0h1m0 0h1m0 0h1m0 0h1m0 0h1m0 0h1m0 0h1m0 0h1m0 0h1m0 0h1m0 0h1m0 0h1m0 0h1m0 0h1m0 0h1m0 0h1m0 0h1m1 0h1m1 0h1m1 0h1m0 0h1m0 0h1m0 0h1m0 0h1m0 0h1m0 0h1m0 0h1m0 0h1m0 0h1m1 0h1m0 0h1m0 0h1m0 0h1m0 0h1m0 0h1m1 0h1m1 0h1m0 0h1m0 0h1m0 0h1m0 0h1m1 0h1m0 0h1m1 0h1m0 0h1m0 0h1m0 0h1m0 0h1m0 0h1m0 0h1m1 0h1m0 0h1m5 0h1m2 0h1m5 0h1m11 0h1m-104 1h1m9 0h1m1 0h1m0 0h1m4 0h1m0 0h1m1 0h1m0 0h1m1 0h1m0 0h1m0 0h1m0 0h1m0 0h1m0 0h1m0 0h1m0 0h1m0 0h1m1 0h1m0 0h1m1 0h1m0 0h1m1 0h1m0 0h1m1 0h1m0 0h1m1 0h1m0 0h1m0 0h1m2 0h1m0 0h1m0 0h1m1 0h1m0 0h1m0 0h1m0 0h1m0 0h1m0 0h1m1 0h1m0 0h1m0 0h1m0 0h1m0 0h1m2 0h1m0 0h1m0 0h1m1 0h1m0 0h1m0 0h1m0 0h1m0 0h1m0 0h1m0 0h1m0 0h1m0 0h1m2 0h1m0 0h1m6 0h1m7 0h1m22 0h1m-122 1h1m1 0h1m3 0h1m1 0h1m1 0h1m1 0h1m2 0h1m0 0h1m0 0h1m1 0h1m0 0h1m0 0h1m1 0h1m0 0h1m0 0h1m0 0h1m0 0h1m0 0h1m1 0h1m0 0h1m0 0h1m1 0h1m0 0h1m2 0h1m1 0h1m0 0h1m0 0h1m0 0h1m0 0h1m0 0h1m0 0h1m0 0h1m0 0h1m1 0h1m0 0h1m0 0h1m1 0h1m0 0h1m0 0h1m0 0h1m1 0h1m0 0h1m0 0h1m0 0h1m0 0h1m0 0h1m1 0h1m0 0h1m0 0h1m3 0h1m0 0h1m1 0h1m1 0h1m1 0h1m37 0h1m-117 1h1m4 0h1m1 0h1m0 0h1m1 0h1m0 0h1m0 0h1m0 0h1m1 0h1m0 0h1m1 0h1m0 0h1m1 0h1m0 0h1m0 0h1m0 0h1m0 0h1m0 0h1m0 0h1m0 0h1m0 0h1m0 0h1m0 0h1m0 0h1m0 0h1m3 0h1m0 0h1m0 0h1m0 0h1m0 0h1m0 0h1m0 0h1m1 0h1m0 0h1m0 0h1m0 0h1m0 0h1m1 0h1m0 0h1m0 0h1m0 0h1m0 0h1m0 0h1m0 0h1m0 0h1m1 0h1m0 0h1m0 0h1m0 0h1m0 0h1m0 0h1m1 0h1m0 0h1m0 0h1m2 0h1m1 0h1m0 0h1m4 0h1m0 0h1m0 0h1m2 0h1m-92 1h1m3 0h1m0 0h1m6 0h1m0 0h1m0 0h1m1 0h1m0 0h1m0 0h1m0 0h1m0 0h1m0 0h1m0 0h1m0 0h1m1 0h1m1 0h1m0 0h1m1 0h1m0 0h1m0 0h1m3 0h1m0 0h1m0 0h1m0 0h1m4 0h1m1 0h1m0 0h1m0 0h1m1 0h1m0 0h1m0 0h1m0 0h1m0 0h1m0 0h1m0 0h1m0 0h1m0 0h1m0 0h1m0 0h1m1 0h1m0 0h1m1 0h1m0 0h1m1 0h1m0 0h1m1 0h1m1 0h1m1 0h1m2 0h1m0 0h1m6 0h1m0 0h1m1 0h1m8 0h1m-95 1h1m3 0h1m1 0h1m1 0h1m0 0h1m1 0h1m1 0h1m0 0h1m0 0h1m2 0h1m0 0h1m1 0h1m0 0h1m0 0h1m1 0h1m0 0h1m0 0h1m0 0h1m0 0h1m0 0h1m0 0h1m0 0h1m1 0h1m0 0h1m0 0h1m1 0h1m0 0h1m0 0h1m0 0h1m0 0h1m0 0h1m0 0h1m1 0h1m2 0h1m1 0h1m0 0h1m0 0h1m0 0h1m0 0h1m0 0h1m1 0h1m0 0h1m0 0h1m0 0h1m0 0h1m0 0h1m0 0h1m0 0h1m0 0h1m0 0h1m1 0h1m1 0h1m0 0h1m0 0h1m0 0h1m1 0h1m0 0h1m0 0h1m1 0h1m4 0h1m0 0h1m-84 1h1m1 0h1m0 0h1m1 0h1m0 0h1m0 0h1m0 0h1m0 0h1m0 0h1m1 0h1m0 0h1m0 0h1m1 0h1m2 0h1m0 0h1m0 0h1m0 0h1m0 0h1m0 0h1m0 0h1m0 0h1m0 0h1m0 0h1m0 0h1m0 0h1m0 0h1m0 0h1m0 0h1m0 0h1m0 0h1m1 0h1m0 0h1m0 0h1m0 0h1m0 0h1m1 0h1m1 0h1m0 0h1m0 0h1m1 0h1m1 0h1m0 0h1m0 0h1m0 0h1m0 0h1m0 0h1m0 0h1m0 0h1m0 0h1m0 0h1m0 0h1m0 0h1m0 0h1m1 0h1m1 0h1m0 0h1m0 0h1m0 0h1m0 0h1m0 0h1m0 0h1m1 0h1m0 0h1m3 0h1m3 0h1m2 0h1m-89 1h1m0 0h1m1 0h1m0 0h1m2 0h1m0 0h1m0 0h1m0 0h1m1 0h1m1 0h1m0 0h1m0 0h1m1 0h1m0 0h1m0 0h1m0 0h1m1 0h1m0 0h1m0 0h1m0 0h1m1 0h1m0 0h1m1 0h1m1 0h1m0 0h1m0 0h1m0 0h1m0 0h1m1 0h1m1 0h1m0 0h1m0 0h1m0 0h1m0 0h1m0 0h1m0 0h1m0 0h1m1 0h1m0 0h1m0 0h1m1 0h1m2 0h1m0 0h1m1 0h1m0 0h1m0 0h1m0 0h1m0 0h1m2 0h1m0 0h1m0 0h1m0 0h1m0 0h1m0 0h1m1 0h1m0 0h1m2 0h1m0 0h1m0 0h1m2 0h1m1 0h1m-85 1h1m2 0h1m0 0h1m0 0h1m0 0h1m0 0h1m0 0h1m0 0h1m2 0h1m0 0h1m0 0h1m0 0h1m1 0h1m0 0h1m1 0h1m0 0h1m0 0h1m0 0h1m1 0h1m3 0h1m0 0h1m0 0h1m1 0h1m1 0h1m0 0h1m0 0h1m1 0h1m5 0h1m0 0h1m0 0h1m1 0h1m1 0h1m0 0h1m1 0h1m0 0h1m0 0h1m0 0h1m0 0h1m1 0h1m0 0h1m0 0h1m0 0h1m2 0h1m0 0h1m1 0h1m0 0h1m0 0h1m1 0h1m2 0h1m3 0h1m2 0h1m0 0h1m0 0h1m3 0h1m4 0h1m-98 1h1m0 0h1m1 0h1m0 0h1m0 0h1m2 0h1m1 0h1m1 0h1m0 0h1m3 0h1m0 0h1m0 0h1m0 0h1m0 0h1m1 0h1m1 0h1m0 0h1m0 0h1m0 0h1m0 0h1m1 0h1m0 0h1m0 0h1m0 0h1m0 0h1m0 0h1m0 0h1m0 0h1m0 0h1m0 0h1m2 0h1m1 0h1m0 0h1m0 0h1m0 0h1m2 0h1m0 0h1m0 0h1m0 0h1m0 0h1m0 0h1m0 0h1m0 0h1m0 0h1m0 0h1m0 0h1m0 0h1m0 0h1m0 0h1m1 0h1m0 0h1m1 0h1m0 0h1m1 0h1m4 0h1m0 0h1m0 0h1m1 0h1m1 0h1m0 0h1m6 0h1m3 0h1m6 0h1m-99 1h1m1 0h1m1 0h1m0 0h1m1 0h1m1 0h1m1 0h1m0 0h1m0 0h1m0 0h1m1 0h1m3 0h1m0 0h1m0 0h1m0 0h1m0 0h1m0 0h1m0 0h1m0 0h1m0 0h1m0 0h1m1 0h1m0 0h1m0 0h1m0 0h1m0 0h1m0 0h1m0 0h1m0 0h1m1 0h1m2 0h1m0 0h1m1 0h1m1 0h1m0 0h1m1 0h1m0 0h1m0 0h1m0 0h1m0 0h1m0 0h1m0 0h1m0 0h1m0 0h1m1 0h1m1 0h1m1 0h1m1 0h1m2 0h1m0 0h1m0 0h1m2 0h1m0 0h1m1 0h1m4 0h1m8 0h1m-101 1h1m0 0h1m8 0h1m5 0h1m2 0h1m0 0h1m0 0h1m0 0h1m1 0h1m0 0h1m0 0h1m0 0h1m0 0h1m0 0h1m0 0h1m0 0h1m1 0h1m1 0h1m0 0h1m0 0h1m2 0h1m2 0h1m0 0h1m0 0h1m0 0h1m1 0h1m0 0h1m2 0h1m0 0h1m0 0h1m0 0h1m0 0h1m1 0h1m0 0h1m0 0h1m1 0h1m0 0h1m0 0h1m0 0h1m0 0h1m0 0h1m0 0h1m0 0h1m0 0h1m0 0h1m0 0h1m0 0h1m1 0h1m1 0h1m2 0h1m5 0h1m1 0h1m0 0h1m0 0h1m1 0h1m-89 1h1m0 0h1m3 0h1m0 0h1m2 0h1m3 0h1m2 0h1m0 0h1m0 0h1m0 0h1m0 0h1m1 0h1m0 0h1m1 0h1m0 0h1m0 0h1m0 0h1m5 0h1m0 0h1m0 0h1m1 0h1m1 0h1m0 0h1m0 0h1m0 0h1m0 0h1m0 0h1m0 0h1m3 0h1m0 0h1m0 0h1m0 0h1m2 0h1m0 0h1m1 0h1m0 0h1m0 0h1m0 0h1m0 0h1m0 0h1m0 0h1m0 0h1m0 0h1m0 0h1m0 0h1m0 0h1m0 0h1m0 0h1m0 0h1m0 0h1m2 0h1m1 0h1m16 0h1m-93 1h1m1 0h1m3 0h1m0 0h1m1 0h1m0 0h1m0 0h1m0 0h1m0 0h1m1 0h1m0 0h1m0 0h1m1 0h1m0 0h1m0 0h1m1 0h1m0 0h1m1 0h1m0 0h1m0 0h1m0 0h1m0 0h1m1 0h1m0 0h1m1 0h1m1 0h1m2 0h1m0 0h1m0 0h1m0 0h1m0 0h1m0 0h1m0 0h1m0 0h1m0 0h1m0 0h1m1 0h1m0 0h1m0 0h1m0 0h1m0 0h1m1 0h1m0 0h1m2 0h1m0 0h1m0 0h1m0 0h1m1 0h1m1 0h1m0 0h1m0 0h1m5 0h1m0 0h1m4 0h1m17 0h1m-111 1h1m6 0h1m0 0h1m1 0h1m2 0h1m2 0h1m0 0h1m0 0h1m0 0h1m0 0h1m0 0h1m0 0h1m0 0h1m0 0h1m0 0h1m0 0h1m0 0h1m0 0h1m0 0h1m0 0h1m0 0h1m0 0h1m0 0h1m0 0h1m0 0h1m0 0h1m0 0h1m0 0h1m0 0h1m2 0h1m0 0h1m0 0h1m0 0h1m1 0h1m0 0h1m0 0h1m0 0h1m0 0h1m0 0h1m2 0h1m0 0h1m0 0h1m0 0h1m0 0h1m0 0h1m2 0h1m0 0h1m0 0h1m0 0h1m0 0h1m1 0h1m0 0h1m0 0h1m1 0h1m0 0h1m0 0h1m0 0h1m4 0h1m9 0h1m11 0h1m-95 1h1m0 0h1m1 0h1m2 0h1m1 0h1m0 0h1m2 0h1m1 0h1m0 0h1m0 0h1m0 0h1m1 0h1m0 0h1m1 0h1m0 0h1m0 0h1m2 0h1m0 0h1m0 0h1m0 0h1m0 0h1m0 0h1m0 0h1m0 0h1m0 0h1m0 0h1m0 0h1m0 0h1m0 0h1m0 0h1m0 0h1m0 0h1m0 0h1m0 0h1m0 0h1m0 0h1m0 0h1m0 0h1m1 0h1m0 0h1m1 0h1m0 0h1m0 0h1m0 0h1m1 0h1m0 0h1m0 0h1m1 0h1m0 0h1m0 0h1m0 0h1m1 0h1m0 0h1m3 0h1m1 0h1m1 0h1m1 0h1m3 0h1m0 0h1m-90 1h1m7 0h1m0 0h1m0 0h1m0 0h1m3 0h1m1 0h1m2 0h1m1 0h1m1 0h1m2 0h1m2 0h1m0 0h1m0 0h1m0 0h1m0 0h1m1 0h1m0 0h1m0 0h1m0 0h1m0 0h1m0 0h1m1 0h1m0 0h1m0 0h1m0 0h1m1 0h1m1 0h1m0 0h1m0 0h1m0 0h1m0 0h1m0 0h1m0 0h1m0 0h1m0 0h1m0 0h1m0 0h1m0 0h1m0 0h1m0 0h1m0 0h1m0 0h1m1 0h1m0 0h1m1 0h1m0 0h1m0 0h1m2 0h1m0 0h1m0 0h1m0 0h1m0 0h1m4 0h1m1 0h1m2 0h1m12 0h1m-98 1h1m2 0h1m4 0h1m0 0h1m0 0h1m1 0h1m0 0h1m1 0h1m1 0h1m0 0h1m1 0h1m0 0h1m0 0h1m1 0h1m0 0h1m0 0h1m0 0h1m0 0h1m2 0h1m0 0h1m3 0h1m0 0h1m0 0h1m1 0h1m0 0h1m0 0h1m0 0h1m1 0h1m0 0h1m0 0h1m0 0h1m0 0h1m0 0h1m0 0h1m0 0h1m0 0h1m0 0h1m0 0h1m0 0h1m1 0h1m0 0h1m1 0h1m0 0h1m0 0h1m0 0h1m0 0h1m0 0h1m0 0h1m0 0h1m0 0h1m0 0h1m0 0h1m0 0h1m0 0h1m2 0h1m0 0h1m0 0h1m5 0h1m9 0h1m-97 1h1m1 0h1m1 0h1m2 0h1m0 0h1m0 0h1m0 0h1m0 0h1m0 0h1m0 0h1m0 0h1m1 0h1m0 0h1m0 0h1m0 0h1m1 0h1m0 0h1m0 0h1m1 0h1m0 0h1m0 0h1m0 0h1m0 0h1m0 0h1m2 0h1m0 0h1m0 0h1m0 0h1m2 0h1m0 0h1m0 0h1m0 0h1m0 0h1m0 0h1m0 0h1m0 0h1m1 0h1m0 0h1m0 0h1m0 0h1m0 0h1m0 0h1m0 0h1m0 0h1m0 0h1m0 0h1m0 0h1m0 0h1m1 0h1m0 0h1m0 0h1m0 0h1m0 0h1m0 0h1m0 0h1m0 0h1m1 0h1m1 0h1m0 0h1m0 0h1m1 0h1m0 0h1m0 0h1m0 0h1m0 0h1m1 0h1m0 0h1m0 0h1m6 0h1m3 0h1m-92 1h1m1 0h1m0 0h1m0 0h1m0 0h1m0 0h1m0 0h1m0 0h1m0 0h1m0 0h1m0 0h1m0 0h1m0 0h1m2 0h1m0 0h1m0 0h1m0 0h1m0 0h1m0 0h1m0 0h1m0 0h1m1 0h1m1 0h1m0 0h1m0 0h1m0 0h1m0 0h1m0 0h1m0 0h1m0 0h1m0 0h1m0 0h1m0 0h1m0 0h1m2 0h1m0 0h1m0 0h1m0 0h1m3 0h1m0 0h1m0 0h1m1 0h1m0 0h1m0 0h1m0 0h1m1 0h1m0 0h1m0 0h1m0 0h1m0 0h1m0 0h1m0 0h1m0 0h1m0 0h1m2 0h1m0 0h1m0 0h1m1 0h1m2 0h1m0 0h1m9 0h1m20 0h1m-110 1h1m2 0h1m0 0h1m2 0h1m0 0h1m1 0h1m2 0h1m0 0h1m0 0h1m0 0h1m0 0h1m0 0h1m0 0h1m0 0h1m2 0h1m0 0h1m2 0h1m0 0h1m0 0h1m0 0h1m0 0h1m0 0h1m0 0h1m1 0h1m0 0h1m0 0h1m0 0h1m2 0h1m0 0h1m0 0h1m0 0h1m0 0h1m1 0h1m1 0h1m0 0h1m0 0h1m0 0h1m0 0h1m0 0h1m0 0h1m0 0h1m0 0h1m0 0h1m0 0h1m0 0h1m0 0h1m0 0h1m0 0h1m0 0h1m0 0h1m0 0h1m0 0h1m2 0h1m2 0h1m0 0h1m0 0h1m2 0h1m3 0h1m2 0h1m1 0h1m14 0h1m-102 1h1m4 0h1m1 0h1m0 0h1m0 0h1m0 0h1m0 0h1m0 0h1m0 0h1m0 0h1m0 0h1m0 0h1m0 0h1m0 0h1m0 0h1m0 0h1m0 0h1m1 0h1m0 0h1m0 0h1m1 0h1m0 0h1m1 0h1m0 0h1m1 0h1m0 0h1m1 0h1m0 0h1m2 0h1m2 0h1m0 0h1m0 0h1m0 0h1m0 0h1m1 0h1m0 0h1m0 0h1m1 0h1m0 0h1m0 0h1m0 0h1m0 0h1m0 0h1m0 0h1m0 0h1m2 0h1m0 0h1m0 0h1m0 0h1m0 0h1m0 0h1m0 0h1m1 0h1m0 0h1m0 0h1m0 0h1m0 0h1m0 0h1m1 0h1m0 0h1m1 0h1m-85 1h1m6 0h1m0 0h1m2 0h1m0 0h1m1 0h1m0 0h1m0 0h1m0 0h1m0 0h1m0 0h1m0 0h1m0 0h1m0 0h1m2 0h1m0 0h1m0 0h1m0 0h1m0 0h1m0 0h1m0 0h1m0 0h1m1 0h1m0 0h1m0 0h1m0 0h1m0 0h1m0 0h1m0 0h1m0 0h1m0 0h1m0 0h1m0 0h1m0 0h1m1 0h1m0 0h1m0 0h1m0 0h1m0 0h1m0 0h1m0 0h1m0 0h1m0 0h1m0 0h1m0 0h1m0 0h1m1 0h1m0 0h1m0 0h1m0 0h1m0 0h1m0 0h1m0 0h1m1 0h1m0 0h1m1 0h1m0 0h1m1 0h1m1 0h1m0 0h1m3 0h1m0 0h1m-90 1h1m1 0h1m4 0h1m3 0h1m1 0h1m0 0h1m0 0h1m2 0h1m0 0h1m0 0h1m0 0h1m0 0h1m0 0h1m0 0h1m0 0h1m0 0h1m2 0h1m1 0h1m0 0h1m0 0h1m0 0h1m0 0h1m0 0h1m0 0h1m0 0h1m1 0h1m0 0h1m0 0h1m0 0h1m0 0h1m0 0h1m0 0h1m2 0h1m0 0h1m0 0h1m0 0h1m0 0h1m0 0h1m0 0h1m0 0h1m0 0h1m0 0h1m0 0h1m0 0h1m0 0h1m0 0h1m0 0h1m0 0h1m0 0h1m0 0h1m0 0h1m0 0h1m0 0h1m0 0h1m0 0h1m0 0h1m0 0h1m0 0h1m0 0h1m1 0h1m0 0h1m0 0h1m0 0h1m2 0h1m0 0h1m0 0h1m-77 1h1m3 0h1m5 0h1m0 0h1m1 0h1m0 0h1m0 0h1m0 0h1m0 0h1m0 0h1m0 0h1m3 0h1m0 0h1m0 0h1m0 0h1m0 0h1m0 0h1m0 0h1m0 0h1m0 0h1m0 0h1m0 0h1m0 0h1m0 0h1m0 0h1m0 0h1m0 0h1m0 0h1m0 0h1m0 0h1m0 0h1m3 0h1m0 0h1m0 0h1m0 0h1m0 0h1m0 0h1m0 0h1m0 0h1m0 0h1m0 0h1m0 0h1m0 0h1m0 0h1m0 0h1m0 0h1m0 0h1m0 0h1m3 0h1m0 0h1m0 0h1m0 0h1m0 0h1m1 0h1m0 0h1m0 0h1m0 0h1m0 0h1m0 0h1m1 0h1m10 0h1m4 0h1m-95 1h1m0 0h1m2 0h1m0 0h1m0 0h1m0 0h1m2 0h1m0 0h1m0 0h1m0 0h1m0 0h1m0 0h1m3 0h1m0 0h1m1 0h1m0 0h1m0 0h1m1 0h1m2 0h1m0 0h1m0 0h1m0 0h1m0 0h1m0 0h1m1 0h1m0 0h1m0 0h1m1 0h1m0 0h1m0 0h1m0 0h1m0 0h1m0 0h1m0 0h1m0 0h1m0 0h1m0 0h1m1 0h1m0 0h1m0 0h1m0 0h1m0 0h1m0 0h1m0 0h1m0 0h1m0 0h1m0 0h1m0 0h1m0 0h1m1 0h1m0 0h1m0 0h1m1 0h1m0 0h1m0 0h1m1 0h1m2 0h1m1 0h1m1 0h1m0 0h1m0 0h1m1 0h1m2 0h1m6 0h1m-93 1h1m2 0h1m0 0h1m0 0h1m1 0h1m1 0h1m0 0h1m0 0h1m0 0h1m0 0h1m3 0h1m0 0h1m0 0h1m1 0h1m0 0h1m0 0h1m0 0h1m0 0h1m0 0h1m0 0h1m0 0h1m0 0h1m0 0h1m0 0h1m0 0h1m0 0h1m0 0h1m0 0h1m0 0h1m1 0h1m0 0h1m0 0h1m0 0h1m0 0h1m0 0h1m0 0h1m0 0h1m0 0h1m0 0h1m0 0h1m0 0h1m0 0h1m0 0h1m0 0h1m0 0h1m0 0h1m0 0h1m0 0h1m0 0h1m0 0h1m0 0h1m0 0h1m0 0h1m0 0h1m1 0h1m0 0h1m0 0h1m2 0h1m0 0h1m0 0h1m0 0h1m2 0h1m4 0h1m1 0h1m-81 1h1m1 0h1m1 0h1m0 0h1m0 0h1m0 0h1m1 0h1m7 0h1m0 0h1m1 0h1m0 0h1m0 0h1m0 0h1m0 0h1m1 0h1m1 0h1m0 0h1m0 0h1m0 0h1m0 0h1m1 0h1m0 0h1m0 0h1m0 0h1m0 0h1m0 0h1m1 0h1m0 0h1m0 0h1m0 0h1m0 0h1m0 0h1m0 0h1m0 0h1m1 0h1m0 0h1m0 0h1m0 0h1m0 0h1m0 0h1m0 0h1m0 0h1m0 0h1m0 0h1m0 0h1m0 0h1m1 0h1m0 0h1m0 0h1m1 0h1m0 0h1m0 0h1m1 0h1m0 0h1m8 0h1m-82 1h1m2 0h1m0 0h1m1 0h1m1 0h1m2 0h1m0 0h1m1 0h1m0 0h1m0 0h1m0 0h1m4 0h1m0 0h1m1 0h1m1 0h1m0 0h1m0 0h1m0 0h1m0 0h1m0 0h1m0 0h1m0 0h1m0 0h1m0 0h1m0 0h1m0 0h1m0 0h1m0 0h1m0 0h1m0 0h1m0 0h1m0 0h1m0 0h1m0 0h1m0 0h1m0 0h1m0 0h1m0 0h1m0 0h1m0 0h1m0 0h1m0 0h1m0 0h1m1 0h1m0 0h1m0 0h1m1 0h1m0 0h1m0 0h1m0 0h1m3 0h1m1 0h1m1 0h1m2 0h1m0 0h1m2 0h1m1 0h1m1 0h1m-91 1h1m6 0h1m0 0h1m1 0h1m0 0h1m0 0h1m3 0h1m0 0h1m0 0h1m0 0h1m0 0h1m1 0h1m0 0h1m1 0h1m1 0h1m0 0h1m2 0h1m2 0h1m1 0h1m0 0h1m0 0h1m2 0h1m0 0h1m0 0h1m0 0h1m0 0h1m0 0h1m0 0h1m0 0h1m1 0h1m0 0h1m0 0h1m0 0h1m0 0h1m0 0h1m0 0h1m0 0h1m0 0h1m0 0h1m1 0h1m0 0h1m0 0h1m0 0h1m0 0h1m0 0h1m0 0h1m0 0h1m0 0h1m1 0h1m1 0h1m1 0h1m0 0h1m0 0h1m0 0h1m6 0h1m0 0h1m0 0h1m-87 1h1m1 0h1m6 0h1m0 0h1m0 0h1m0 0h1m0 0h1m1 0h1m0 0h1m0 0h1m3 0h1m0 0h1m0 0h1m0 0h1m0 0h1m0 0h1m2 0h1m0 0h1m0 0h1m0 0h1m0 0h1m0 0h1m0 0h1m0 0h1m0 0h1m0 0h1m0 0h1m0 0h1m0 0h1m0 0h1m0 0h1m0 0h1m0 0h1m0 0h1m0 0h1m0 0h1m0 0h1m0 0h1m0 0h1m0 0h1m0 0h1m0 0h1m0 0h1m0 0h1m0 0h1m0 0h1m0 0h1m0 0h1m0 0h1m0 0h1m0 0h1m0 0h1m0 0h1m0 0h1m0 0h1m0 0h1m0 0h1m1 0h1m5 0h1m1 0h1m7 0h1m-81 1h1m0 0h1m0 0h1m0 0h1m0 0h1m1 0h1m0 0h1m0 0h1m3 0h1m0 0h1m1 0h1m0 0h1m0 0h1m0 0h1m1 0h1m0 0h1m0 0h1m1 0h1m0 0h1m0 0h1m1 0h1m1 0h1m0 0h1m0 0h1m0 0h1m0 0h1m0 0h1m0 0h1m0 0h1m0 0h1m0 0h1m0 0h1m0 0h1m0 0h1m0 0h1m0 0h1m0 0h1m0 0h1m0 0h1m0 0h1m0 0h1m0 0h1m0 0h1m0 0h1m0 0h1m0 0h1m1 0h1m0 0h1m0 0h1m0 0h1m0 0h1m0 0h1m0 0h1m0 0h1m1 0h1m0 0h1m0 0h1m0 0h1m2 0h1m4 0h1m0 0h1m-83 1h1m4 0h1m0 0h1m0 0h1m0 0h1m0 0h1m0 0h1m0 0h1m2 0h1m0 0h1m0 0h1m1 0h1m0 0h1m0 0h1m0 0h1m0 0h1m0 0h1m2 0h1m1 0h1m1 0h1m1 0h1m0 0h1m3 0h1m0 0h1m0 0h1m0 0h1m0 0h1m0 0h1m0 0h1m0 0h1m0 0h1m0 0h1m0 0h1m0 0h1m0 0h1m0 0h1m0 0h1m0 0h1m0 0h1m0 0h1m0 0h1m0 0h1m0 0h1m0 0h1m0 0h1m0 0h1m0 0h1m0 0h1m0 0h1m0 0h1m0 0h1m0 0h1m0 0h1m0 0h1m0 0h1m0 0h1m0 0h1m1 0h1m0 0h1m1 0h1m2 0h1m0 0h1m0 0h1m0 0h1m0 0h1m12 0h1m-103 1h1m3 0h1m3 0h1m4 0h1m0 0h1m0 0h1m0 0h1m0 0h1m1 0h1m0 0h1m0 0h1m1 0h1m0 0h1m2 0h1m0 0h1m1 0h1m0 0h1m0 0h1m1 0h1m0 0h1m3 0h1m0 0h1m0 0h1m0 0h1m0 0h1m0 0h1m0 0h1m0 0h1m0 0h1m0 0h1m0 0h1m0 0h1m0 0h1m1 0h1m0 0h1m0 0h1m0 0h1m0 0h1m0 0h1m0 0h1m0 0h1m0 0h1m0 0h1m0 0h1m0 0h1m2 0h1m0 0h1m0 0h1m0 0h1m0 0h1m2 0h1m0 0h1m2 0h1m0 0h1m3 0h1m0 0h1m1 0h1m53 0h1m-137 1h1m1 0h1m0 0h1m2 0h1m0 0h1m0 0h1m0 0h1m5 0h1m0 0h1m0 0h1m2 0h1m0 0h1m0 0h1m0 0h1m0 0h1m6 0h1m1 0h1m0 0h1m0 0h1m0 0h1m1 0h1m0 0h1m0 0h1m0 0h1m0 0h1m0 0h1m0 0h1m0 0h1m0 0h1m1 0h1m0 0h1m0 0h1m0 0h1m0 0h1m0 0h1m1 0h1m0 0h1m0 0h1m0 0h1m0 0h1m0 0h1m0 0h1m0 0h1m0 0h1m0 0h1m0 0h1m1 0h1m0 0h1m0 0h1m1 0h1m2 0h1m1 0h1m1 0h1m1 0h1m0 0h1m0 0h1m0 0h1m2 0h1m-88 1h1m11 0h1m2 0h1m0 0h1m0 0h1m1 0h1m1 0h1m1 0h1m0 0h1m0 0h1m2 0h1m0 0h1m0 0h1m2 0h1m1 0h1m0 0h1m0 0h1m1 0h1m1 0h1m0 0h1m0 0h1m0 0h1m0 0h1m0 0h1m0 0h1m0 0h1m0 0h1m0 0h1m1 0h1m0 0h1m0 0h1m0 0h1m0 0h1m0 0h1m0 0h1m0 0h1m1 0h1m0 0h1m0 0h1m0 0h1m2 0h1m0 0h1m0 0h1m1 0h1m3 0h1m1 0h1m5 0h1m1 0h1m4 0h1m-90 1h1m3 0h1m1 0h1m3 0h1m0 0h1m6 0h1m0 0h1m1 0h1m0 0h1m0 0h1m0 0h1m1 0h1m1 0h1m0 0h1m2 0h1m1 0h1m0 0h1m1 0h1m2 0h1m4 0h1m0 0h1m0 0h1m0 0h1m0 0h1m1 0h1m1 0h1m0 0h1m0 0h1m0 0h1m0 0h1m0 0h1m0 0h1m1 0h1m0 0h1m0 0h1m0 0h1m0 0h1m0 0h1m1 0h1m0 0h1m1 0h1m0 0h1m0 0h1m0 0h1m1 0h1m3 0h1m-77 1h1m0 0h1m0 0h1m1 0h1m5 0h1m0 0h1m0 0h1m2 0h1m0 0h1m3 0h1m0 0h1m0 0h1m0 0h1m1 0h1m0 0h1m0 0h1m0 0h1m0 0h1m1 0h1m0 0h1m0 0h1m3 0h1m1 0h1m0 0h1m0 0h1m2 0h1m0 0h1m0 0h1m0 0h1m0 0h1m0 0h1m2 0h1m1 0h1m3 0h1m0 0h1m2 0h1m0 0h1m0 0h1m9 0h1m2 0h1m5 0h1m-87 1h1m3 0h1m2 0h1m0 0h1m0 0h1m0 0h1m0 0h1m0 0h1m5 0h1m0 0h1m1 0h1m0 0h1m0 0h1m0 0h1m2 0h1m1 0h1m2 0h1m0 0h1m1 0h1m0 0h1m1 0h1m1 0h1m0 0h1m0 0h1m0 0h1m0 0h1m0 0h1m0 0h1m0 0h1m0 0h1m0 0h1m4 0h1m1 0h1m0 0h1m3 0h1m0 0h1m0 0h1m1 0h1m1 0h1m1 0h1m3 0h1m0 0h1m2 0h1m5 0h1m-84 1h1m2 0h1m0 0h1m1 0h1m2 0h1m3 0h1m0 0h1m2 0h1m0 0h1m1 0h1m0 0h1m1 0h1m2 0h1m0 0h1m0 0h1m1 0h1m3 0h1m2 0h1m2 0h1m0 0h1m0 0h1m0 0h1m0 0h1m1 0h1m0 0h1m0 0h1m0 0h1m1 0h1m0 0h1m5 0h1m0 0h1m5 0h1m0 0h1m4 0h1m9 0h1m0 0h1m2 0h1m9 0h1m-98 1h1m1 0h1m5 0h1m0 0h1m4 0h1m1 0h1m0 0h1m1 0h1m1 0h1m0 0h1m1 0h1m0 0h1m1 0h1m1 0h1m1 0h1m0 0h1m0 0h1m1 0h1m0 0h1m0 0h1m0 0h1m0 0h1m0 0h1m1 0h1m2 0h1m1 0h1m1 0h1m0 0h1m0 0h1m1 0h1m0 0h1m0 0h1m2 0h1m0 0h1m2 0h1m0 0h1m0 0h1m3 0h1m1 0h1m0 0h1m12 0h1m-82 1h1m7 0h1m2 0h1m2 0h1m0 0h1m0 0h1m3 0h1m11 0h1m8 0h1m0 0h1m2 0h1m0 0h1m1 0h1m8 0h1m0 0h1m0 0h1m9 0h1m0 0h1m0 0h1m0 0h1m6 0h1m2 0h1m2 0h1m-88 1h1m8 0h1m0 0h1m1 0h1m10 0h1m1 0h1m4 0h1m1 0h1m1 0h1m0 0h1m0 0h1m1 0h1m1 0h1m0 0h1m1 0h1m2 0h1m2 0h1m3 0h1m0 0h1m4 0h1m1 0h1m1 0h1m4 0h1m1 0h1m5 0h1m1 0h1m0 0h1m5 0h1m-79 1h1m2 0h1m0 0h1m2 0h1m1 0h1m1 0h1m2 0h1m3 0h1m2 0h1m0 0h1m0 0h1m0 0h1m0 0h1m1 0h1m0 0h1m8 0h1m2 0h1m2 0h1m3 0h1m2 0h1m3 0h1m3 0h1m4 0h1m0 0h1m0 0h1m2 0h1m11 0h1m-79 1h1m3 0h1m2 0h1m0 0h1m0 0h1m4 0h1m0 0h1m1 0h1m4 0h1m0 0h1m5 0h1m1 0h1m3 0h1m2 0h1m1 0h1m4 0h1m4 0h1m0 0h1m1 0h1m2 0h1m8 0h1m1 0h1m0 0h1m3 0h1m30 0h1m-113 1h1m19 0h1m6 0h1m4 0h1m0 0h1m15 0h1m2 0h1m0 0h1m4 0h1m0 0h1m1 0h1m1 0h1m1 0h1m1 0h1m1 0h1m9 0h1m4 0h1m0 0h1m4 0h1m-88 1h1m7 0h1m3 0h1m8 0h1m0 0h1m2 0h1m0 0h1m4 0h1m3 0h1m0 0h1m0 0h1m2 0h1m3 0h1m1 0h1m0 0h1m2 0h1m10 0h1m9 0h1m1 0h1m5 0h1m-53 1h1m8 0h1m0 0h1m5 0h1m1 0h1m1 0h1m14 0h1m2 0h1m3 0h1m3 0h1m-72 1h1m10 0h1m2 0h1m9 0h1m1 0h1m14 0h1m3 0h1m4 0h1m4 0h1m1 0h1m11 0h1m1 0h1m1 0h1m-67 1h1m10 0h1m5 0h1m18 0h1m11 0h1m3 0h1m3 0h1m17 0h1m-68 1h1m56 0h1m9 0h1m-97 1h1m84 0h1m-56 1h1m24 0h1m25 0h1m2 0h1m6 0h1m5 0h1m29 0h1m-75 1h1m25 0h1m2 0h1m8 1h1m-7 2h1m32 0h1m-22 1h1m30 0h1" stroke="#ff2020" stroke-width="0.9" fill="none" opacity="1.0"/><path d="M337.4 263.3l-3 0.3 -7.5 -1.9 -2.5 -1.4 -2.5 -2.6 -1.2 -3.0 0.2 -2.5 1.2 -2.0 3.7 -3.5 4 -1.6 5 0.2 5.5 1.6 3.3 2.8 1 3.0 -0.5 3.0 -4.8 6.0 -2 1.5zM350.4 266.0l-2 0 -1.6 -1.2 -0.3 -2.0 1.3 -1.8 2 -0.1 1.7 1.4 0.4 2.0 -1.6 1.7zM359.9 276.9l-1.5 0.1 -1.5 -1.1 -1.7 -5.6 0.9 -4.0 1.4 -1.5 1.5 -0.6 1.5 0.3 1.3 1.2 1.6 5.5 -0.8 3.5 -2.5 2.1zM365.9 305.9l-8 0.3 -11 -2.0 -2.2 -1.3 -1.5 -2.0 -0.2 -2.5 0.5 -2.0 2.4 -3.1 8 -4.9 10.5 -0.6 3 0.6 3.5 2.2 3.5 3.6 1.3 2.8 0.4 4.0 -1 2.0 -1.7 1.2 -7.5 1.9z" fill="#ff1010" stroke="none"/><path d="M367.4 309.3l-9 0.4 -12.5 -1.2 -14 -4.7 -5 -0.9 -3.4 -2.6 -3.6 -6.3 -1.1 -3.2 -0.6 -5.5 0.9 -5.5 0.4 -10.5 -1.1 -3.5 -3.6 -6.0 -1.3 -5.5 0 -3.0 0.7 -2.5 1.6 -2.5 2.7 -2.5 5.5 -2.9 7.5 -2.1 10 -0.5 5.5 0.7 8.5 0.2 7 -1.2 3.5 0.4 4 1.5 3.5 1.9 2.5 2.3 2.5 5.5 1.5 10.5 0.2 6.0 -0.9 17.5 4.7 10.0 1 7.5 -1.9 3.0 -4 2.4 -5 1.7 -6.5 0.9zM366.9 308.8l-10 0.2 -9.5 -1.0 -5.5 -1.5 -13.8 -7.2 -2.5 -4.5 -3.7 -3.0 -0.9 -2.0 -0.3 -3.0 1.2 -5.0 -0.2 -4.5 0.7 -5.5 -2.1 -5.0 -4.6 -7.5 -1.3 -6.0 0.2 -2.5 1 -2.5 3.8 -4.0 5.5 -2.8 7 -1.7 9 0 6 1.3 8 0.5 7.5 -1.2 3.5 0.6 4 1.6 3 1.7 2 2.0 1.7 4.6 1.7 14.0 -1.3 19.0 5.1 9.0 0.9 3.5 0.4 5.0 -1.6 2.6 -4.5 2.7 -4 1.3 -6.5 0.9zM365.9 308.3l-7 0.3 -10 -1.0 -7 -2.1 -5.8 -3.8 -1.3 -2.0 -2.2 -6.0 -6.5 -5.0 -0.7 -2.5 0.3 -7.0 1.7 -1.8 5.4 -2.7 0.5 -1.0 -0.7 -1.0 -9.1 -4.9 -6.6 -9.1 -1.1 -4.5 0.2 -3.5 1.6 -3.1 3.5 -3.2 4 -2.1 4.5 -1.3 10 0.0 7.5 2.2 7 1.2 6.5 -1.5 3.5 0.1 6.8 3.2 2.4 2.0 1.5 4.0 0.5 9.5 1.2 5.5 -0.9 7.0 -0.3 9.5 5.8 9.0 1.3 8.5 -1.6 2.5 -4.1 2.5 -4 1.2 -6.5 0.9zM364.9 307.8l-6.5 0.2 -11.5 -1.5 -5 -2.1 -3.7 -3.1 -0.9 -3.0 -0.4 -11.5 -1.1 -5.0 2.2 -6.0 -0.2 -2.5 -2.9 -3.2 -9 -3.1 -2.5 -1.5 -4.4 -5.2 -1.8 -4.0 -0.5 -3.5 0.5 -2.5 1.7 -2.5 3.4 -2.9 5.5 -2.4 5.5 -0.5 8 1.2 11.5 5.4 2.5 -0.2 6 -1.9 2 0.3 1.7 1.2 0.5 1.5 -1.1 3.5 0.1 1.5 1.2 1.5 3.6 2.5 0.6 4.5 2.4 5.0 -1.2 7.0 1.3 4.5 0.4 5.0 1 2.0 5.1 6.0 0.9 3.0 0.4 5.5 -1.2 2.5 -3.4 2.3 -4 1.2 -7 1.0zM363.4 307.3l-5.5 0 -10.5 -1.5 -4 -1.7 -3.1 -2.9 -0.6 -2.0 -0 -3.0 2.3 -8.5 -0.2 -6.5 0.6 -2.5 1.5 -1.7 2 0.2 0.9 1.5 0.6 4.5 1 0.8 1.1 -0.3 1.9 -1.8 1 -2.2 0.6 -3.5 -0.6 -3.8 -1 -2.3 -1.5 -0.9 -5.5 -1.5 -3.5 1.5 -1.5 0 -13 -4.1 -3.5 -2.3 -3.8 -5.1 -1 -5.0 1.4 -3.5 4.4 -3.9 3 -1.4 4 -0.8 10 1.5 6.5 4.2 6 8.8 1.1 0.2 1.9 -1.6 1 -0.1 6 3.8 2 2.0 2.6 6.0 -0.2 12.0 3.1 6.0 6.6 7.0 1 3.0 0.3 5.0 -1.2 2.5 -3.1 2.1 -11 2.0zM337.4 265.4l-3.5 -0.3 -7.5 -2.0 -3 -1.9 -2.4 -2.8 -1.3 -3.5 0.2 -3.0 1.7 -2.5 3.9 -3.3 5 -1.7 7 0.7 4.7 1.8 3.5 3.5 1.2 3.5 -0.5 3.5 -3.6 3.0 -3 4.0 -2.3 1.1zM358.9 279.3l-2 -0.7 -1.2 -1.9 -2.3 -10.1 -4.5 0.5 -2 -0.8 -1.2 -1.2 -0.4 -3.0 1.7 -3.1 2 -0.1 2 0.8 3.5 4.2 3 -1.6 2 -0.4 2 0.7 1.8 2.0 1.5 6.0 -0.2 3.5 -2.6 3.4 -3 1.6zM366.4 306.3l-8.5 0.3 -8.5 -1.2 -3.5 -1.0 -2.5 -1.6 -1.4 -2.0 -0.3 -3.0 0.8 -3.0 2.5 -3.1 9 -5.5 11 -0.2 3 0.7 4.5 3.3 3.2 3.2 1.3 3.0 0.3 4.5 -0.9 2.0 -2.4 1.8 -7.5 1.7zM335.9 262.8l-9.5 -2.0 -2.5 -1.6 -1.9 -2.4 -0.7 -2.5 0.5 -2.5 5.1 -5.1 4 -1.2 5 0.5 4.5 1.5 2.8 2.8 0.6 2.5 -0.8 3.0 -4.3 5.5 -2.9 1.5zM350.4 265.3l-1.5 0.2 -1.3 -0.7 -0.5 -1.5 0.8 -1.5 1.4 -0.3 1.5 1.0 0.4 1.4 -0.9 1.5zM359.9 276.0l-1.5 0.1 -1 -0.7 -1.6 -4.5 0.6 -3.6 1 -1.3 1.5 -0.7 1.5 0.5 0.8 1.0 1.3 4.5 -0.6 3.0 -2 1.7zM364.4 305.8l-7 0.0 -10.5 -2.1 -2.1 -1.4 -1 -1.5 -0.1 -2.5 0.6 -2.0 2.5 -2.9 7.5 -4.4 10 -0.7 3.5 0.8 3.5 2.5 2.7 3.1 1.1 2.5 0.3 3.5 -0.7 1.5 -2 1.5 -8.5 2.0zM336.4 259.5l-2 0.3 -6 -0.8 -3.5 -1.8 -1.1 -1.9 -0 -2.0 0.9 -2.0 2.2 -2.5 2.6 -1.5 3.5 -0.4 4.5 1.1 3 1.9 0.9 2.0 -0.4 2.5 -2.1 3.2 -2.5 2.0zM365.4 304.8l-6.5 0.3 -9.5 -1.7 -3.2 -2.1 -0.1 -3.0 2.2 -3.1 6.5 -3.8 8.5 -1.1 3 0.3 2.5 1.4 2.8 2.9 1.7 3.0 0.4 2.5 -0.5 1.5 -1.4 1.1 -6.5 1.9zM334.4 255.8l-4.5 0.4 -2.2 -0.9 -0.7 -2.5 1.3 -2.5 2.1 -1.4 2 -0.3 2.5 0.5 2.4 1.3 1 1.5 -0.4 2.0 -1.5 1.4 -2 0.6zM364.9 303.8l-5.5 0.2 -8 -1.5 -2.4 -1.3 -0.2 -2.5 2.1 -2.7 5 -2.6 7 -1.1 3 0.3 2 1.1 1.8 2.0 1.3 2.5 0.3 2.0 -0.4 1.0 -1.3 1.0 -4.7 1.5zM364.4 302.4l-4 0.2 -5.6 -1.2 -1.9 -1.0 -0.1 -1.0 2.1 -1.8 4.5 -0.2 3.6 -1.5 1.9 -0.2 2 1.4 0.8 2.7 -0.8 1.5 -2.5 1.1z" fill="none" stroke="#000" stroke-width="1.1" stroke-linejoin="round"/></g><line x1="351.3" y1="172.8" x2="351.3" y2="329.1" stroke="#111" stroke-width="1.3"/><line x1="291.9" y1="276.3" x2="448.5" y2="276.3" stroke="#111" stroke-width="1.3"/><clipPath id="clip13"><rect x="64.6" y="694.9" width="157.0" height="157.30000000000007"/></clipPath><g clip-path="url(#clip13)"><path d="M159 696.5h1m7 0h1m-88 1h1m13 0h1m-14 1h1m55 0h1m19 1h1m-52 1h1m59 0h1m-97 1h1m8 0h1m0 0h1m28 0h1m77 0h1m-112 1h1m42 0h1m10 0h1m15 0h1m50 0h1m-65 1h1m7 0h1m14 0h1m37 0h1m-122 1h1m20 0h1m48 0h1m-42 1h1m0 0h1m1 0h1m26 0h1m9 0h1m22 0h1m-89 1h1m5 0h1m39 0h1m1 0h1m4 0h1m47 0h1m16 0h1m-118 1h1m10 0h1m21 0h1m2 0h1m3 0h1m14 0h1m-38 1h1m3 0h1m1 0h1m1 0h1m3 0h1m5 0h1m29 0h1m0 0h1m0 0h1m12 0h1m10 0h1m7 0h1m15 0h1m-118 1h1m7 0h1m5 0h1m9 0h1m1 0h1m3 0h1m2 0h1m12 0h1m2 0h1m1 0h1m7 0h1m3 0h1m19 0h1m3 0h1m3 0h1m18 0h1m1 0h1m8 0h1m14 0h1m-137 1h1m5 0h1m5 0h1m9 0h1m3 0h1m0 0h1m1 0h1m0 0h1m1 0h1m4 0h1m8 0h1m1 0h1m10 0h1m10 0h1m0 0h1m5 0h1m3 0h1m4 0h1m4 0h1m36 0h1m-137 1h1m4 0h1m1 0h1m6 0h1m8 0h1m1 0h1m1 0h1m0 0h1m3 0h1m0 0h1m12 0h1m4 0h1m1 0h1m2 0h1m0 0h1m0 0h1m0 0h1m1 0h1m1 0h1m1 0h1m7 0h1m1 0h1m1 0h1m1 0h1m2 0h1m51 0h1m0 0h1m-131 1h1m21 0h1m4 0h1m8 0h1m4 0h1m0 0h1m0 0h1m0 0h1m1 0h1m2 0h1m0 0h1m0 0h1m7 0h1m1 0h1m3 0h1m5 0h1m9 0h1m13 0h1m5 0h1m6 0h1m16 0h1m6 0h1m-126 1h1m1 0h1m3 0h1m7 0h1m0 0h1m1 0h1m3 0h1m0 0h1m0 0h1m1 0h1m0 0h1m3 0h1m4 0h1m0 0h1m0 0h1m0 0h1m2 0h1m0 0h1m0 0h1m3 0h1m0 0h1m6 0h1m9 0h1m0 0h1m2 0h1m2 0h1m1 0h1m1 0h1m5 0h1m0 0h1m5 0h1m4 0h1m21 0h1m0 0h1m0 0h1m2 0h1m8 0h1m-142 1h1m18 0h1m0 0h1m1 0h1m2 0h1m1 0h1m0 0h1m0 0h1m0 0h1m0 0h1m1 0h1m2 0h1m1 0h1m0 0h1m3 0h1m5 0h1m0 0h1m0 0h1m2 0h1m1 0h1m0 0h1m1 0h1m3 0h1m0 0h1m3 0h1m9 0h1m0 0h1m7 0h1m15 0h1m7 0h1m12 0h1m2 0h1m0 0h1m0 0h1m14 0h1m-136 1h1m4 0h1m0 0h1m0 0h1m0 0h1m2 0h1m3 0h1m1 0h1m0 0h1m1 0h1m0 0h1m3 0h1m1 0h1m1 0h1m2 0h1m0 0h1m6 0h1m0 0h1m0 0h1m0 0h1m2 0h1m4 0h1m1 0h1m1 0h1m10 0h1m0 0h1m3 0h1m0 0h1m3 0h1m1 0h1m7 0h1m1 0h1m5 0h1m0 0h1m1 0h1m3 0h1m2 0h1m2 0h1m6 0h1m5 0h1m12 0h1m1 0h1m-140 1h1m0 0h1m20 0h1m0 0h1m0 0h1m0 0h1m0 0h1m0 0h1m3 0h1m3 0h1m0 0h1m1 0h1m0 0h1m0 0h1m1 0h1m0 0h1m3 0h1m1 0h1m0 0h1m2 0h1m0 0h1m0 0h1m1 0h1m13 0h1m3 0h1m2 0h1m0 0h1m4 0h1m1 0h1m1 0h1m1 0h1m6 0h1m3 0h1m4 0h1m0 0h1m4 0h1m9 0h1m2 0h1m1 0h1m17 0h1m-143 1h1m7 0h1m0 0h1m5 0h1m0 0h1m0 0h1m0 0h1m0 0h1m0 0h1m0 0h1m0 0h1m0 0h1m0 0h1m1 0h1m4 0h1m1 0h1m0 0h1m0 0h1m0 0h1m0 0h1m1 0h1m0 0h1m1 0h1m4 0h1m0 0h1m0 0h1m19 0h1m2 0h1m5 0h1m0 0h1m0 0h1m0 0h1m0 0h1m1 0h1m6 0h1m4 0h1m3 0h1m0 0h1m0 0h1m1 0h1m0 0h1m5 0h1m0 0h1m29 0h1m-142 1h1m6 0h1m0 0h1m3 0h1m1 0h1m2 0h1m1 0h1m0 0h1m4 0h1m0 0h1m1 0h1m0 0h1m0 0h1m4 0h1m0 0h1m1 0h1m0 0h1m1 0h1m3 0h1m1 0h1m0 0h1m22 0h1m0 0h1m2 0h1m3 0h1m2 0h1m18 0h1m1 0h1m2 0h1m5 0h1m2 0h1m0 0h1m5 0h1m8 0h1m0 0h1m-146 1h1m14 0h1m0 0h1m0 0h1m0 0h1m1 0h1m10 0h1m0 0h1m3 0h1m0 0h1m2 0h1m3 0h1m1 0h1m0 0h1m0 0h1m0 0h1m0 0h1m0 0h1m1 0h1m1 0h1m0 0h1m0 0h1m1 0h1m2 0h1m0 0h1m19 0h1m0 0h1m5 0h1m0 0h1m0 0h1m8 0h1m4 0h1m1 0h1m1 0h1m1 0h1m6 0h1m4 0h1m0 0h1m1 0h1m1 0h1m0 0h1m5 0h1m0 0h1m6 0h1m-138 1h1m2 0h1m3 0h1m3 0h1m6 0h1m2 0h1m1 0h1m1 0h1m1 0h1m0 0h1m1 0h1m0 0h1m1 0h1m0 0h1m2 0h1m0 0h1m0 0h1m0 0h1m0 0h1m1 0h1m5 0h1m0 0h1m0 0h1m0 0h1m25 0h1m0 0h1m0 0h1m0 0h1m0 0h1m0 0h1m0 0h1m0 0h1m0 0h1m2 0h1m0 0h1m1 0h1m1 0h1m1 0h1m0 0h1m1 0h1m2 0h1m1 0h1m0 0h1m4 0h1m0 0h1m3 0h1m0 0h1m3 0h1m2 0h1m6 0h1m-122 1h1m0 0h1m1 0h1m3 0h1m0 0h1m3 0h1m2 0h1m0 0h1m0 0h1m0 0h1m4 0h1m0 0h1m1 0h1m0 0h1m2 0h1m0 0h1m1 0h1m0 0h1m0 0h1m0 0h1m35 0h1m1 0h1m1 0h1m0 0h1m2 0h1m1 0h1m3 0h1m1 0h1m0 0h1m1 0h1m1 0h1m0 0h1m4 0h1m2 0h1m4 0h1m0 0h1m2 0h1m0 0h1m8 0h1m4 0h1m-132 1h1m0 0h1m4 0h1m0 0h1m1 0h1m3 0h1m1 0h1m4 0h1m3 0h1m1 0h1m3 0h1m3 0h1m2 0h1m1 0h1m0 0h1m0 0h1m1 0h1m1 0h1m30 0h1m0 0h1m0 0h1m1 0h1m0 0h1m2 0h1m8 0h1m0 0h1m0 0h1m1 0h1m0 0h1m3 0h1m2 0h1m2 0h1m1 0h1m1 0h1m0 0h1m1 0h1m18 0h1m-127 1h1m0 0h1m3 0h1m0 0h1m0 0h1m8 0h1m0 0h1m0 0h1m0 0h1m1 0h1m1 0h1m0 0h1m1 0h1m0 0h1m0 0h1m1 0h1m0 0h1m1 0h1m1 0h1m0 0h1m0 0h1m31 0h1m0 0h1m1 0h1m0 0h1m2 0h1m0 0h1m0 0h1m0 0h1m0 0h1m0 0h1m1 0h1m0 0h1m1 0h1m0 0h1m0 0h1m0 0h1m0 0h1m0 0h1m4 0h1m5 0h1m0 0h1m1 0h1m0 0h1m1 0h1m0 0h1m1 0h1m2 0h1m2 0h1m0 0h1m4 0h1m0 0h1m4 0h1m-139 1h1m4 0h1m16 0h1m0 0h1m0 0h1m0 0h1m0 0h1m0 0h1m0 0h1m0 0h1m3 0h1m0 0h1m1 0h1m0 0h1m0 0h1m4 0h1m1 0h1m31 0h1m0 0h1m0 0h1m0 0h1m0 0h1m1 0h1m5 0h1m1 0h1m2 0h1m3 0h1m7 0h1m2 0h1m1 0h1m0 0h1m0 0h1m0 0h1m4 0h1m0 0h1m1 0h1m1 0h1m12 0h1m-129 1h1m0 0h1m9 0h1m3 0h1m0 0h1m1 0h1m2 0h1m1 0h1m2 0h1m3 0h1m0 0h1m2 0h1m0 0h1m33 0h1m2 0h1m0 0h1m2 0h1m2 0h1m13 0h1m0 0h1m7 0h1m2 0h1m1 0h1m2 0h1m1 0h1m11 0h1m0 0h1m1 0h1m-141 1h1m4 0h1m4 0h1m4 0h1m13 0h1m0 0h1m2 0h1m4 0h1m4 0h1m3 0h1m35 0h1m1 0h1m2 0h1m0 0h1m6 0h1m16 0h1m0 0h1m0 0h1m5 0h1m7 0h1m6 0h1m1 0h1m-133 1h1m2 0h1m14 0h1m4 0h1m4 0h1m1 0h1m3 0h1m3 0h1m1 0h1m77 0h1m20 0h1m-146 1h1m9 0h1m0 0h1m13 0h1m3 0h1m2 0h1m3 0h1m2 0h1m0 0h1m2 0h1m71 0h1m0 0h1m1 0h1m6 0h1m1 0h1m3 0h1m2 0h1m0 0h1m7 0h1m1 0h1m-119 1h1m2 0h1m0 0h1m0 0h1m2 0h1m0 0h1m6 0h1m73 0h1m0 0h1m1 0h1m3 0h1m2 0h1m1 0h1m-127 1h1m7 0h1m17 0h1m5 0h1m0 0h1m0 0h1m1 0h1m76 0h1m0 0h1m7 0h1m1 0h1m13 0h1m-144 1h1m4 0h1m6 0h1m105 0h1m2 0h1m2 0h1m1 0h1m0 0h1m0 0h1m12 0h1m-132 1h1m109 0h1m7 0h1m5 0h1m9 0h1m1 0h1m-142 1h1m2 0h1m112 0h1m4 0h1m0 0h1m7 0h1m-131 1h1m118 0h1m0 0h1m3 0h1m9 0h1m-17 1h1m5 0h1m6 0h1m2 0h1m0 0h1m-142 1h1m129 0h1m3 0h1m3 0h1m10 0h1m-143 1h1m0 0h1m115 0h1m1 0h1m2 0h1m2 0h1m3 0h1m-10 1h1m4 0h1m4 0h1m-130 1h1m120 0h1m1 0h1m1 0h1m0 0h1m0 0h1m0 0h1m-127 1h1m131 0h1m8 0h1m-144 1h1m118 0h1m-122 1h1m2 0h1m118 0h1m-119 1h1m126 0h1m1 0h1m-136 1h1m122 0h1m5 1h1m-1 1h1m1 0h1m-5 1h1m8 0h1m0 0h1m-138 1h1m127 0h1m1 0h1m0 0h1m2 0h1m3 0h1m-8 1h1m1 0h1m-132 1h1m125 0h1m1 0h1m0 1h1m-134 1h1m5 2h1m123 0h1m3 0h1m5 0h1m-12 1h1m4 0h1m-2 1h1m3 0h1m-6 1h1m1 0h1m6 0h1m-138 2h1m133 1h1m1 0h1m-137 1h1m125 0h1m5 0h1m-4 1h1m0 0h1m-133 1h1m0 0h1m2 2h1m130 0h1m-7 1h1m2 0h1m-1 1h1m-1 1h1m13 0h1m-146 1h1m137 0h1m-7 1h1m-4 1h1m-127 2h1m-3 1h1m1 0h1m125 0h1m-126 1h1m124 0h1m11 0h1m-14 1h1m1 0h1m1 0h1m-135 1h1m6 0h1m121 0h1m2 0h1m-127 1h1m125 0h1m-4 1h1m0 0h1m5 0h1m-132 1h1m0 0h1m122 0h1m4 0h1m-6 1h1m-124 1h1m120 0h1m6 0h1m0 0h1m8 0h1m-148 2h1m0 0h1m4 0h1m2 0h1m124 0h1m0 0h1m0 0h1m-129 1h1m1 0h1m127 0h1m-11 1h1m0 0h1m5 0h1m-131 1h1m4 0h1m126 0h1m1 0h1m-136 1h1m3 0h1m121 0h1m3 0h1m2 0h1m-131 1h1m0 0h1m123 0h1m2 0h1m2 0h1m-132 1h1m123 0h1m8 1h1m0 0h1m-132 1h1m124 0h1m-126 1h1m116 0h1m3 0h1m7 0h1m-9 1h1m-85 1h1m22 0h1m0 0h1m55 0h1m6 0h1m-130 1h1m4 0h1m26 0h1m0 0h1m2 0h1m2 0h1m0 0h1m0 0h1m0 0h1m2 0h1m0 0h1m0 0h1m14 0h1m2 0h1m58 0h1m0 0h1m3 0h1m-130 1h1m30 0h1m0 0h1m0 0h1m4 0h1m0 0h1m3 0h1m0 0h1m0 0h1m3 0h1m15 0h1m7 0h1m47 0h1m12 0h1m2 0h1m-134 1h1m1 0h1m23 0h1m2 0h1m2 0h1m2 0h1m0 0h1m0 0h1m7 0h1m0 0h1m5 0h1m1 0h1m3 0h1m1 0h1m2 0h1m3 0h1m1 0h1m49 0h1m0 0h1m1 0h1m1 0h1m0 0h1m9 0h1m-135 1h1m24 0h1m3 0h1m4 0h1m0 0h1m0 0h1m1 0h1m1 0h1m0 0h1m0 0h1m0 0h1m0 0h1m1 0h1m0 0h1m3 0h1m3 0h1m0 0h1m6 0h1m0 0h1m0 0h1m1 0h1m0 0h1m52 0h1m-131 1h1m35 0h1m0 0h1m0 0h1m1 0h1m0 0h1m1 0h1m0 0h1m0 0h1m0 0h1m0 0h1m3 0h1m1 0h1m3 0h1m1 0h1m0 0h1m1 0h1m6 0h1m1 0h1m5 0h1m0 0h1m2 0h1m-84 1h1m2 0h1m30 0h1m5 0h1m0 0h1m5 0h1m0 0h1m2 0h1m3 0h1m0 0h1m1 0h1m0 0h1m2 0h1m1 0h1m0 0h1m6 0h1m1 0h1m1 0h1m2 0h1m1 0h1m0 0h1m3 0h1m40 0h1m4 0h1m0 0h1m7 0h1m-103 1h1m2 0h1m0 0h1m1 0h1m0 0h1m0 0h1m0 0h1m0 0h1m2 0h1m0 0h1m0 0h1m0 0h1m0 0h1m0 0h1m0 0h1m2 0h1m0 0h1m0 0h1m3 0h1m0 0h1m3 0h1m1 0h1m0 0h1m3 0h1m0 0h1m1 0h1m4 0h1m38 0h1m10 0h1m0 0h1m-128 1h1m23 0h1m3 0h1m5 0h1m1 0h1m0 0h1m1 0h1m2 0h1m0 0h1m0 0h1m0 0h1m3 0h1m0 0h1m1 0h1m0 0h1m3 0h1m0 0h1m0 0h1m1 0h1m0 0h1m0 0h1m1 0h1m2 0h1m3 0h1m0 0h1m1 0h1m2 0h1m34 0h1m8 0h1m3 0h1m2 0h1m-134 1h1m0 0h1m0 0h1m2 0h1m23 0h1m0 0h1m8 0h1m0 0h1m1 0h1m1 0h1m1 0h1m1 0h1m0 0h1m2 0h1m0 0h1m4 0h1m0 0h1m3 0h1m0 0h1m2 0h1m0 0h1m2 0h1m4 0h1m0 0h1m39 0h1m5 0h1m2 0h1m-126 1h1m0 0h1m1 0h1m23 0h1m0 0h1m4 0h1m2 0h1m0 0h1m6 0h1m0 0h1m2 0h1m3 0h1m1 0h1m2 0h1m2 0h1m4 0h1m0 0h1m2 0h1m1 0h1m2 0h1m39 0h1m6 0h1m-95 1h1m4 0h1m2 0h1m1 0h1m0 0h1m0 0h1m0 0h1m0 0h1m2 0h1m2 0h1m0 0h1m5 0h1m0 0h1m2 0h1m2 0h1m1 0h1m4 0h1m0 0h1m1 0h1m1 0h1m4 0h1m0 0h1m3 0h1m31 0h1m5 0h1m0 0h1m1 0h1m3 0h1m1 0h1m-127 1h1m20 0h1m1 0h1m3 0h1m0 0h1m1 0h1m1 0h1m5 0h1m1 0h1m3 0h1m0 0h1m3 0h1m0 0h1m5 0h1m0 0h1m0 0h1m2 0h1m4 0h1m6 0h1m1 0h1m0 0h1m1 0h1m0 0h1m0 0h1m1 0h1m0 0h1m33 0h1m-97 1h1m2 0h1m2 0h1m3 0h1m3 0h1m2 0h1m0 0h1m1 0h1m0 0h1m1 0h1m0 0h1m0 0h1m1 0h1m2 0h1m0 0h1m1 0h1m0 0h1m0 0h1m1 0h1m2 0h1m1 0h1m1 0h1m0 0h1m1 0h1m1 0h1m1 0h1m1 0h1m2 0h1m4 0h1m33 0h1m2 0h1m3 0h1m-103 1h1m0 0h1m2 0h1m0 0h1m2 0h1m0 0h1m5 0h1m1 0h1m0 0h1m1 0h1m1 0h1m1 0h1m1 0h1m0 0h1m0 0h1m0 0h1m1 0h1m5 0h1m1 0h1m2 0h1m0 0h1m0 0h1m3 0h1m0 0h1m0 0h1m0 0h1m2 0h1m0 0h1m0 0h1m6 0h1m0 0h1m20 0h1m0 0h1m1 0h1m1 0h1m7 0h1m2 0h1m4 0h1m-132 1h1m1 0h1m0 0h1m23 0h1m3 0h1m3 0h1m0 0h1m0 0h1m3 0h1m1 0h1m0 0h1m3 0h1m0 0h1m0 0h1m0 0h1m0 0h1m1 0h1m2 0h1m0 0h1m0 0h1m6 0h1m0 0h1m4 0h1m0 0h1m0 0h1m1 0h1m3 0h1m4 0h1m2 0h1m1 0h1m1 0h1m17 0h1m2 0h1m0 0h1m0 0h1m16 0h1m8 0h1m-116 1h1m1 0h1m2 0h1m5 0h1m2 0h1m0 0h1m2 0h1m1 0h1m0 0h1m0 0h1m0 0h1m0 0h1m0 0h1m0 0h1m4 0h1m2 0h1m0 0h1m2 0h1m0 0h1m4 0h1m6 0h1m1 0h1m1 0h1m0 0h1m5 0h1m0 0h1m2 0h1m11 0h1m1 0h1m0 0h1m3 0h1m4 0h1m9 0h1m-123 1h1m22 0h1m1 0h1m7 0h1m2 0h1m0 0h1m0 0h1m2 0h1m1 0h1m2 0h1m0 0h1m11 0h1m0 0h1m3 0h1m1 0h1m0 0h1m3 0h1m0 0h1m1 0h1m3 0h1m3 0h1m1 0h1m4 0h1m1 0h1m4 0h1m2 0h1m2 0h1m0 0h1m3 0h1m0 0h1m4 0h1m0 0h1m8 0h1m9 0h1m-108 1h1m2 0h1m4 0h1m1 0h1m5 0h1m0 0h1m1 0h1m0 0h1m1 0h1m0 0h1m0 0h1m0 0h1m1 0h1m0 0h1m4 0h1m2 0h1m0 0h1m0 0h1m8 0h1m0 0h1m0 0h1m0 0h1m3 0h1m2 0h1m1 0h1m0 0h1m2 0h1m4 0h1m1 0h1m0 0h1m6 0h1m2 0h1m0 0h1m1 0h1m8 0h1m0 0h1m3 0h1m0 0h1m-126 1h1m21 0h1m2 0h1m3 0h1m0 0h1m0 0h1m0 0h1m1 0h1m0 0h1m0 0h1m0 0h1m1 0h1m4 0h1m0 0h1m0 0h1m5 0h1m3 0h1m1 0h1m4 0h1m0 0h1m6 0h1m0 0h1m4 0h1m4 0h1m1 0h1m1 0h1m1 0h1m0 0h1m0 0h1m0 0h1m6 0h1m0 0h1m1 0h1m3 0h1m0 0h1m0 0h1m8 0h1m0 0h1m0 0h1m0 0h1m15 0h1m-139 1h1m23 0h1m4 0h1m4 0h1m4 0h1m1 0h1m2 0h1m1 0h1m4 0h1m6 0h1m3 0h1m3 0h1m0 0h1m2 0h1m0 0h1m1 0h1m0 0h1m1 0h1m4 0h1m0 0h1m0 0h1m0 0h1m1 0h1m0 0h1m3 0h1m2 0h1m1 0h1m6 0h1m2 0h1m1 0h1m0 0h1m5 0h1m18 0h1m-144 1h1m2 0h1m5 0h1m24 0h1m2 0h1m1 0h1m1 0h1m0 0h1m2 0h1m0 0h1m0 0h1m3 0h1m4 0h1m0 0h1m0 0h1m0 0h1m3 0h1m0 0h1m1 0h1m0 0h1m3 0h1m2 0h1m2 0h1m0 0h1m1 0h1m0 0h1m1 0h1m1 0h1m2 0h1m0 0h1m0 0h1m3 0h1m1 0h1m1 0h1m0 0h1m1 0h1m0 0h1m4 0h1m0 0h1m4 0h1m2 0h1m3 0h1m0 0h1m2 0h1m0 0h1m2 0h1m0 0h1m2 0h1m0 0h1m-99 1h1m2 0h1m4 0h1m1 0h1m2 0h1m1 0h1m3 0h1m0 0h1m2 0h1m3 0h1m2 0h1m6 0h1m8 0h1m0 0h1m4 0h1m1 0h1m0 0h1m0 0h1m2 0h1m0 0h1m3 0h1m1 0h1m0 0h1m0 0h1m0 0h1m2 0h1m0 0h1m0 0h1m2 0h1m2 0h1m2 0h1m1 0h1m6 0h1m0 0h1m0 0h1m-118 1h1m21 0h1m3 0h1m4 0h1m3 0h1m9 0h1m0 0h1m0 0h1m1 0h1m3 0h1m3 0h1m0 0h1m0 0h1m0 0h1m0 0h1m2 0h1m2 0h1m10 0h1m2 0h1m3 0h1m1 0h1m0 0h1m0 0h1m0 0h1m0 0h1m1 0h1m0 0h1m0 0h1m2 0h1m0 0h1m0 0h1m2 0h1m1 0h1m0 0h1m3 0h1m3 0h1m0 0h1m9 0h1m-126 1h1m0 0h1m17 0h1m1 0h1m1 0h1m5 0h1m0 0h1m4 0h1m0 0h1m0 0h1m1 0h1m0 0h1m0 0h1m3 0h1m10 0h1m8 0h1m2 0h1m0 0h1m2 0h1m5 0h1m0 0h1m0 0h1m3 0h1m0 0h1m1 0h1m1 0h1m6 0h1m0 0h1m1 0h1m0 0h1m0 0h1m3 0h1m1 0h1m2 0h1m4 0h1m3 0h1m3 0h1m1 0h1m4 0h1m-135 1h1m3 0h1m27 0h1m0 0h1m0 0h1m0 0h1m9 0h1m11 0h1m5 0h1m4 0h1m0 0h1m4 0h1m2 0h1m2 0h1m0 0h1m1 0h1m1 0h1m0 0h1m4 0h1m3 0h1m0 0h1m1 0h1m0 0h1m0 0h1m1 0h1m4 0h1m2 0h1m0 0h1m4 0h1m2 0h1m3 0h1m1 0h1m7 0h1m-131 1h1m0 0h1m1 0h1m17 0h1m5 0h1m11 0h1m0 0h1m5 0h1m1 0h1m6 0h1m0 0h1m0 0h1m0 0h1m5 0h1m1 0h1m0 0h1m1 0h1m1 0h1m3 0h1m1 0h1m1 0h1m1 0h1m0 0h1m1 0h1m0 0h1m0 0h1m10 0h1m0 0h1m0 0h1m0 0h1m0 0h1m1 0h1m4 0h1m1 0h1m0 0h1m1 0h1m2 0h1m0 0h1m0 0h1m1 0h1m0 0h1m0 0h1m12 0h1m-146 1h1m10 0h1m18 0h1m6 0h1m2 0h1m3 0h1m4 0h1m0 0h1m10 0h1m10 0h1m5 0h1m7 0h1m1 0h1m0 0h1m0 0h1m1 0h1m0 0h1m0 0h1m1 0h1m4 0h1m1 0h1m2 0h1m0 0h1m4 0h1m2 0h1m3 0h1m2 0h1m2 0h1m1 0h1m6 0h1m1 0h1m0 0h1m3 0h1m-129 1h1m18 0h1m10 0h1m6 0h1m1 0h1m3 0h1m5 0h1m3 0h1m0 0h1m0 0h1m1 0h1m1 0h1m8 0h1m1 0h1m0 0h1m5 0h1m5 0h1m0 0h1m1 0h1m3 0h1m0 0h1m1 0h1m2 0h1m1 0h1m0 0h1m0 0h1m0 0h1m0 0h1m4 0h1m2 0h1m8 0h1m1 0h1m3 0h1m1 0h1m-134 1h1m0 0h1m2 0h1m0 0h1m1 0h1m16 0h1m5 0h1m19 0h1m13 0h1m6 0h1m5 0h1m0 0h1m0 0h1m0 0h1m1 0h1m0 0h1m0 0h1m1 0h1m0 0h1m0 0h1m0 0h1m3 0h1m1 0h1m2 0h1m4 0h1m1 0h1m1 0h1m6 0h1m0 0h1m0 0h1m7 0h1m-87 1h1m5 0h1m1 0h1m22 0h1m2 0h1m4 0h1m5 0h1m2 0h1m0 0h1m0 0h1m0 0h1m3 0h1m1 0h1m1 0h1m1 0h1m0 0h1m3 0h1m1 0h1m2 0h1m0 0h1m1 0h1m2 0h1m1 0h1m0 0h1m2 0h1m0 0h1m1 0h1m10 0h1m-140 1h1m47 0h1m0 0h1m7 0h1m1 0h1m5 0h1m9 0h1m9 0h1m0 0h1m1 0h1m1 0h1m0 0h1m3 0h1m1 0h1m2 0h1m1 0h1m0 0h1m1 0h1m0 0h1m2 0h1m1 0h1m1 0h1m2 0h1m0 0h1m2 0h1m0 0h1m4 0h1m5 0h1m-106 1h1m19 0h1m5 0h1m3 0h1m6 0h1m6 0h1m4 0h1m0 0h1m4 0h1m1 0h1m0 0h1m1 0h1m1 0h1m0 0h1m0 0h1m0 0h1m2 0h1m4 0h1m0 0h1m2 0h1m0 0h1m0 0h1m0 0h1m1 0h1m2 0h1m0 0h1m2 0h1m2 0h1m0 0h1m8 0h1m-126 1h1m3 0h1m0 0h1m57 0h1m1 0h1m8 0h1m1 0h1m0 0h1m0 0h1m4 0h1m0 0h1m0 0h1m1 0h1m0 0h1m1 0h1m2 0h1m0 0h1m1 0h1m3 0h1m5 0h1m0 0h1m1 0h1m5 0h1m1 0h1m0 0h1m0 0h1m1 0h1m7 0h1m-133 1h1m4 0h1m3 0h1m22 0h1m5 0h1m16 0h1m8 0h1m12 0h1m1 0h1m4 0h1m0 0h1m1 0h1m2 0h1m0 0h1m0 0h1m7 0h1m1 0h1m0 0h1m0 0h1m6 0h1m0 0h1m0 0h1m0 0h1m2 0h1m3 0h1m5 0h1m1 0h1m4 0h1m3 0h1m5 0h1m-80 1h1m4 0h1m9 0h1m3 0h1m0 0h1m1 0h1m0 0h1m1 0h1m0 0h1m0 0h1m0 0h1m3 0h1m2 0h1m2 0h1m0 0h1m3 0h1m1 0h1m0 0h1m2 0h1m6 0h1m3 0h1m1 0h1m10 0h1m-136 1h1m8 0h1m2 0h1m37 0h1m14 0h1m1 0h1m4 0h1m5 0h1m1 0h1m0 0h1m1 0h1m0 0h1m2 0h1m1 0h1m1 0h1m0 0h1m0 0h1m0 0h1m1 0h1m1 0h1m1 0h1m3 0h1m1 0h1m3 0h1m4 0h1m2 0h1m3 0h1m4 0h1m1 0h1m2 0h1m-100 1h1m1 0h1m32 0h1m2 0h1m3 0h1m0 0h1m0 0h1m2 0h1m0 0h1m2 0h1m3 0h1m1 0h1m0 0h1m1 0h1m5 0h1m0 0h1m0 0h1m0 0h1m1 0h1m0 0h1m0 0h1m0 0h1m2 0h1m2 0h1m6 0h1m14 0h1m-130 1h1m0 0h1m0 0h1m2 0h1m24 0h1m18 0h1m3 0h1m9 0h1m7 0h1m0 0h1m1 0h1m2 0h1m0 0h1m0 0h1m1 0h1m0 0h1m0 0h1m1 0h1m0 0h1m5 0h1m1 0h1m1 0h1m1 0h1m1 0h1m4 0h1m0 0h1m12 0h1m-73 1h1m8 0h1m0 0h1m4 0h1m1 0h1m0 0h1m0 0h1m2 0h1m0 0h1m1 0h1m5 0h1m1 0h1m2 0h1m0 0h1m0 0h1m0 0h1m0 0h1m0 0h1m0 0h1m5 0h1m1 0h1m1 0h1m1 0h1m6 0h1m1 0h1m16 0h1m2 0h1m-58 1h1m0 0h1m2 0h1m0 0h1m0 0h1m8 0h1m0 0h1m1 0h1m0 0h1m2 0h1m12 0h1m2 0h1m13 0h1m-131 1h1m33 0h1m12 0h1m6 0h1m12 0h1m0 0h1m2 0h1m4 0h1m3 0h1m3 0h1m0 0h1m0 0h1m1 0h1m10 0h1m1 0h1m0 0h1m0 0h1m1 0h1m3 0h1m1 0h1m3 0h1m1 0h1m6 0h1m-119 1h1m56 0h1m7 0h1m9 0h1m1 0h1m2 0h1m2 0h1m4 0h1m0 0h1m0 0h1m2 0h1m1 0h1m0 0h1m0 0h1m2 0h1m5 0h1m0 0h1m0 0h1m0 0h1m9 0h1m-76 1h1m7 0h1m2 0h1m3 0h1m0 0h1m3 0h1m0 0h1m7 0h1m1 0h1m1 0h1m1 0h1m1 0h1m1 0h1m0 0h1m0 0h1m5 0h1m0 0h1m2 0h1m0 0h1m0 0h1m6 0h1m0 0h1m0 0h1m3 0h1m-113 1h1m56 0h1m11 0h1m0 0h1m0 0h1m0 0h1m1 0h1m2 0h1m2 0h1m15 0h1m0 0h1m1 0h1m2 0h1m3 0h1m2 0h1m18 0h1m-81 1h1m22 0h1m7 0h1m8 0h1m1 0h1m7 0h1m5 0h1m5 0h1m7 0h1m-115 1h1m71 0h1m1 0h1m2 0h1m2 0h1m2 0h1m5 0h1m1 0h1m4 0h1m0 0h1m1 0h1m3 0h1m-46 1h1m15 0h1m14 0h1m11 0h1m4 0h1m0 0h1m4 0h1m4 0h1m-124 1h1m9 0h1m71 0h1m1 0h1m3 0h1m5 0h1m5 0h1m0 0h1m29 0h1m-132 1h1m0 0h1m72 0h1m4 0h1m12 0h1m3 0h1m3 0h1m2 0h1m8 0h1m9 0h1m-122 1h1m0 0h1m4 0h1m26 0h1m35 0h1m6 0h1m9 0h1m18 0h1m1 0h1m3 0h1m1 0h1m-112 1h1m67 0h1m2 0h1m1 0h1m2 0h1m13 0h1m3 0h1m-25 1h1m12 0h1m5 0h1m17 0h1m-113 1h1m82 0h1m3 0h1m8 0h1m6 0h1m1 0h1m6 0h1m-104 1h1m85 0h1m28 0h1m-59 1h1m13 0h1m14 0h1" stroke="#555" stroke-width="0.9" fill="none" opacity="1.0"/><path d="M90.6 830.9l-2.5 -0.6 -2.2 -1.9 -2 -3.5 -1.4 -4.5 -2.1 -15.5 -1.2 -17.5 -0.1 -13.0 -1.4 -6.5 0.1 -11.0 4 -23.0 1.3 -3.0 3.1 -3.9 3 -1.9 4 -0.1 2.5 1.4 3.5 4.3 1.5 1.0 4.5 -1.3 5 0.4 5 -0.5 2.5 -1.3 4.8 -5.0 10.2 -6.8 5 -2.5 3.5 -0.6 2.5 0.5 2.2 1.4 7.3 9.0 2 1.4 7 0.8 5 -0.6 7 -1.9 9.7 2.3 3.3 2.0 5.3 7.5 2.2 5.5 3.8 5.5 1.4 4.5 0.3 6.0 1.3 7.5 -1 11.0 -2.2 8.0 -0.9 6.0 -3.6 10.0 -5.1 6.6 -3 2.5 -3.5 1.8 -9 0.9 -2.5 -0.7 -8.5 -4.5 -10.5 -8.0 -9 -4.0 -3.5 0.2 -8.5 3.0 -3 0.5 -2.5 -0.5 -6.7 -2.9 -11.8 0.4 -3 1.3 -1.5 2.2 -1.8 11.1 -2 9.5 -1.4 4.0 -3.2 5.5 -1.7 1.2 -1.5 0.3zM91.6 829.5l-2.5 0.0 -2 -1.2 -2.2 -3.0 -1.4 -3.5 -2.1 -12.0 -1.2 -21.5 0 -14.0 -0.8 -8.0 0.1 -8.5 1 -10.0 2.6 -14.0 1.2 -2.5 2.4 -3.0 3.5 -2.0 2 0.1 2 1.0 2.4 2.9 3.6 8.1 2 2.0 1.5 -3.0 1.5 -1.7 1.5 -0.5 3.5 0.5 5.5 -1.9 2.5 -2.2 4.9 -6.2 3.1 -2.6 9.5 -6.0 3 -1.2 2.5 -0.3 3.5 1.3 4 4.8 1.8 4.5 0 6.0 1.6 1.6 16 -3.0 6 -1.9 9 1.6 3 1.7 4.9 7.0 5.9 13.0 0.9 5.0 0.7 12.0 -0.4 6.0 -2.9 15.0 -3.3 9.5 -4.5 6.5 -2.4 1.9 -3 1.1 -10 0.3 -9.5 -4.9 -6.5 -5.9 -5.5 -3.5 -4 -4.4 -3.5 -1.1 -5.5 -0.6 -3 -1.1 -2.4 0.7 -0.8 3.5 -1.8 1.1 -26 -0.2 -1.5 1.7 -1 3.8 -1.2 11.1 -2.5 11.5 -3.3 6.4 -2.5 2.2zM103.7 746.4l0.6 -2.0 -1.2 -1.7 -1 -0.4 -0.7 1.6 0.1 2.0 1.1 0.9 1.1 -0.4zM90.6 828.4l-2 -0.4 -2 -1.7 -1.8 -3.0 -1 -3.0 -1.8 -10.5 -1.1 -22.0 0.1 -13.5 -0.7 -10.0 1 -17.0 2.5 -12.5 1.1 -2.5 2.1 -2.7 2.5 -1.5 2.5 0.1 2 1.4 1.7 2.7 3 8.5 0.8 6.0 2.2 6.5 0.5 14.0 0.9 1.9 1 0.5 3.5 -0.6 1.5 -1.2 1.3 -19.5 1.1 -3.5 2 -3.5 11.2 -15.9 6 -4.5 7 -3.8 3 -0.6 2.6 0.8 3 3.0 1.9 3.5 0.7 14.5 -2.1 5.0 0.4 1.5 1.9 -0.5 8.1 -5.5 6 -1.8 10.5 -4.4 2 0.1 4 1.8 4.5 0.7 4 3.4 2.3 3.7 4.5 11.5 0.7 4.5 0.6 14.0 -2.8 17.5 -4 10.0 -3.4 4.8 -2 1.2 -2 0.5 -9 -0.6 -9 -4.0 -2.2 -1.9 -3.3 -4.5 -5.7 -3.0 -5 -6.5 -2 -4.0 -3.2 -4.5 -2.1 -1.0 -12 7.1 -3.5 3.9 -3 1.8 -7 1.0 -12 -1.0 -1.5 0.8 -0.8 2.9 -1.4 16.0 -2.4 11.0 -1.2 3.0 -2.2 3.3 -1.5 1.6 -1.5 0.6zM183.1 803.5l-11.5 -0.9 -6 -3.0 -1.7 -1.7 -2.7 -4.5 -5.8 -4.5 -3.7 -5.0 -2.1 -4.9 -2.1 -3.1 -4.9 -3.2 -5.7 -1.3 -3.3 -3.8 -2.5 -0.3 -14.5 2.4 -1 -0.5 -1.5 -2.0 -1.4 -2.9 -0.4 -4.5 0.4 -10.5 0.7 -3.5 5.3 -10.0 4.2 -6.5 3.2 -3.8 4 -3.0 6.5 -3.5 3.5 -1.0 3 1.1 2.9 3.7 1 3.5 -0.2 8.0 -0.5 3.5 -3.3 10.0 0 2.5 1.1 1.1 2.5 -0.3 9.5 -4.5 3.7 -4.3 1.8 -1.3 10 -3.6 3 -0.1 10 2.5 2 1.1 1.5 1.7 3.1 6.7 2 7.5 1.2 17.0 -1.4 6.0 -0.5 7.0 -1 4.0 -5 10.0 -1.4 1.6 -2 1.1zM90.1 827.0l-2.5 -1.1 -2.1 -3.0 -2.7 -11.0 -1.3 -24.5 0.2 -13.5 -0.6 -10.0 1 -17.5 2.1 -9.5 2.3 -4.7 2 -1.7 2 -0.5 2 0.7 1.4 1.7 3.7 9.5 2.1 11.0 0.5 14.0 1.3 12.5 0.5 0.5 0.5 -0.4 2 -3.6 2.5 -2.1 4 -1.7 4 -0.7 1.5 1.6 1.5 5.3 2.4 5.5 -1.3 1.5 -2.7 0.6 -6.5 -0.1 -7 -1.1 -1.5 1.0 -1.7 4.5 -1.1 18.0 -2.4 11.0 -2.8 5.1 -2 1.9 -1.5 0.5zM120.6 766.4l-2 -0.1 -1.7 -0.9 -1.3 -1.9 -0.9 -3.1 -0.6 -4.5 0.1 -5.5 0.5 -3.5 1.1 -3.0 5.5 -10.5 5.7 -7.2 3.5 -2.6 4 -2.0 4.5 -1.6 2.5 0.3 1.8 1.6 1.5 2.5 0.8 5.5 -0.9 7.5 -3.5 9.5 -4.4 7.0 -2.2 5.5 -2.1 2.5 -4.5 2.9 -7.5 1.7zM91.1 825.0l-2.5 -0.1 -2 -2.1 -1.3 -2.9 -1.4 -6.0 -0.9 -9.0 -0.8 -22.0 0.4 -9.0 -0.5 -12.5 1.2 -16.0 2.9 -10.3 2 -2.4 2 -0.6 2.5 1.4 3.2 5.9 2.6 11.0 1.1 20.0 0.2 13.5 -1.8 26.5 -2.7 10.0 -1.6 2.5 -2.5 2.1zM181.6 800.4l-10 -0.5 -4 -2.1 -3.5 -5.0 -3.9 -3.5 -1.8 -2.5 -2 -5.0 0.5 -4.0 -0.7 -2.0 -4.4 -3.5 -5.2 -2.1 -1.6 -2.4 0.4 -4.5 3.4 -5.0 5.8 -3.8 10 -10.7 6 -2.2 2.5 -0.1 7.5 1.1 5 1.9 2.7 3.9 3.2 10.0 1.4 15.0 -1.4 6.5 -0.8 8.0 -1.5 3.8 -4.7 6.7 -1.3 1.4 -1.5 0.6zM124.6 763.5l-3 0.3 -2 -0.7 -1.6 -1.7 -1.6 -3.0 -0.8 -6.5 0.4 -4.0 0.9 -3.0 5.1 -10.5 5.5 -7.0 6.1 -3.8 5 -1.3 2 0.1 2.7 2.5 1.2 4.5 -0.5 6.0 -2 7.0 -2.1 4.5 -4.3 5.4 -3.2 6.1 -3.8 3.6 -4 1.5zM90.1 823.4l-1.6 -0.5 -1.7 -2.0 -2.5 -8.5 -1.5 -29.0 0.5 -9.5 -0.5 -12.5 1 -15.0 2.8 -9.5 1.5 -2.0 1.5 -0.5 1.5 0.5 1.9 2.0 2.9 6.0 1.8 9.5 0.9 18.5 -0.1 14.5 -1.3 24.0 -2.9 10.5 -1.8 2.3 -2.5 1.2zM180.1 796.9l-9.5 -1.3 -7.5 -6.9 -1.4 -2.3 -0.3 -5.0 -1.5 -5.0 -1.5 -2.5 -4 -4.5 -0.6 -1.5 2.3 -8.0 2.6 -3.0 2.3 -4.5 5.1 -5.0 4.5 -1.6 7 -0.1 3.5 0.6 2.5 1.1 2 2.4 4.1 9.6 1.5 14.0 -2.3 14.0 -1 2.5 -1.8 2.4 -4 3.9 -2 0.8zM126.1 761.0l-2.5 0.4 -2 -0.4 -2 -1.4 -1.9 -2.7 -0.7 -2.5 -0.1 -3.5 1.3 -6.0 4.4 -9.5 5 -6.4 6 -3.9 3.5 -0.7 3 0.3 2.3 2.2 0.9 3.5 -0.9 7.0 -1.5 5.0 -2 4.0 -4.3 5.0 -3 5.5 -2.9 2.8 -2.5 1.3zM90.1 821.4l-1.5 -0.7 -1.4 -1.8 -2.1 -6.5 -1.6 -26.5 0.6 -12.0 -0.5 -12.5 0.8 -14.0 2.3 -8.0 1.3 -2.0 1.5 -0.6 1.5 0.6 2 2.2 2.2 5.4 1.5 7.5 1 18.0 -0.4 25.5 -0.9 13.0 -2.7 9.5 -1.8 2.3 -2 0.7zM179.6 793.4l-3 -0.3 -4.4 -1.8 -5.1 -5.3 -6.7 -15.7 0.3 -3.5 1.1 -3.5 4.9 -4.0 0.1 -2.0 -1 -3.5 0.5 -2.0 2.2 -1.7 6.5 -1.6 3.1 0.3 2.9 1.4 5.4 7.1 1.3 3.5 0.4 6.5 1 5.0 -0.1 3.0 -2.5 12.0 -2.6 3.2 -4.5 2.8zM126.1 758.6l-2.5 0.2 -2 -0.7 -2 -1.7 -1 -2.0 -0.1 -6.0 2.7 -8.0 3.2 -6.0 4.6 -4.9 5 -2.9 2.5 -0.4 2.5 0.4 2 1.8 0.7 2.5 -0.8 7.0 -1.2 4.0 -1.8 3.5 -4.9 5.5 -2.6 4.5 -1.9 1.8 -2.5 1.3zM91.1 819.0l-1.5 -0.1 -1.3 -1.1 -2.1 -5.0 -1.9 -25.0 0.7 -14.0 -0.5 -11.5 0.6 -14.0 1.9 -6.7 1 -1.6 1.5 -0.9 1.5 0.5 1.8 2.2 2.3 7.0 1.6 21.0 -0.2 26.0 -0.9 12.0 -2.2 8.1 -1 1.9 -1.5 1.2zM178.6 787.5l-1.5 0.1 -1 -0.7 -1.6 -3.5 -4.7 -5.0 -0.7 -2.0 -0.3 -4.5 -2.1 -4.0 0.6 -2.0 3.6 -3.0 1.1 -1.5 0.4 -5.0 0.6 -1.5 1.2 -1.1 1.5 -0.5 1.6 0.6 5.1 5.5 2.3 5.0 2.3 8.5 -0.3 3.5 -2.7 7.5 -1.8 2.0 -3.4 1.6zM125.6 756.0l-2 0 -2 -1.0 -1.5 -3.5 0.4 -4.6 2.9 -8.5 2.7 -4.3 3.5 -3.3 5 -2.5 3.5 0.2 1.5 1.4 0.6 2.5 -0.4 5.5 -1.4 4.5 -1.8 3.0 -7.5 8.5 -3.4 2.1zM90.6 816.4l-2 -1.2 -1.4 -3.9 -2.1 -23.0 1 -15.0 -0.4 -11.0 0.4 -13.5 1.4 -4.9 2 -2.0 1.4 0.4 1.1 1.3 2.2 5.7 1.6 20.5 -0.1 25.5 -1 11.0 -2 7.5 -1.2 2.0 -1 0.5zM180.1 778.6l-1.5 0.3 -2 -0.5 -2.5 -2.3 -1 -4.7 0.3 -2.0 0.7 -1.0 5.4 -0.6 1.5 0.5 1 1.1 0.7 1.9 -0 2.5 -1.1 2.9 -1.5 1.8zM125.6 752.5l-2.3 -0.6 -1.1 -3.0 1 -6.5 1.4 -4.0 2.4 -3.6 3 -2.7 4 -1.8 2.5 0.2 1.4 1.8 0.4 3.0 -0.3 3.5 -1.1 3.0 -4 5.3 -7.5 5.3zM91.1 811.5l-1 0.4 -0.5 -0.4 -1.1 -3.0 -0.5 -7.0 -2 -13.0 1.6 -16.0 -0.3 -22.0 0.8 -3.5 1 -1.3 1 -0.3 2 2.1 1.4 5.0 1.3 35.0 -0.2 9.0 -1.1 8.5 -0.9 3.7 -1.5 2.8zM128.6 747.9l-2.3 0 -1.3 -1.5 -0.3 -3.5 0.9 -3.5 1.9 -3.0 2.5 -2.4 2.5 -1.1 2.2 0.0 1.2 1.0 0.7 2.0 -0.5 4.5 -3.6 5.2 -4 2.4zM90.6 758.5l-1 -1.1 -0.5 -2.6 0.1 -3.0 1 -1.8 1 0.8 0.6 2.5 -0.1 3.0 -1 2.1zM91.1 767.9l-0.7 -1.0 0.2 -1.6 0.5 0.6 -0 2.0zM91.1 800.5l-1 -0.9 -1.4 -3.1 -1.5 -7.5 1.4 -10.2 1 -2.4 1 -0.7 1 0.7 1 2.6 1 9.5 -0.6 8.5 -0.9 2.8 -1 0.8zM129.6 745.1l-1.5 -0.1 -0.9 -1.0 0 -3.5 2.9 -4.0 3 -1.0 1.5 1.6 -0.2 2.9 -2.3 3.4 -2.5 1.8zM90.6 790.8l-1.1 -1.4 0.6 -2.1 0.5 0 0.6 1.2 -0.6 2.4z" fill="none" stroke="#000" stroke-width="1.05" stroke-linejoin="round"/></g><clipPath id="clip14"><rect x="267.9" y="693.3" width="157.70000000000005" height="157.30000000000007"/></clipPath><g clip-path="url(#clip14)"><path d="M294.9 823.4l-2 0.1 -1.5 -0.6 -3 -3.2 -1.2 -3.4 -1.2 -9.0 -0.8 -28.0 0.7 -14.5 -2.2 -20.5 1.5 -8.5 0.8 -2.0 5.8 -7.0 2.1 -1.8 3 -1.2 7.5 -1.4 13 -6.3 21 -3.2 12.5 -0.4 4 1.0 4.8 3.3 2.3 3.0 0.8 3.5 -0.7 5.0 -1.4 3.5 -5.6 9.0 -9.7 12.5 -3.4 3.3 -15.5 8.9 -6 0.7 -7 -2.0 -1.5 0.1 -8.5 8.6 -1 6.0 0.2 21.5 -0.9 12.0 -2.5 7.5 -1.7 2.2 -2.5 1.3z" fill="#ff2020" opacity="0.75"/><path d="M326 698.5h1m23 3h1m-22 2h1m7 1h1m8 0h1m-40 1h1m37 0h1m26 0h1m-48 1h1m11 0h1m12 0h1m4 0h1m-20 1h1m14 0h1m3 0h1m-51 1h1m7 0h1m7 0h1m15 0h1m6 0h1m4 0h1m0 0h1m3 0h1m14 0h1m-72 1h1m8 0h1m24 0h1m2 0h1m2 0h1m6 0h1m3 0h1m4 0h1m5 0h1m0 0h1m-59 1h1m18 0h1m2 0h1m3 0h1m3 0h1m13 0h1m5 0h1m5 0h1m4 0h1m-48 1h1m0 0h1m2 0h1m0 0h1m13 0h1m3 0h1m11 0h1m1 0h1m5 0h1m23 0h1m9 0h1m-100 1h1m11 0h1m4 0h1m0 0h1m8 0h1m22 0h1m8 0h1m1 0h1m42 0h1m-124 1h1m40 0h1m8 0h1m0 0h1m0 0h1m5 0h1m2 0h1m4 0h1m2 0h1m2 0h1m0 0h1m45 0h1m11 0h1m-117 1h1m12 0h1m7 0h1m10 0h1m6 0h1m1 0h1m1 0h1m4 0h1m2 0h1m5 0h1m7 0h1m0 0h1m7 0h1m4 0h1m-72 1h1m10 0h1m3 0h1m2 0h1m3 0h1m3 0h1m1 0h1m9 0h1m1 0h1m3 0h1m3 0h1m0 0h1m1 0h1m1 0h1m5 0h1m8 0h1m19 0h1m-97 1h1m19 0h1m0 0h1m4 0h1m3 0h1m7 0h1m1 0h1m1 0h1m3 0h1m0 0h1m2 0h1m4 0h1m1 0h1m3 0h1m0 0h1m12 0h1m2 0h1m2 0h1m6 0h1m-101 1h1m15 0h1m5 0h1m0 0h1m0 0h1m1 0h1m1 0h1m1 0h1m2 0h1m5 0h1m4 0h1m1 0h1m0 0h1m0 0h1m0 0h1m0 0h1m1 0h1m0 0h1m1 0h1m0 0h1m1 0h1m0 0h1m3 0h1m0 0h1m0 0h1m4 0h1m2 0h1m3 0h1m1 0h1m2 0h1m-70 1h1m14 0h1m1 0h1m4 0h1m4 0h1m2 0h1m3 0h1m5 0h1m3 0h1m3 0h1m2 0h1m1 0h1m3 0h1m3 0h1m1 0h1m0 0h1m2 0h1m4 0h1m0 0h1m4 0h1m-69 1h1m2 0h1m0 0h1m3 0h1m2 0h1m0 0h1m5 0h1m1 0h1m5 0h1m1 0h1m0 0h1m1 0h1m0 0h1m1 0h1m0 0h1m1 0h1m4 0h1m0 0h1m0 0h1m2 0h1m4 0h1m2 0h1m1 0h1m5 0h1m6 0h1m-82 1h1m1 0h1m1 0h1m2 0h1m5 0h1m0 0h1m3 0h1m6 0h1m1 0h1m2 0h1m3 0h1m1 0h1m1 0h1m2 0h1m0 0h1m1 0h1m2 0h1m0 0h1m0 0h1m0 0h1m0 0h1m0 0h1m0 0h1m0 0h1m0 0h1m0 0h1m1 0h1m0 0h1m2 0h1m1 0h1m3 0h1m4 0h1m1 0h1m3 0h1m3 0h1m22 0h1m-121 1h1m15 0h1m0 0h1m4 0h1m0 0h1m2 0h1m3 0h1m1 0h1m2 0h1m4 0h1m0 0h1m3 0h1m2 0h1m6 0h1m1 0h1m0 0h1m0 0h1m0 0h1m3 0h1m0 0h1m0 0h1m1 0h1m0 0h1m0 0h1m0 0h1m0 0h1m0 0h1m0 0h1m1 0h1m0 0h1m0 0h1m0 0h1m0 0h1m0 0h1m2 0h1m0 0h1m1 0h1m36 0h1m3 0h1m-117 1h1m6 0h1m0 0h1m0 0h1m6 0h1m0 0h1m1 0h1m1 0h1m0 0h1m3 0h1m2 0h1m2 0h1m0 0h1m0 0h1m1 0h1m0 0h1m0 0h1m0 0h1m0 0h1m0 0h1m0 0h1m0 0h1m0 0h1m1 0h1m0 0h1m1 0h1m0 0h1m0 0h1m0 0h1m0 0h1m0 0h1m1 0h1m2 0h1m0 0h1m0 0h1m0 0h1m1 0h1m0 0h1m0 0h1m1 0h1m0 0h1m0 0h1m1 0h1m11 0h1m16 0h1m-104 1h1m0 0h1m3 0h1m2 0h1m2 0h1m0 0h1m1 0h1m2 0h1m0 0h1m0 0h1m7 0h1m2 0h1m0 0h1m0 0h1m1 0h1m1 0h1m0 0h1m1 0h1m3 0h1m1 0h1m0 0h1m0 0h1m0 0h1m1 0h1m1 0h1m2 0h1m1 0h1m1 0h1m0 0h1m0 0h1m0 0h1m3 0h1m0 0h1m0 0h1m1 0h1m2 0h1m2 0h1m36 0h1m-122 1h1m9 0h1m4 0h1m4 0h1m2 0h1m0 0h1m7 0h1m1 0h1m0 0h1m0 0h1m0 0h1m0 0h1m2 0h1m1 0h1m2 0h1m0 0h1m0 0h1m0 0h1m1 0h1m0 0h1m0 0h1m1 0h1m0 0h1m0 0h1m1 0h1m0 0h1m1 0h1m0 0h1m0 0h1m0 0h1m0 0h1m0 0h1m0 0h1m0 0h1m1 0h1m3 0h1m0 0h1m0 0h1m1 0h1m0 0h1m0 0h1m0 0h1m2 0h1m4 0h1m13 0h1m-104 1h1m5 0h1m2 0h1m1 0h1m0 0h1m1 0h1m3 0h1m5 0h1m1 0h1m4 0h1m1 0h1m3 0h1m0 0h1m1 0h1m3 0h1m0 0h1m0 0h1m2 0h1m1 0h1m3 0h1m0 0h1m0 0h1m0 0h1m0 0h1m1 0h1m0 0h1m0 0h1m0 0h1m0 0h1m0 0h1m0 0h1m0 0h1m0 0h1m0 0h1m1 0h1m0 0h1m10 0h1m1 0h1m5 0h1m5 0h1m1 0h1m0 0h1m-98 1h1m5 0h1m2 0h1m0 0h1m3 0h1m0 0h1m2 0h1m0 0h1m2 0h1m0 0h1m2 0h1m6 0h1m1 0h1m0 0h1m0 0h1m0 0h1m1 0h1m0 0h1m0 0h1m0 0h1m1 0h1m0 0h1m0 0h1m0 0h1m0 0h1m0 0h1m0 0h1m1 0h1m0 0h1m0 0h1m0 0h1m0 0h1m0 0h1m4 0h1m2 0h1m0 0h1m1 0h1m6 0h1m2 0h1m0 0h1m8 0h1m5 0h1m15 0h1m-124 1h1m10 0h1m1 0h1m2 0h1m5 0h1m2 0h1m1 0h1m3 0h1m4 0h1m0 0h1m1 0h1m0 0h1m4 0h1m1 0h1m1 0h1m0 0h1m1 0h1m0 0h1m0 0h1m1 0h1m0 0h1m0 0h1m0 0h1m1 0h1m0 0h1m0 0h1m0 0h1m0 0h1m0 0h1m0 0h1m0 0h1m0 0h1m0 0h1m0 0h1m0 0h1m0 0h1m0 0h1m0 0h1m6 0h1m1 0h1m6 0h1m3 0h1m5 0h1m-100 1h1m6 0h1m2 0h1m2 0h1m3 0h1m1 0h1m2 0h1m2 0h1m0 0h1m1 0h1m0 0h1m0 0h1m1 0h1m2 0h1m0 0h1m4 0h1m3 0h1m0 0h1m0 0h1m4 0h1m1 0h1m0 0h1m0 0h1m0 0h1m0 0h1m0 0h1m0 0h1m0 0h1m0 0h1m0 0h1m0 0h1m0 0h1m0 0h1m0 0h1m0 0h1m0 0h1m0 0h1m0 0h1m0 0h1m0 0h1m0 0h1m4 0h1m1 0h1m8 0h1m7 0h1m6 0h1m13 0h1m-118 1h1m0 0h1m2 0h1m5 0h1m8 0h1m0 0h1m0 0h1m3 0h1m0 0h1m0 0h1m0 0h1m0 0h1m0 0h1m5 0h1m3 0h1m1 0h1m2 0h1m1 0h1m0 0h1m0 0h1m0 0h1m0 0h1m0 0h1m0 0h1m0 0h1m1 0h1m0 0h1m0 0h1m0 0h1m0 0h1m0 0h1m0 0h1m0 0h1m0 0h1m0 0h1m0 0h1m0 0h1m0 0h1m0 0h1m0 0h1m1 0h1m0 0h1m0 0h1m0 0h1m0 0h1m1 0h1m0 0h1m1 0h1m1 0h1m10 0h1m9 0h1m12 0h1m4 0h1m-121 1h1m1 0h1m0 0h1m2 0h1m5 0h1m0 0h1m0 0h1m1 0h1m1 0h1m0 0h1m1 0h1m0 0h1m0 0h1m0 0h1m3 0h1m0 0h1m0 0h1m1 0h1m0 0h1m0 0h1m0 0h1m2 0h1m0 0h1m0 0h1m0 0h1m0 0h1m1 0h1m1 0h1m0 0h1m0 0h1m0 0h1m0 0h1m0 0h1m0 0h1m0 0h1m0 0h1m0 0h1m0 0h1m0 0h1m0 0h1m0 0h1m0 0h1m0 0h1m0 0h1m0 0h1m1 0h1m0 0h1m0 0h1m0 0h1m1 0h1m0 0h1m0 0h1m0 0h1m1 0h1m1 0h1m1 0h1m1 0h1m0 0h1m1 0h1m1 0h1m1 0h1m4 0h1m5 0h1m1 0h1m15 0h1m7 0h1m-116 1h1m3 0h1m2 0h1m3 0h1m0 0h1m0 0h1m0 0h1m2 0h1m3 0h1m0 0h1m4 0h1m0 0h1m1 0h1m1 0h1m0 0h1m0 0h1m1 0h1m0 0h1m0 0h1m0 0h1m0 0h1m2 0h1m0 0h1m0 0h1m0 0h1m0 0h1m0 0h1m0 0h1m0 0h1m0 0h1m1 0h1m0 0h1m0 0h1m1 0h1m0 0h1m0 0h1m0 0h1m0 0h1m0 0h1m4 0h1m0 0h1m0 0h1m6 0h1m2 0h1m0 0h1m1 0h1m3 0h1m0 0h1m0 0h1m2 0h1m6 0h1m-117 1h1m3 0h1m1 0h1m0 0h1m0 0h1m0 0h1m6 0h1m1 0h1m1 0h1m0 0h1m0 0h1m0 0h1m2 0h1m0 0h1m1 0h1m0 0h1m2 0h1m0 0h1m1 0h1m0 0h1m2 0h1m3 0h1m1 0h1m0 0h1m4 0h1m0 0h1m0 0h1m0 0h1m0 0h1m0 0h1m1 0h1m0 0h1m1 0h1m0 0h1m0 0h1m0 0h1m0 0h1m0 0h1m0 0h1m0 0h1m0 0h1m0 0h1m0 0h1m1 0h1m0 0h1m0 0h1m0 0h1m0 0h1m0 0h1m0 0h1m0 0h1m0 0h1m3 0h1m1 0h1m1 0h1m16 0h1m0 0h1m9 0h1m5 0h1m-121 1h1m3 0h1m12 0h1m2 0h1m0 0h1m5 0h1m0 0h1m0 0h1m0 0h1m4 0h1m1 0h1m0 0h1m0 0h1m2 0h1m0 0h1m0 0h1m0 0h1m1 0h1m0 0h1m0 0h1m0 0h1m2 0h1m0 0h1m0 0h1m0 0h1m0 0h1m0 0h1m0 0h1m0 0h1m0 0h1m0 0h1m0 0h1m0 0h1m0 0h1m0 0h1m0 0h1m0 0h1m0 0h1m0 0h1m0 0h1m2 0h1m1 0h1m0 0h1m1 0h1m0 0h1m0 0h1m4 0h1m0 0h1m7 0h1m0 0h1m2 0h1m2 0h1m1 0h1m13 0h1m18 0h1m-142 1h1m12 0h1m3 0h1m2 0h1m0 0h1m1 0h1m0 0h1m0 0h1m3 0h1m3 0h1m3 0h1m0 0h1m0 0h1m1 0h1m3 0h1m1 0h1m0 0h1m1 0h1m0 0h1m0 0h1m1 0h1m1 0h1m0 0h1m0 0h1m1 0h1m0 0h1m0 0h1m0 0h1m0 0h1m0 0h1m0 0h1m0 0h1m0 0h1m0 0h1m0 0h1m1 0h1m0 0h1m0 0h1m0 0h1m0 0h1m0 0h1m0 0h1m0 0h1m0 0h1m1 0h1m2 0h1m4 0h1m0 0h1m0 0h1m0 0h1m2 0h1m5 0h1m0 0h1m10 0h1m0 0h1m5 0h1m4 0h1m-111 1h1m1 0h1m1 0h1m1 0h1m0 0h1m1 0h1m1 0h1m4 0h1m0 0h1m1 0h1m1 0h1m3 0h1m0 0h1m0 0h1m0 0h1m0 0h1m0 0h1m0 0h1m1 0h1m0 0h1m0 0h1m0 0h1m0 0h1m0 0h1m0 0h1m0 0h1m0 0h1m0 0h1m0 0h1m0 0h1m0 0h1m0 0h1m0 0h1m0 0h1m0 0h1m0 0h1m0 0h1m0 0h1m0 0h1m0 0h1m0 0h1m0 0h1m1 0h1m0 0h1m0 0h1m1 0h1m0 0h1m0 0h1m4 0h1m6 0h1m1 0h1m3 0h1m1 0h1m-96 1h1m2 0h1m3 0h1m6 0h1m1 0h1m4 0h1m2 0h1m0 0h1m0 0h1m2 0h1m0 0h1m0 0h1m0 0h1m2 0h1m0 0h1m0 0h1m0 0h1m1 0h1m1 0h1m0 0h1m0 0h1m0 0h1m0 0h1m0 0h1m0 0h1m0 0h1m0 0h1m0 0h1m0 0h1m0 0h1m0 0h1m0 0h1m0 0h1m0 0h1m0 0h1m0 0h1m1 0h1m0 0h1m0 0h1m0 0h1m0 0h1m0 0h1m0 0h1m0 0h1m0 0h1m0 0h1m0 0h1m0 0h1m0 0h1m0 0h1m0 0h1m3 0h1m2 0h1m1 0h1m0 0h1m1 0h1m7 0h1m0 0h1m9 0h1m8 0h1m8 0h1m-129 1h1m6 0h1m2 0h1m1 0h1m6 0h1m1 0h1m0 0h1m2 0h1m0 0h1m0 0h1m2 0h1m5 0h1m3 0h1m0 0h1m0 0h1m2 0h1m1 0h1m0 0h1m0 0h1m0 0h1m0 0h1m0 0h1m0 0h1m0 0h1m0 0h1m0 0h1m0 0h1m0 0h1m0 0h1m0 0h1m0 0h1m0 0h1m0 0h1m0 0h1m0 0h1m0 0h1m0 0h1m1 0h1m0 0h1m0 0h1m0 0h1m0 0h1m1 0h1m0 0h1m1 0h1m1 0h1m0 0h1m2 0h1m2 0h1m0 0h1m3 0h1m3 0h1m3 0h1m1 0h1m0 0h1m15 0h1m8 0h1m1 0h1m-126 1h1m2 0h1m6 0h1m2 0h1m1 0h1m0 0h1m1 0h1m0 0h1m0 0h1m1 0h1m1 0h1m0 0h1m1 0h1m0 0h1m0 0h1m0 0h1m0 0h1m0 0h1m1 0h1m2 0h1m2 0h1m0 0h1m1 0h1m0 0h1m0 0h1m0 0h1m0 0h1m0 0h1m0 0h1m0 0h1m0 0h1m0 0h1m0 0h1m1 0h1m0 0h1m0 0h1m0 0h1m0 0h1m0 0h1m0 0h1m0 0h1m0 0h1m0 0h1m0 0h1m0 0h1m0 0h1m0 0h1m0 0h1m1 0h1m2 0h1m0 0h1m0 0h1m0 0h1m8 0h1m0 0h1m0 0h1m2 0h1m11 0h1m7 0h1m7 0h1m-114 1h1m4 0h1m2 0h1m2 0h1m0 0h1m7 0h1m0 0h1m0 0h1m0 0h1m1 0h1m0 0h1m0 0h1m1 0h1m0 0h1m1 0h1m1 0h1m0 0h1m0 0h1m0 0h1m0 0h1m0 0h1m0 0h1m0 0h1m0 0h1m0 0h1m0 0h1m0 0h1m0 0h1m0 0h1m0 0h1m0 0h1m0 0h1m1 0h1m1 0h1m0 0h1m0 0h1m0 0h1m0 0h1m0 0h1m1 0h1m1 0h1m1 0h1m1 0h1m2 0h1m4 0h1m1 0h1m2 0h1m3 0h1m0 0h1m6 0h1m0 0h1m2 0h1m7 0h1m1 0h1m1 0h1m-105 1h1m1 0h1m2 0h1m0 0h1m0 0h1m2 0h1m0 0h1m1 0h1m0 0h1m0 0h1m2 0h1m1 0h1m0 0h1m3 0h1m0 0h1m1 0h1m1 0h1m0 0h1m0 0h1m0 0h1m5 0h1m1 0h1m0 0h1m0 0h1m2 0h1m0 0h1m0 0h1m0 0h1m0 0h1m0 0h1m0 0h1m0 0h1m0 0h1m0 0h1m0 0h1m0 0h1m0 0h1m0 0h1m2 0h1m3 0h1m1 0h1m0 0h1m2 0h1m0 0h1m1 0h1m2 0h1m2 0h1m0 0h1m4 0h1m1 0h1m1 0h1m0 0h1m1 0h1m8 0h1m-106 1h1m0 0h1m1 0h1m1 0h1m1 0h1m0 0h1m0 0h1m0 0h1m0 0h1m0 0h1m0 0h1m0 0h1m0 0h1m6 0h1m1 0h1m1 0h1m1 0h1m0 0h1m0 0h1m1 0h1m1 0h1m0 0h1m0 0h1m0 0h1m0 0h1m0 0h1m0 0h1m0 0h1m0 0h1m0 0h1m0 0h1m0 0h1m0 0h1m0 0h1m0 0h1m1 0h1m0 0h1m0 0h1m0 0h1m0 0h1m0 0h1m0 0h1m0 0h1m0 0h1m0 0h1m0 0h1m0 0h1m0 0h1m0 0h1m1 0h1m3 0h1m7 0h1m1 0h1m14 0h1m2 0h1m9 0h1m-112 1h1m1 0h1m0 0h1m3 0h1m1 0h1m0 0h1m0 0h1m1 0h1m0 0h1m0 0h1m0 0h1m0 0h1m0 0h1m0 0h1m0 0h1m0 0h1m0 0h1m0 0h1m0 0h1m0 0h1m0 0h1m4 0h1m2 0h1m2 0h1m1 0h1m1 0h1m0 0h1m1 0h1m0 0h1m0 0h1m0 0h1m0 0h1m0 0h1m0 0h1m0 0h1m2 0h1m0 0h1m0 0h1m0 0h1m0 0h1m0 0h1m0 0h1m0 0h1m3 0h1m3 0h1m7 0h1m1 0h1m6 0h1m2 0h1m1 0h1m1 0h1m9 0h1m2 0h1m-108 1h1m9 0h1m0 0h1m0 0h1m0 0h1m0 0h1m0 0h1m0 0h1m1 0h1m0 0h1m0 0h1m1 0h1m3 0h1m1 0h1m0 0h1m0 0h1m3 0h1m0 0h1m1 0h1m3 0h1m0 0h1m0 0h1m0 0h1m0 0h1m0 0h1m0 0h1m0 0h1m0 0h1m0 0h1m0 0h1m0 0h1m0 0h1m0 0h1m0 0h1m0 0h1m0 0h1m0 0h1m0 0h1m1 0h1m0 0h1m0 0h1m3 0h1m0 0h1m2 0h1m0 0h1m1 0h1m1 0h1m0 0h1m1 0h1m0 0h1m4 0h1m6 0h1m0 0h1m2 0h1m2 0h1m1 0h1m0 0h1m0 0h1m11 0h1m-116 1h1m6 0h1m0 0h1m0 0h1m0 0h1m2 0h1m0 0h1m0 0h1m0 0h1m0 0h1m0 0h1m1 0h1m0 0h1m0 0h1m0 0h1m2 0h1m1 0h1m2 0h1m7 0h1m0 0h1m1 0h1m1 0h1m0 0h1m2 0h1m0 0h1m0 0h1m0 0h1m1 0h1m0 0h1m0 0h1m0 0h1m0 0h1m0 0h1m0 0h1m0 0h1m1 0h1m2 0h1m0 0h1m1 0h1m0 0h1m0 0h1m3 0h1m4 0h1m4 0h1m6 0h1m3 0h1m7 0h1m-104 1h1m1 0h1m1 0h1m2 0h1m4 0h1m0 0h1m1 0h1m0 0h1m0 0h1m0 0h1m0 0h1m1 0h1m1 0h1m0 0h1m0 0h1m0 0h1m0 0h1m0 0h1m2 0h1m0 0h1m0 0h1m1 0h1m0 0h1m0 0h1m0 0h1m1 0h1m1 0h1m0 0h1m0 0h1m0 0h1m1 0h1m0 0h1m0 0h1m0 0h1m0 0h1m0 0h1m1 0h1m0 0h1m0 0h1m0 0h1m0 0h1m0 0h1m0 0h1m0 0h1m4 0h1m0 0h1m0 0h1m0 0h1m2 0h1m0 0h1m0 0h1m0 0h1m1 0h1m0 0h1m3 0h1m5 0h1m0 0h1m1 0h1m2 0h1m1 0h1m0 0h1m7 0h1m1 0h1m0 0h1m2 0h1m6 0h1m1 0h1m-121 1h1m0 0h1m0 0h1m4 0h1m1 0h1m0 0h1m0 0h1m0 0h1m1 0h1m2 0h1m1 0h1m0 0h1m0 0h1m0 0h1m0 0h1m0 0h1m0 0h1m2 0h1m2 0h1m0 0h1m1 0h1m4 0h1m1 0h1m1 0h1m1 0h1m0 0h1m0 0h1m0 0h1m0 0h1m0 0h1m0 0h1m0 0h1m0 0h1m0 0h1m0 0h1m0 0h1m0 0h1m0 0h1m1 0h1m1 0h1m0 0h1m0 0h1m0 0h1m6 0h1m3 0h1m2 0h1m6 0h1m0 0h1m0 0h1m0 0h1m0 0h1m0 0h1m2 0h1m3 0h1m3 0h1m0 0h1m-100 1h1m5 0h1m0 0h1m1 0h1m0 0h1m0 0h1m1 0h1m0 0h1m1 0h1m1 0h1m2 0h1m0 0h1m0 0h1m0 0h1m0 0h1m1 0h1m2 0h1m1 0h1m0 0h1m3 0h1m1 0h1m0 0h1m1 0h1m0 0h1m0 0h1m0 0h1m0 0h1m0 0h1m0 0h1m0 0h1m0 0h1m0 0h1m0 0h1m0 0h1m1 0h1m0 0h1m1 0h1m0 0h1m1 0h1m1 0h1m1 0h1m1 0h1m2 0h1m1 0h1m0 0h1m0 0h1m5 0h1m0 0h1m1 0h1m5 0h1m1 0h1m0 0h1m2 0h1m0 0h1m4 0h1m1 0h1m11 0h1m1 0h1m8 0h1m0 0h1m-123 1h1m0 0h1m2 0h1m0 0h1m0 0h1m0 0h1m0 0h1m0 0h1m0 0h1m0 0h1m0 0h1m0 0h1m0 0h1m0 0h1m2 0h1m3 0h1m3 0h1m2 0h1m2 0h1m0 0h1m0 0h1m1 0h1m0 0h1m1 0h1m0 0h1m1 0h1m0 0h1m0 0h1m3 0h1m2 0h1m0 0h1m5 0h1m2 0h1m5 0h1m9 0h1m2 0h1m0 0h1m2 0h1m1 0h1m6 0h1m6 0h1m2 0h1m9 0h1m-123 1h1m0 0h1m0 0h1m4 0h1m1 0h1m1 0h1m0 0h1m0 0h1m0 0h1m0 0h1m0 0h1m0 0h1m0 0h1m0 0h1m0 0h1m0 0h1m0 0h1m0 0h1m0 0h1m0 0h1m0 0h1m3 0h1m2 0h1m0 0h1m1 0h1m0 0h1m0 0h1m2 0h1m2 0h1m0 0h1m0 0h1m0 0h1m0 0h1m0 0h1m0 0h1m1 0h1m0 0h1m3 0h1m0 0h1m0 0h1m1 0h1m4 0h1m2 0h1m1 0h1m1 0h1m2 0h1m0 0h1m2 0h1m1 0h1m6 0h1m1 0h1m0 0h1m0 0h1m1 0h1m1 0h1m3 0h1m8 0h1m5 0h1m-114 1h1m0 0h1m4 0h1m1 0h1m0 0h1m1 0h1m0 0h1m1 0h1m0 0h1m0 0h1m0 0h1m0 0h1m0 0h1m0 0h1m1 0h1m0 0h1m0 0h1m4 0h1m1 0h1m0 0h1m1 0h1m1 0h1m0 0h1m3 0h1m0 0h1m0 0h1m0 0h1m1 0h1m2 0h1m0 0h1m0 0h1m0 0h1m1 0h1m0 0h1m3 0h1m1 0h1m1 0h1m1 0h1m1 0h1m1 0h1m0 0h1m3 0h1m4 0h1m8 0h1m0 0h1m3 0h1m9 0h1m0 0h1m0 0h1m3 0h1m0 0h1m-109 1h1m2 0h1m3 0h1m0 0h1m0 0h1m0 0h1m0 0h1m0 0h1m0 0h1m0 0h1m1 0h1m0 0h1m0 0h1m1 0h1m7 0h1m2 0h1m4 0h1m0 0h1m3 0h1m1 0h1m0 0h1m1 0h1m0 0h1m0 0h1m1 0h1m0 0h1m4 0h1m1 0h1m7 0h1m2 0h1m2 0h1m0 0h1m0 0h1m0 0h1m22 0h1m0 0h1m7 0h1m3 0h1m-111 1h1m2 0h1m0 0h1m0 0h1m1 0h1m0 0h1m0 0h1m1 0h1m0 0h1m1 0h1m0 0h1m2 0h1m0 0h1m6 0h1m0 0h1m0 0h1m3 0h1m1 0h1m0 0h1m0 0h1m3 0h1m0 0h1m2 0h1m0 0h1m0 0h1m0 0h1m0 0h1m0 0h1m0 0h1m2 0h1m2 0h1m6 0h1m1 0h1m0 0h1m0 0h1m1 0h1m1 0h1m2 0h1m0 0h1m0 0h1m0 0h1m1 0h1m5 0h1m3 0h1m0 0h1m0 0h1m1 0h1m5 0h1m1 0h1m0 0h1m2 0h1m4 0h1m-114 1h1m0 0h1m1 0h1m3 0h1m1 0h1m0 0h1m1 0h1m1 0h1m0 0h1m0 0h1m0 0h1m0 0h1m0 0h1m0 0h1m0 0h1m1 0h1m0 0h1m2 0h1m1 0h1m6 0h1m5 0h1m0 0h1m0 0h1m3 0h1m0 0h1m0 0h1m1 0h1m0 0h1m0 0h1m0 0h1m6 0h1m1 0h1m0 0h1m16 0h1m1 0h1m3 0h1m0 0h1m0 0h1m1 0h1m0 0h1m2 0h1m5 0h1m4 0h1m0 0h1m-114 1h1m5 0h1m1 0h1m4 0h1m1 0h1m0 0h1m0 0h1m0 0h1m0 0h1m0 0h1m0 0h1m0 0h1m1 0h1m0 0h1m0 0h1m1 0h1m0 0h1m1 0h1m0 0h1m0 0h1m0 0h1m0 0h1m2 0h1m2 0h1m0 0h1m1 0h1m0 0h1m0 0h1m0 0h1m4 0h1m0 0h1m0 0h1m1 0h1m2 0h1m0 0h1m9 0h1m3 0h1m11 0h1m14 0h1m0 0h1m15 0h1m12 0h1m-130 1h1m6 0h1m3 0h1m0 0h1m0 0h1m1 0h1m0 0h1m0 0h1m0 0h1m0 0h1m0 0h1m0 0h1m0 0h1m1 0h1m0 0h1m0 0h1m1 0h1m1 0h1m2 0h1m0 0h1m1 0h1m2 0h1m1 0h1m0 0h1m0 0h1m1 0h1m3 0h1m0 0h1m0 0h1m1 0h1m0 0h1m0 0h1m1 0h1m0 0h1m10 0h1m0 0h1m0 0h1m0 0h1m0 0h1m6 0h1m2 0h1m1 0h1m3 0h1m4 0h1m0 0h1m0 0h1m12 0h1m0 0h1m1 0h1m-113 1h1m0 0h1m1 0h1m3 0h1m2 0h1m1 0h1m0 0h1m0 0h1m0 0h1m0 0h1m0 0h1m1 0h1m0 0h1m0 0h1m1 0h1m2 0h1m2 0h1m0 0h1m1 0h1m1 0h1m1 0h1m1 0h1m0 0h1m0 0h1m0 0h1m0 0h1m0 0h1m8 0h1m0 0h1m0 0h1m2 0h1m9 0h1m6 0h1m1 0h1m1 0h1m5 0h1m3 0h1m0 0h1m6 0h1m0 0h1m0 0h1m0 0h1m3 0h1m0 0h1m5 0h1m1 0h1m1 0h1m1 0h1m1 0h1m-122 1h1m7 0h1m1 0h1m6 0h1m1 0h1m0 0h1m1 0h1m0 0h1m0 0h1m0 0h1m0 0h1m0 0h1m0 0h1m0 0h1m0 0h1m0 0h1m2 0h1m2 0h1m0 0h1m0 0h1m3 0h1m1 0h1m1 0h1m0 0h1m3 0h1m1 0h1m0 0h1m3 0h1m4 0h1m0 0h1m0 0h1m1 0h1m0 0h1m0 0h1m3 0h1m5 0h1m0 0h1m0 0h1m2 0h1m1 0h1m2 0h1m0 0h1m0 0h1m1 0h1m2 0h1m3 0h1m6 0h1m32 0h1m-147 1h1m5 0h1m12 0h1m0 0h1m0 0h1m0 0h1m0 0h1m0 0h1m0 0h1m0 0h1m0 0h1m0 0h1m0 0h1m0 0h1m0 0h1m2 0h1m8 0h1m0 0h1m0 0h1m1 0h1m9 0h1m0 0h1m1 0h1m0 0h1m1 0h1m3 0h1m0 0h1m0 0h1m1 0h1m2 0h1m4 0h1m4 0h1m2 0h1m3 0h1m3 0h1m2 0h1m1 0h1m3 0h1m8 0h1m-105 1h1m3 0h1m3 0h1m0 0h1m0 0h1m0 0h1m0 0h1m0 0h1m0 0h1m0 0h1m4 0h1m1 0h1m0 0h1m0 0h1m1 0h1m0 0h1m0 0h1m1 0h1m1 0h1m1 0h1m1 0h1m4 0h1m0 0h1m7 0h1m0 0h1m4 0h1m0 0h1m3 0h1m0 0h1m2 0h1m0 0h1m15 0h1m3 0h1m3 0h1m0 0h1m13 0h1m0 0h1m4 0h1m0 0h1m0 0h1m-112 1h1m6 0h1m0 0h1m0 0h1m1 0h1m0 0h1m0 0h1m0 0h1m0 0h1m0 0h1m0 0h1m0 0h1m0 0h1m4 0h1m0 0h1m2 0h1m4 0h1m4 0h1m1 0h1m0 0h1m0 0h1m1 0h1m3 0h1m1 0h1m0 0h1m0 0h1m4 0h1m0 0h1m12 0h1m4 0h1m3 0h1m0 0h1m9 0h1m0 0h1m2 0h1m0 0h1m2 0h1m3 0h1m21 0h1m6 0h1m-134 1h1m0 0h1m0 0h1m1 0h1m0 0h1m3 0h1m0 0h1m0 0h1m0 0h1m0 0h1m0 0h1m0 0h1m1 0h1m0 0h1m0 0h1m0 0h1m10 0h1m0 0h1m0 0h1m1 0h1m7 0h1m4 0h1m14 0h1m0 0h1m5 0h1m3 0h1m0 0h1m5 0h1m0 0h1m0 0h1m2 0h1m0 0h1m3 0h1m21 0h1m-108 1h1m0 0h1m1 0h1m0 0h1m0 0h1m0 0h1m0 0h1m0 0h1m0 0h1m0 0h1m2 0h1m4 0h1m0 0h1m0 0h1m0 0h1m8 0h1m3 0h1m0 0h1m3 0h1m0 0h1m1 0h1m1 0h1m2 0h1m30 0h1m4 0h1m1 0h1m0 0h1m1 0h1m0 0h1m0 0h1m0 0h1m8 0h1m0 0h1m2 0h1m-106 1h1m2 0h1m0 0h1m1 0h1m2 0h1m0 0h1m0 0h1m0 0h1m0 0h1m0 0h1m1 0h1m2 0h1m0 0h1m0 0h1m4 0h1m0 0h1m3 0h1m5 0h1m1 0h1m1 0h1m7 0h1m0 0h1m4 0h1m10 0h1m2 0h1m0 0h1m11 0h1m3 0h1m0 0h1m1 0h1m2 0h1m1 0h1m6 0h1m1 0h1m1 0h1m1 0h1m0 0h1m0 0h1m-115 1h1m1 0h1m5 0h1m0 0h1m1 0h1m1 0h1m1 0h1m0 0h1m4 0h1m0 0h1m0 0h1m1 0h1m0 0h1m0 0h1m2 0h1m4 0h1m5 0h1m3 0h1m7 0h1m1 0h1m5 0h1m4 0h1m1 0h1m1 0h1m0 0h1m2 0h1m0 0h1m7 0h1m2 0h1m1 0h1m0 0h1m6 0h1m0 0h1m2 0h1m0 0h1m4 0h1m2 0h1m2 0h1m4 0h1m5 0h1m-129 1h1m0 0h1m3 0h1m4 0h1m1 0h1m0 0h1m0 0h1m0 0h1m0 0h1m1 0h1m0 0h1m2 0h1m1 0h1m0 0h1m0 0h1m0 0h1m1 0h1m0 0h1m1 0h1m0 0h1m3 0h1m1 0h1m2 0h1m6 0h1m3 0h1m6 0h1m2 0h1m1 0h1m1 0h1m0 0h1m1 0h1m18 0h1m0 0h1m12 0h1m2 0h1m-96 1h1m2 0h1m0 0h1m0 0h1m2 0h1m1 0h1m0 0h1m2 0h1m2 0h1m9 0h1m3 0h1m7 0h1m0 0h1m2 0h1m2 0h1m2 0h1m0 0h1m24 0h1m6 0h1m2 0h1m3 0h1m4 0h1m3 0h1m0 0h1m5 0h1m-123 1h1m17 0h1m1 0h1m0 0h1m0 0h1m0 0h1m0 0h1m0 0h1m0 0h1m0 0h1m0 0h1m0 0h1m0 0h1m1 0h1m0 0h1m2 0h1m6 0h1m1 0h1m1 0h1m2 0h1m2 0h1m2 0h1m3 0h1m0 0h1m2 0h1m2 0h1m8 0h1m0 0h1m18 0h1m0 0h1m4 0h1m10 0h1m1 0h1m5 0h1m1 0h1m2 0h1m3 0h1m0 0h1m-120 1h1m2 0h1m0 0h1m5 0h1m1 0h1m0 0h1m0 0h1m0 0h1m3 0h1m0 0h1m1 0h1m0 0h1m4 0h1m10 0h1m9 0h1m7 0h1m1 0h1m2 0h1m27 0h1m0 0h1m5 0h1m0 0h1m5 0h1m5 0h1m-117 1h1m2 0h1m9 0h1m0 0h1m0 0h1m0 0h1m1 0h1m0 0h1m0 0h1m1 0h1m1 0h1m3 0h1m13 0h1m2 0h1m3 0h1m2 0h1m0 0h1m9 0h1m3 0h1m7 0h1m6 0h1m3 0h1m2 0h1m15 0h1m0 0h1m13 0h1m0 0h1m6 0h1m-130 1h1m2 0h1m7 0h1m0 0h1m0 0h1m1 0h1m0 0h1m0 0h1m0 0h1m0 0h1m0 0h1m2 0h1m0 0h1m0 0h1m0 0h1m13 0h1m4 0h1m14 0h1m6 0h1m11 0h1m16 0h1m9 0h1m6 0h1m9 0h1m-112 1h1m3 0h1m1 0h1m2 0h1m2 0h1m0 0h1m0 0h1m0 0h1m0 0h1m7 0h1m15 0h1m1 0h1m5 0h1m1 0h1m11 0h1m2 0h1m4 0h1m10 0h1m4 0h1m3 0h1m10 0h1m-107 1h1m4 0h1m2 0h1m0 0h1m0 0h1m0 0h1m0 0h1m0 0h1m0 0h1m3 0h1m0 0h1m0 0h1m4 0h1m11 0h1m18 0h1m8 0h1m3 0h1m17 0h1m5 0h1m1 0h1m0 0h1m1 0h1m-96 1h1m2 0h1m1 0h1m0 0h1m0 0h1m0 0h1m1 0h1m1 0h1m1 0h1m2 0h1m5 0h1m1 0h1m3 0h1m20 0h1m0 0h1m10 0h1m1 0h1m17 0h1m0 0h1m17 0h1m14 0h1m-117 1h1m1 0h1m3 0h1m1 0h1m0 0h1m4 0h1m0 0h1m5 0h1m2 0h1m5 0h1m10 0h1m7 0h1m5 0h1m11 0h1m4 0h1m0 0h1m5 0h1m1 0h1m3 0h1m0 0h1m20 0h1m8 0h1m-120 1h1m1 0h1m0 0h1m1 0h1m0 0h1m2 0h1m1 0h1m0 0h1m0 0h1m1 0h1m0 0h1m3 0h1m3 0h1m40 0h1m8 0h1m1 0h1m6 0h1m1 0h1m0 0h1m13 0h1m1 0h1m12 0h1m-120 1h1m3 0h1m5 0h1m0 0h1m0 0h1m0 0h1m1 0h1m1 0h1m0 0h1m2 0h1m7 0h1m3 0h1m21 0h1m5 0h1m0 0h1m1 0h1m3 0h1m4 0h1m3 0h1m1 0h1m8 0h1m5 0h1m1 0h1m9 0h1m2 0h1m0 0h1m0 0h1m-114 1h1m8 0h1m0 0h1m1 0h1m3 0h1m0 0h1m0 0h1m0 0h1m1 0h1m1 0h1m2 0h1m0 0h1m1 0h1m27 0h1m0 0h1m0 0h1m6 0h1m12 0h1m2 0h1m0 0h1m1 0h1m12 0h1m7 0h1m4 0h1m19 0h1m-126 1h1m5 0h1m0 0h1m0 0h1m1 0h1m0 0h1m0 0h1m1 0h1m0 0h1m1 0h1m1 0h1m0 0h1m0 0h1m5 0h1m7 0h1m44 0h1m3 0h1m1 0h1m9 0h1m4 0h1m-101 1h1m3 0h1m0 0h1m0 0h1m0 0h1m2 0h1m0 0h1m1 0h1m0 0h1m0 0h1m1 0h1m0 0h1m4 0h1m0 0h1m18 0h1m32 0h1m8 0h1m5 0h1m10 0h1m-103 1h1m2 0h1m1 0h1m0 0h1m0 0h1m1 0h1m0 0h1m1 0h1m2 0h1m0 0h1m0 0h1m3 0h1m0 0h1m16 0h1m2 0h1m14 0h1m13 0h1m6 0h1m0 0h1m0 0h1m6 0h1m4 0h1m1 0h1m11 0h1m2 0h1m-110 1h1m1 0h1m1 0h1m0 0h1m0 0h1m1 0h1m0 0h1m0 0h1m0 0h1m0 0h1m1 0h1m0 0h1m0 0h1m1 0h1m2 0h1m4 0h1m14 0h1m1 0h1m28 0h1m15 0h1m29 0h1m7 0h1m-128 1h1m1 0h1m3 0h1m0 0h1m0 0h1m0 0h1m0 0h1m0 0h1m0 0h1m0 0h1m0 0h1m0 0h1m0 0h1m3 0h1m1 0h1m29 0h1m11 0h1m3 0h1m1 0h1m4 0h1m3 0h1m3 0h1m7 0h1m28 0h1m-121 1h1m3 0h1m0 0h1m0 0h1m1 0h1m0 0h1m0 0h1m0 0h1m1 0h1m0 0h1m1 0h1m0 0h1m1 0h1m1 0h1m8 0h1m18 0h1m2 0h1m8 0h1m2 0h1m8 0h1m0 0h1m24 0h1m14 0h1m-111 1h1m0 0h1m1 0h1m0 0h1m0 0h1m0 0h1m0 0h1m0 0h1m0 0h1m0 0h1m0 0h1m3 0h1m5 0h1m8 0h1m20 0h1m3 0h1m19 0h1m10 0h1m17 0h1m2 0h1m-113 1h1m2 0h1m2 0h1m0 0h1m0 0h1m1 0h1m0 0h1m0 0h1m1 0h1m0 0h1m0 0h1m0 0h1m0 0h1m2 0h1m1 0h1m19 0h1m13 0h1m3 0h1m10 0h1m23 0h1m27 0h1m-125 1h1m3 0h1m2 0h1m0 0h1m0 0h1m0 0h1m0 0h1m0 0h1m0 0h1m0 0h1m0 0h1m0 0h1m0 0h1m1 0h1m3 0h1m32 0h1m26 0h1m4 0h1m2 0h1m46 0h1m-135 1h1m0 0h1m2 0h1m1 0h1m0 0h1m1 0h1m0 0h1m0 0h1m0 0h1m2 0h1m0 0h1m1 0h1m28 0h1m10 0h1m15 0h1m33 0h1m-109 1h1m3 0h1m0 0h1m0 0h1m0 0h1m0 0h1m0 0h1m0 0h1m0 0h1m0 0h1m0 0h1m1 0h1m4 0h1m0 0h1m24 0h1m2 0h1m16 0h1m11 0h1m-74 1h1m0 0h1m1 0h1m0 0h1m1 0h1m0 0h1m8 0h1m1 0h1m13 0h1m1 0h1m0 0h1m43 0h1m-86 1h1m4 0h1m1 0h1m0 0h1m0 0h1m0 0h1m0 0h1m1 0h1m2 0h1m0 0h1m0 0h1m2 0h1m10 0h1m18 0h1m-51 1h1m2 0h1m0 0h1m1 0h1m0 0h1m0 0h1m0 0h1m0 0h1m0 0h1m0 0h1m0 0h1m1 0h1m1 0h1m0 0h1m19 0h1m21 0h1m-61 1h1m1 0h1m1 0h1m0 0h1m0 0h1m0 0h1m1 0h1m0 0h1m0 0h1m0 0h1m0 0h1m0 0h1m1 0h1m0 0h1m49 0h1m0 0h1m26 0h1m-100 1h1m3 0h1m1 0h1m2 0h1m0 0h1m0 0h1m0 0h1m1 0h1m0 0h1m0 0h1m3 0h1m0 0h1m0 0h1m17 0h1m23 0h1m20 0h1m26 0h1m-115 1h1m2 0h1m7 0h1m0 0h1m1 0h1m0 0h1m2 0h1m0 0h1m3 0h1m1 0h1m4 0h1m1 0h1m12 0h1m22 0h1m-63 1h1m0 0h1m2 0h1m0 0h1m0 0h1m0 0h1m0 0h1m0 0h1m1 0h1m0 0h1m1 0h1m1 0h1m0 0h1m2 0h1m2 0h1m7 0h1m26 0h1m-62 1h1m4 0h1m0 0h1m1 0h1m0 0h1m0 0h1m0 0h1m2 0h1m1 0h1m0 0h1m14 0h1m-42 1h1m7 0h1m5 0h1m2 0h1m0 0h1m1 0h1m0 0h1m0 0h1m0 0h1m1 0h1m1 0h1m4 0h1m0 0h1m30 0h1m7 0h1m18 0h1m14 0h1m6 0h1m-100 1h1m0 0h1m0 0h1m0 0h1m0 0h1m0 0h1m0 0h1m0 0h1m0 0h1m1 0h1m0 0h1m0 0h1m11 0h1m2 0h1m32 0h1m-66 1h1m0 0h1m0 0h1m0 0h1m1 0h1m4 0h1m1 0h1m2 0h1m1 0h1m4 0h1m110 0h1m-132 1h1m0 0h1m2 0h1m1 0h1m0 0h1m1 0h1m0 0h1m1 0h1m0 0h1m2 0h1m2 0h1m-18 1h1m2 0h1m0 0h1m1 0h1m0 0h1m2 0h1m0 0h1m0 0h1m4 0h1m0 0h1m0 0h1m30 0h1m1 0h1m4 0h1m1 0h1m6 0h1m2 0h1m11 0h1m-85 1h1m0 0h1m2 0h1m2 0h1m0 0h1m1 0h1m0 0h1m0 0h1m0 0h1m1 0h1m0 0h1m0 0h1m2 0h1m50 0h1m-70 1h1m0 0h1m0 0h1m2 0h1m0 0h1m1 0h1m0 0h1m0 0h1m2 0h1m1 0h1m6 0h1m18 0h1m27 0h1m5 0h1m18 0h1m32 0h1m-128 1h1m5 0h1m1 0h1m0 0h1m0 0h1m0 0h1m0 0h1m2 0h1m3 0h1m7 0h1m-28 1h1m0 0h1m1 0h1m1 0h1m0 0h1m0 0h1m0 0h1m1 0h1m1 0h1m7 0h1m0 0h1m61 0h1m-81 1h1m2 0h1m0 0h1m1 0h1m0 0h1m1 0h1m0 0h1m0 0h1m2 0h1m5 0h1m-18 1h1m1 0h1m1 0h1m1 0h1m1 0h1m2 0h1m-16 1h1m2 0h1m0 0h1m2 0h1m1 0h1m0 0h1m0 0h1m1 0h1m1 0h1m3 0h1m1 0h1m44 0h1m33 0h1m-100 1h1m0 0h1m1 0h1m0 0h1m0 0h1m2 0h1m0 0h1m3 0h1m0 0h1m0 0h1m3 0h1m2 0h1m-27 1h1m3 0h1m1 0h1m1 0h1m2 0h1m0 0h1m0 0h1m11 0h1m-23 1h1m0 0h1m0 0h1m0 0h1m0 0h1m0 0h1m3 0h1m0 0h1m-10 1h1m0 0h1m2 0h1m0 0h1m0 0h1m0 0h1m2 0h1m0 0h1m5 0h1m1 0h1m-20 1h1m0 0h1m1 0h1m2 0h1m1 0h1m0 0h1m3 0h1m0 0h1m0 0h1m0 0h1m19 0h1m-42 1h1m4 0h1m4 0h1m0 0h1m4 0h1m1 0h1m-17 1h1m4 0h1m0 0h1m1 0h1m1 0h1m0 0h1m3 0h1m0 0h1m1 0h1m5 0h1m-9 1h1m-21 1h1m1 0h1m3 0h1m2 0h1m0 0h1m1 0h1m0 0h1m3 0h1m-13 1h1m0 0h1m4 0h1m0 0h1m1 0h1m5 0h1m8 0h1m-22 1h1m1 0h1m1 0h1m0 0h1m10 0h1m-25 1h1m3 0h1m1 0h1m4 0h1m4 0h1m2 0h1m2 0h1m2 0h1m78 0h1m1 0h1m-98 1h1m1 0h1m0 0h1m4 0h1m0 0h1m-16 1h1m14 0h1m1 0h1m-7 1h1m4 0h1m42 0h1m-16 1h1m23 0h1m29 0h1m-95 1h1m6 0h1m-1 1h1m72 0h1m-85 1h1m6 0h1m-12 1h1m3 0h1m0 0h1m0 0h1m12 0h1m2 0h1m-17 1h1m14 1h1m85 0h1m-98 1h1m7 0h1m-9 1h1m1 0h1m3 0h1m85 0h1m-101 3h1m6 0h1m10 0h1m2 0h1m30 3h1m73 1h1m-109 2h1m-5 1h1m75 5h1" stroke="#ff2424" stroke-width="0.9" fill="none" opacity="1.0"/><path d="M334.4 746.3l-7 -0.5 -2.4 -1.0 -3 -5.5 0.1 -3.5 1.5 -2.0 6.3 -5.2 5 -3.2 5 -1.2 4 0.3 2 1.8 0.9 3.1 -0.2 3.0 -1.4 4.0 -6.3 8.0 -1.9 1.4 -2.5 0.7zM294.9 762.8l-1.1 -6.0 -0 -11.5 1.1 -2.7 2 -0.7 2 1.2 2 3.7 1 2.5 0.1 2.5 -2 5.5 -5 5.5zM293.9 797.5l-1.3 -1.2 -0.6 -3.0 0.7 -5.5 -0.2 -7.0 0.5 -2.2 1 -1.1 1 1.0 0.7 2.8 0.3 11.0 -0.6 3.2 -1.5 2.0zM293.9 805.9l-0.4 -1.1 0.4 -1.3 0.4 1.3 -0.4 1.1z" fill="#ff1010" stroke="none"/><path d="M293.4 824.8l-3 -1.3 -2.8 -3.7 -1.1 -3.5 -1 -8.0 -0.9 -29.0 0.5 -15.0 -1.8 -14.5 -1.4 -6.0 2.2 -10.0 6.5 -8.0 2.7 -2.3 8.5 -3.0 4.9 -2.7 4.6 -1.3 5.5 -2.6 22.5 -2.6 12 -0.5 4 0.9 6 4.3 2.8 4.2 0.5 3.5 -1.7 7.5 -14.8 21.0 -5.1 5.3 -15.5 8.9 -6.5 1.3 -8 0.1 -5.5 2.9 -3 2.4 -1 2.5 -0.4 3.1 0.1 22.0 -1.1 12.5 -1.4 5.0 -1.8 3.5 -2.4 2.1 -3 0.9zM295.4 823.4l-2 0.4 -1.5 -0.3 -3.3 -3.1 -1.4 -3.5 -1.1 -8.5 -0.9 -29.0 0.6 -15.0 -2.3 -20.0 1.5 -8.5 0.8 -2.0 5.8 -7.0 2.4 -2.0 3 -1.2 7 -1.4 13.5 -6.5 21.5 -3.1 12 -0.4 4 1.0 5 3.4 2.3 3.1 0.8 3.5 -0.7 5.0 -1.1 3.0 -6 9.5 -9.6 12.5 -3.7 3.5 -15.5 8.8 -5.5 0.8 -7 -1.6 -2 0.1 -8.3 7.8 -1.1 6.0 0.2 21.5 -0.9 12.0 -2.5 7.5 -1.9 2.4 -2 1.2zM294.9 822.5l-2 0.1 -1.5 -0.6 -2.8 -3.2 -1 -3.0 -1.3 -9.5 -0.7 -27.0 0.7 -15.0 -1.7 -19.5 2.2 -10.5 5.5 -6.6 2.5 -1.9 3 -0.9 8.1 -0.6 11.4 -6.0 5 -0.6 16 -3.7 12.5 -0.2 4 1.3 4 2.7 2.1 3.0 0.5 3.5 -1 5.0 -6.2 11.0 -11.4 14.0 -15.5 9.4 -4.5 1.3 -3 -0.4 -2.9 -1.6 -1.3 -1.5 -1.6 -5.0 -1.8 -0.9 -1.1 0.9 -2.3 8.0 -5.6 6.9 -0.9 2.1 -0.5 6.0 0.2 21.0 -0.9 11.5 -1 4.0 -1.6 3.5 -1.8 2.2 -2 1.0zM294.9 821.4l-3 -0.3 -2.8 -2.8 -0.9 -3.0 -1.4 -10.0 -0.7 -26.0 0.8 -15.5 -1.3 -18.5 1.4 -8.0 1.1 -3.0 4.7 -5.3 3 -2.1 3.5 -0.6 8 0.5 7.5 -4.8 7 -1.1 11.5 -4.8 6 -1.0 9 0.0 3.5 0.4 2.5 1.1 3.5 2.4 1.8 2.8 0.3 3.0 -1.2 5.5 -5.7 10.0 -10.7 12.4 -11.5 6.8 -5 2.6 -2.5 0.6 -2 -0.4 -1.4 -1.1 -3.1 -5.0 -3 -3.2 -2 -0.6 -1.3 1.3 -2.9 10.0 -4.8 6.2 -1.1 2.3 -0.4 6.5 0.2 21.5 -0.9 11.0 -0.8 3.5 -1.6 3.5 -1.5 1.9 -2 1.1zM294.4 820.3l-3 -0.7 -1.8 -2.3 -2.3 -13.0 -0.6 -25.0 0.9 -16.0 -0.9 -17.5 1.5 -8.0 1.2 -3.0 4.1 -4.5 3 -2.0 3.5 -0.4 6 1.4 2.5 0.0 6.5 -4.8 7 -1.2 8.5 -4.7 4 -1.5 5 -0.9 5.5 -0.1 5.5 0.5 3.5 1.3 3 2.4 1.2 2.5 0.1 3.5 -1.1 5.0 -1.6 3.5 -3.3 5.0 -10.4 11.4 -11.5 6.3 -5.5 1.3 -2 -0.7 -4 -2.9 -6 -5.8 -1.5 -0.2 -1 1.0 -3.8 13.2 -4.4 6.0 -1.1 2.5 0 28.0 -0.9 11.5 -2.3 6.3 -1.5 1.8 -2 0.9zM294.9 818.9l-2.5 -0.1 -1.9 -1.9 -1.9 -7.5 -0.7 -5.0 -0.6 -25.0 1 -17.5 -0.6 -16.0 1 -5.5 1.6 -4.5 3.7 -4.2 3.5 -2.0 3.5 0.1 6.5 2.3 2.3 -0.2 5.7 -4.9 6.3 -1.6 9.7 -5.8 3.5 -1.3 9.5 -1.0 5 0.6 3.5 1.3 2.6 2.3 1 2.5 -0 4.5 -0.9 4.0 -1.8 3.5 -4 5.5 -8.9 8.9 -9.5 4.4 -3.5 0.9 -2.5 0.0 -3 -0.9 -3.5 -2.0 -7 -7.8 -1 -0.1 -0.8 1.0 -4.2 16.0 -4.5 6.6 -1.2 2.9 0.2 28.5 -0.8 10.5 -1.7 5.5 -1.5 2.1 -1.5 1.0zM294.4 817.3l-1.5 -0.2 -1 -0.8 -1.9 -4.6 -1.3 -6.0 -0.5 -9.0 -0.3 -18.0 1.2 -18.0 -0.4 -15.0 0.8 -4.5 1.7 -4.5 3.7 -4.0 3.5 -1.5 3 0.6 7 3.8 1.5 0.1 6.1 -6.5 5.9 -2.2 9.5 -6.0 3.5 -1.6 9 -1.2 5 0.7 3 1.2 2.1 2.1 0.9 3.0 -0.1 5.0 -1.2 3.5 -4.4 6.5 -6.3 6.7 -2.5 2.0 -4 2.0 -8.5 2.3 -5 -0.6 -3 -1.7 -2.2 -2.2 -4.3 -7.5 -1.9 -2.3 -1.5 -0.6 -1.4 1.4 -0.8 2.5 -0.2 6.5 -2 10.5 -1.5 3.5 -3.6 5.2 -1.2 3.3 0.6 19.5 -1 19.0 -1.5 4.9 -1.5 1.9 -1.5 0.8zM328.9 751.3l-3 0.2 -2.5 -0.6 -2.5 -1.6 -2.3 -2.6 -1.8 -3.5 -1.9 -6.0 0.2 -2.0 1.4 -2.5 2 -2.0 16.5 -10.0 9 -1.4 4 0.7 3 1.4 1.3 1.3 0.9 2.0 0.1 5.5 -1.1 3.5 -3.6 5.5 -6.6 7.0 -2.5 2.0 -5 2.2 -5.5 0.9zM294.9 814.9l-1.5 -0.1 -1.7 -2.1 -1.6 -4.0 -0.7 -4.0 -0.7 -25.0 1.3 -18.5 -0.2 -15.5 0.8 -4.5 1.7 -3.5 3.5 -3.1 3 -1.0 4 1.5 2.5 2.6 0.8 11.0 -0.9 6.5 -1.1 4.0 -4.3 7.0 -1.7 5.0 0.9 18.0 -0.4 12.5 -1 9.5 -1.3 2.5 -1.5 1.1zM327.9 750.3l-3 -0.1 -2 -0.8 -1.9 -1.6 -1.8 -2.5 -1.5 -3.5 -0.9 -4.0 0.3 -2.5 1.4 -2.5 9.5 -7.1 7 -4.0 9 -1.4 3.5 0.6 2.8 1.4 1.8 3.0 0 5.0 -1.1 3.5 -3.4 5.5 -6.7 7.0 -2.5 1.8 -4.5 1.7 -6 0.6zM294.9 813.4l-1.5 -0.2 -1.6 -1.9 -1.2 -3.0 -0.6 -4.0 -0.6 -24.5 1.4 -19.0 -0.2 -15.5 0.9 -4.0 1.8 -3.0 3.1 -2.1 3 -0.6 2.5 0.9 1.8 1.8 1.7 11.5 -1.6 8.5 -4.3 7.1 -1.9 5.9 1.1 18.5 -0.5 12.0 -0.9 8.5 -0.9 2.0 -1.5 1.2zM333.9 748.9l-8 0.3 -2 -0.6 -1.7 -1.3 -2 -3.0 -1.7 -4.5 -0.2 -3.0 0.8 -2.5 1.7 -2.0 7.6 -5.9 6.5 -3.8 8 -1.5 3 0.3 2.3 0.9 2.1 2.0 0.7 2.5 -0.4 4.5 -1.9 4.5 -2.2 3.5 -6.2 6.5 -2.9 2.0 -3.5 1.1zM294.9 811.9l-2 -0.6 -1.7 -3.0 -1.2 -13.0 -0 -16.0 1.4 -18.5 -0.1 -15.5 0.6 -3.1 1.5 -2.6 2.5 -1.6 3 -0.4 2 0.6 1.4 1.6 2 7.5 0.2 3.0 -1.3 7.0 -4.3 7.0 -2.1 7.0 1 10.0 0.2 11.5 -1.1 15.5 -0.8 2.5 -1.3 1.1zM334.9 747.8l-8.5 0.1 -3 -1.3 -1.7 -2.3 -1.9 -4.5 -0.3 -2.5 0.7 -2.5 1.6 -1.9 7 -5.7 6 -3.6 7.5 -1.5 4.2 0.8 2 1.5 0.9 2.5 -0.4 4.5 -1.4 4.0 -2 3.5 -5.8 6.3 -2.5 1.8 -2.5 0.9zM294.4 810.4l-1.5 -0.7 -1.3 -2.9 -1 -12.5 0.1 -14.5 1.5 -19.0 -0.1 -15.0 1.3 -4.6 1.5 -1.3 2.5 -0.6 2 0.5 1.5 1.5 2.3 6.0 0.4 3.5 -1.1 5.5 -4.6 7.5 -2.2 8.0 1.3 9.0 0.3 11.5 -1.1 15.0 -0.9 2.5 -1 0.6zM334.9 746.9l-8 -0.2 -2.5 -1.1 -3.3 -6.2 -0.2 -2.0 0.5 -2.0 1.1 -1.5 7.3 -6.0 5.1 -3.1 6.5 -1.4 3.7 0.5 1.8 1.5 0.8 2.5 -0.2 4.0 -1.4 4.0 -1.8 3.0 -5 5.7 -2 1.5 -2.5 0.9zM293.9 771.5l-0.5 -0.4 -0.6 -3.8 0.5 -6.0 -0.2 -16.0 1.3 -3.4 2.5 -1.0 2 0.7 1.2 1.7 2.3 5.0 0.2 3.5 -1.5 5.0 -4.4 6.5 -2.8 8.2zM293.9 808.3l-1 -1.0 -0.5 -1.5 0.1 -6.0 -1.1 -6.5 0.4 -13.5 1.6 -6.2 1.5 2.2 1.1 3.5 0.5 12.5 -1.5 7.5 0.3 7.0 -0.5 1.5 -1 0.5zM334.4 745.8l-7 -0.7 -2 -1.0 -2.8 -4.8 0.1 -3.5 1.2 -1.6 6.5 -5.4 4.5 -2.8 4 -1.2 4 0.2 2 1.6 1.1 2.7 0 2.5 -1.2 4.0 -1.4 2.5 -5 5.8 -2 1.3 -2 0.4zM296.9 759.3l-1 0.4 -0.7 -0.4 -0.9 -4.0 0.1 -10.0 0.5 -1.5 1.4 -0.9 1.4 0.4 1.1 1.2 2 3.8 0.5 2.5 -1.4 5.0 -3.1 3.5zM294.4 786.1l-0.5 0.1 -0.7 -2.9 0.7 -3.1 1.1 2.1 -0.6 3.8zM294.4 795.3l-1 0.1 -0.7 -2.1 0.2 -2.1 1 -2.3 0.5 0.1 0.9 2.8 -0.9 3.5zM335.9 744.3l-2 0.1 -7 -1.9 -2.5 -3.0 -0.4 -2.7 1.2 -2.0 7.7 -6.2 4.5 -2.1 3.5 0.0 2 1.1 1.1 1.6 0.4 2.0 -0.5 3.0 -1.9 4.0 -4.1 4.8 -2 1.2zM297.9 754.4l-1 0.0 -0.5 -1.7 0.2 -3.5 0.8 -1.4 1.5 1.4 0.4 1.5 -0.4 2.2 -1 1.4zM336.4 742.4l-2 0.3 -6.9 -2.9 -1.4 -1.5 -0.1 -1.5 6.8 -6.6 3.5 -1.7 3 -0.3 1.5 0.6 1.3 1.4 0.2 4.0 -1.6 3.5 -4.4 4.6zM336.4 739.9l-1.5 0.2 -1.3 -0.8 -2.1 -2.5 -0.2 -1.5 0.9 -2.0 1.8 -1.8 2.5 -1.0 2 0 2 1.6 0.2 2.8 -1.3 2.5 -3 2.6zM336.4 735.9l-1 -0.6 -0.1 -1.0 1.6 -0.9 0.6 0.4 0.2 1.0 -1.3 1.1z" fill="none" stroke="#000" stroke-width="0.85" stroke-linejoin="round"/></g><path d="M354.3 735.5 L360 738 L364 737 L367 742 L371 744 L375 741 L380 741.5 L383 740 L386 744 L385 750 L387.5 755 L386 760 L389 764 L392 770 L389 772 L385 769 L381 769.5 L378 765 L375 760 L372 756 L368 754 L364 752 L361 748 L358 746 L356 741 Z" stroke="#111" stroke-width="1" fill="none" stroke-linejoin="round"/><circle cx="368.5" cy="736.5" r="1.6" fill="none" stroke="#111" stroke-width="0.9"/><circle cx="381.5" cy="745" r="1.8" fill="none" stroke="#111" stroke-width="0.9"/><circle cx="371.5" cy="749.5" r="1.6" fill="none" stroke="#111" stroke-width="0.9"/><defs>
<radialGradient id="glow" cx="0.5" cy="0.5" r="0.5"><stop offset="0.5" stop-color="#7a80f2" stop-opacity="0.95"/><stop offset="0.68" stop-color="#a8acf6" stop-opacity="0.55"/><stop offset="0.85" stop-color="#d8daf9" stop-opacity="0.25"/><stop offset="1" stop-color="#ffffff" stop-opacity="0"/></radialGradient>
<linearGradient id="arcTop" x1="0" x2="1"><stop offset="0" stop-color="#e8dcd8"/><stop offset="1" stop-color="#8a4a48"/></linearGradient>
<linearGradient id="arcBot" x1="0" x2="1"><stop offset="0" stop-color="#d8e8ec"/><stop offset="1" stop-color="#2a7080"/></linearGradient>
<filter id="blur1" x="-20%" y="-20%" width="140%" height="140%"><feGaussianBlur stdDeviation="0.6"/></filter>
<filter id="blur2" x="-20%" y="-20%" width="140%" height="140%"><feGaussianBlur stdDeviation="1.2"/></filter>
</defs><path d="M49.3 20.1 L78 20.1 C80 28 82 33 84 40 C88 52 91 62 94 72 C96 82 98 95 100 105 C101 110 102 112 103.5 113.5 C110 113 118 114 125 116 C129 117 129 121 125 122 C119 122 113 121 108 121 C112 130 118 142 124 156 L119 158 C114 149 110 142 107 136 L110 158 L104 159 L101 140 L99 158 L93 158 C92 148 91 138 89.5 125 C87 118 84 111 80 104 C74 94 69 85 65 74 C61 62 57 50 53 38 C51 31 49.5 25 49.3 20.1 Z" fill="#f3d5ba"/><path d="M58 36 C62 40 68 40 74 37" stroke="#eac2a0" stroke-width="1.2" fill="none"/><path d="M64 70 C70 80 74 88 78 96" stroke="#ecc6a4" stroke-width="3" fill="none" opacity="0.6"/><path d="M65.4 64 L89.5 62.5 L90 73.5 L66 75.5 Z" fill="#4dbab6"/><path d="M74.5 62.8 L79.6 62.5 L80 74.5 L75 75 Z" fill="#1f8f8c"/><path d="M78 82 C86 86 94 84 97 78 C100 72 108 71 113 75 L117 80" stroke="#d5d8da" stroke-width="2.2" fill="none"/><path d="M111.5 76.5 L117 74 L124 85 L119 88.5 Z" fill="#bcd8dc"/><path d="M117 80 L121 78.5 L126 87 L122 89 Z" fill="#2fa8a4"/><rect x="121" y="87" width="12" height="12" rx="2" transform="rotate(-45 127 93)" fill="#e4641f"/><path d="M130.5 100.5 L154 124.5" stroke="#a83038" stroke-width="8" stroke-linecap="round"/><path d="M130 99 L134 103" stroke="#c8c0c0" stroke-width="8" stroke-linecap="butt" opacity="0.5"/><rect x="188.2" y="42.6" width="166.4" height="53.6" fill="#d4e3f7" rx="10" stroke="#8eb0dd" stroke-width="1.4"/><circle cx="168.7" cy="55" r="26" fill="#ffffff" stroke="#1f4f8f" stroke-width="3.6"/><g filter="url(#blur1)"><circle cx="157.4" cy="48.6" r="8.8" fill="#b8a8ec"/><circle cx="157.6" cy="48.8" r="4.5" fill="#9c8ad8"/><circle cx="180.7" cy="48.8" r="8.3" fill="#dc94bc"/><circle cx="179.5" cy="47.5" r="3" fill="#c06a98"/><circle cx="182.5" cy="51.5" r="2.6" fill="#c06a98"/><circle cx="170.3" cy="67.6" r="8.4" fill="#a8c2f2"/><circle cx="170.6" cy="67.6" r="5" fill="#94b0ec"/><circle cx="161.5" cy="58.5" r="2.2" fill="#a8e0e8"/><circle cx="170.5" cy="57.5" r="2" fill="#a8e0e8"/><circle cx="150" cy="62" r="1.6" fill="#a8e0e8"/><circle cx="188" cy="62" r="1.8" fill="#a8e0e8"/><circle cx="160.5" cy="70" r="1.6" fill="#a8e0e8"/><circle cx="181.5" cy="69" r="1.5" fill="#a8e0e8"/><circle cx="166" cy="39" r="1.5" fill="#a8e0e8"/></g><path d="M156 88 C161 93 167 95 175 94.5" stroke="#80868c" stroke-width="4.2" fill="none"/><path d="M173.5 89 L186.4 96.5 L174.5 102.6 Z" fill="#80868c"/><text x="200.74" y="66.8" font-size="16.38" fill="#3b5f90" font-weight="bold">CAR.T generation</text><text x="237.89" y="86.6" font-size="16.3" fill="#3b5f90" font-weight="bold">± LSD1i</text><circle cx="413.9" cy="64.2" r="47" fill="url(#glow)"/><circle cx="413.9" cy="64.2" r="24.3" fill="#5c62ee"/><circle cx="411.9" cy="65.8" r="14.5" fill="#3a3fe2" filter="url(#blur1)"/><text x="371.98" y="13.6" font-size="14.2" fill="#2d5f95" font-weight="bold" textLength="44.56" lengthAdjust="spacingAndGlyphs">B7.H3</text><text x="372.42" y="28.1" font-size="14.2" fill="#2d5f95" font-weight="bold" textLength="44.43" lengthAdjust="spacingAndGlyphs">CAR.T</text><rect x="434.4" y="60.2" width="10" height="6.2" fill="#c0c8d8"/><rect x="444.4" y="60.2" width="12.5" height="6.2" fill="#3a8898"/><rect x="456.9" y="60.2" width="11.5" height="6.2" fill="#9a5a98"/><path d="M429 29 Q455 12 484 31" stroke="url(#arcTop)" stroke-width="1.6" fill="none"/><path d="M484 31 l-4.5 -1 l2.5 4.5 z" fill="#7a3a38"/><path d="M429 100 Q455 115 484 96" stroke="url(#arcBot)" stroke-width="1.6" fill="none"/><path d="M484 96 l-4.8 0.2 l2.6 4.3 z" fill="#2a6878"/><rect x="432" y="22" width="1.6" height="1.6" fill="#9080c8"/><rect x="441" y="26" width="1.6" height="1.6" fill="#e0c080"/><rect x="448" y="18" width="1.6" height="1.6" fill="#c0a0d0"/><rect x="455" y="24" width="1.6" height="1.6" fill="#d8b070"/><rect x="462" y="20" width="1.6" height="1.6" fill="#a0a0d0"/><rect x="470" y="25" width="1.6" height="1.6" fill="#e8c090"/><rect x="476" y="20" width="1.6" height="1.6" fill="#b0a0c8"/><rect x="430" y="106" width="1.6" height="1.6" fill="#60b0e0"/><rect x="438" y="110" width="1.6" height="1.6" fill="#88c0a0"/><rect x="446" y="103" width="1.6" height="1.6" fill="#50a0e0"/><rect x="452" y="111" width="1.6" height="1.6" fill="#a0d0e0"/><rect x="460" y="106" width="1.6" height="1.6" fill="#3090d0"/><rect x="468" y="110" width="1.6" height="1.6" fill="#90c8b0"/><rect x="475" y="104" width="1.6" height="1.6" fill="#60b8e0"/><g filter="url(#blur1)"><circle cx="487.5" cy="41.1" r="7" fill="#d47676"/><circle cx="506.8" cy="40.5" r="6.5" fill="#d47676"/><circle cx="518.5" cy="47.5" r="3" fill="#d47676"/><circle cx="472.9" cy="52.8" r="5" fill="#d47676"/><circle cx="495.1" cy="51" r="6.5" fill="#d47676"/><circle cx="508" cy="51.6" r="5.5" fill="#d47676"/><circle cx="478.7" cy="63.3" r="7" fill="#d47676"/><circle cx="492.8" cy="62.1" r="7" fill="#d47676"/><circle cx="505.6" cy="65.6" r="10.5" fill="#d47676"/><circle cx="523.2" cy="57.5" r="6" fill="#d47676"/><circle cx="525.5" cy="69.2" r="4.2" fill="#d47676"/><circle cx="534.9" cy="55.1" r="3" fill="#d47676"/><circle cx="479.9" cy="79.7" r="6" fill="#d47676"/><circle cx="492.8" cy="85.5" r="7" fill="#d47676"/><circle cx="506.8" cy="75" r="7.5" fill="#d47676"/><circle cx="515" cy="78.5" r="6.5" fill="#d47676"/><circle cx="505.6" cy="93.7" r="5.5" fill="#d47676"/><circle cx="519.7" cy="85" r="4" fill="#d47676"/><circle cx="470.5" cy="72.7" r="3" fill="#d47676"/><circle cx="497" cy="72" r="7" fill="#d47676"/><circle cx="514" cy="62" r="7" fill="#d47676"/></g><circle cx="503.3" cy="66.8" r="7.5" fill="#c45a5e" filter="url(#blur2)"/><circle cx="493" cy="60" r="3.5" fill="#c45a5e" filter="url(#blur2)"/><text x="491.25" y="119.1" font-size="14.99" fill="#a94a4e" font-weight="bold">SH-SY5Y and D341</text><text x="530.55" y="134.7" font-size="14.66" fill="#a94a4e" font-weight="bold">TUMOR</text><path d="M90.7 965 C96 965 98.8 969 98.6 975 L100.5 975.5 C101 979 100 982 98 983 C97 986 96 988 95.9 990 L96 993 C100 994.5 105 995 108.5 998 C111.5 1001 112.8 1005 113.3 1011 C114 1020 115.5 1030 116.7 1040 C118 1047 119.5 1052 121.5 1056 C124 1059 127 1061 129 1063.5 L128 1064.5 C126.5 1064 125.5 1064 124.5 1065 C124.5 1069 124 1073 122.5 1075.5 C120.5 1075 119 1073 118.5 1070 C117 1064 115.5 1060 114 1057 C112 1050 110 1043 108.5 1035 C108 1040 107.5 1046 107.5 1052 C108 1060 107.2 1068 106.5 1075 C106 1085 105.5 1095 105 1110 L95 1110 C94 1098 93 1085 91.8 1070 L90 1070 C89 1085 88 1098 86.5 1110 L76.5 1110 C76 1098 75.5 1088 75 1078 C74.5 1068 74.2 1060 74.4 1052 C74.5 1046 74.8 1040 75.5 1034 C74 1041 72 1048 70 1055 C68.5 1060 67 1064 65.5 1068 C64.5 1072 62 1076 59 1077 C57.5 1074 57.5 1070 58.5 1066.5 C57 1065.5 55 1065 53.5 1064 L54.3 1063 C57 1061 60 1059 62 1056 C64 1051 65.2 1045 66 1039 C67 1030 67.5 1020 68.5 1012 C69.5 1005 72 1000 76 997 C79 995 83 994 85.8 993 L86 990 C85.5 988 84.5 986 83.5 983 C81.5 982 80.5 979 81 975.5 L82.8 975 C82.6 969 85.4 965 90.7 965 Z" fill="#b2464a"/><circle cx="79" cy="1005.1" r="11.2" fill="#ecc4ae"/><path d="M78.4 999.8 l2.2 1.8 2.6 0.6 0.2 2.8 1.4 2.2 -1.6 2.2 -0.4 2.6 -2.6 0.4 -2.0 1.6 -2.2 -1.2 -2.6 -0.4 -0.6 -2.6 -1.6 -2.2 1.4 -2.2 0.2 -2.6 2.6 -0.8 z" fill="#5a2626"/><rect x="84.9" y="1135.2" width="169.3" height="66" fill="#fcd8d8" rx="12" stroke="#d98686" stroke-width="1.5"/><circle cx="77.7" cy="1130.1" r="34.3" fill="#ffffff" stroke="#b8383a" stroke-width="3.8"/><g filter="url(#blur1)"><circle cx="61" cy="1118.3" r="10" fill="#aaa2e6"/><circle cx="62" cy="1119" r="5" fill="#8c80cc"/><circle cx="91.9" cy="1120.1" r="10.8" fill="#c896bc"/><path d="M88 1114 q4 -3 7 1 q-1 4 -4 3 q1 4 4 5 q-2 4 -6 1 q-3 -3 -1 -5 q-3 -2 0 -5z" fill="#9c5a8a"/><circle cx="78.2" cy="1145.6" r="12.2" fill="#a6c2f4"/><circle cx="78.5" cy="1145" r="7" fill="#8eaceb"/><circle cx="74" cy="1106" r="2.6" fill="#bde6f4"/><circle cx="77.5" cy="1121" r="2.8" fill="#bde6f4"/><circle cx="52" cy="1130" r="2.2" fill="#bde6f4"/><circle cx="99" cy="1134" r="2.6" fill="#bde6f4"/><circle cx="83" cy="1134" r="2" fill="#bde6f4"/><circle cx="56" cy="1142" r="2" fill="#bde6f4"/><circle cx="96" cy="1148" r="2.5" fill="#bde6f4"/><circle cx="104" cy="1128" r="2" fill="#bde6f4"/><circle cx="67" cy="1103" r="1.6" fill="#bde6f4"/><circle cx="87" cy="1156" r="1.8" fill="#bde6f4"/></g><path d="M116 1101.5 C121 1106 127 1109 137 1111.5" stroke="#7b8088" stroke-width="4.4" fill="none"/><path d="M135 1104.5 L156.6 1113.8 L139 1121.5 Z" fill="#7b8088"/><rect x="167.5" y="1070.5" width="14.2" height="47.5" fill="#f2f2f2" rx="6" stroke="#c8c8c8" stroke-width="0.8"/><path d="M167.9 1087 H181.3 V1110 A6.7 6.7 0 0 1 167.9 1110 Z" fill="#a82c30"/><rect x="167.9" y="1076.2" width="13.4" height="10.8" fill="#e8b32e"/><rect x="166.4" y="1056.9" width="16.4" height="14.2" fill="#ee7430" rx="2"/><rect x="166.4" y="1066.5" width="16.4" height="4.5" fill="#d85e20"/><text x="189.52" y="1076.7" font-size="21" fill="#a03034" stroke="#a03034" stroke-width="0.35">Blood</text><text x="132.99" y="1162.4" font-size="21.68" fill="#9e2a2e" font-weight="bold">PBMCs</text><text x="91.91" y="1187.6" font-size="19.5" fill="#9e2a2e" font-weight="bold">±</text><text x="110.99" y="1187.6" font-size="20.18" fill="#9e2a2e" font-weight="bold" font-style="italic">ex vivo</text><text x="184.39" y="1187.6" font-size="21.67" fill="#9e2a2e" font-weight="bold">LSD1i</text><line x1="28.9" y1="330.1" x2="28.9" y2="172.6" stroke="#8a8a8a" stroke-width="1"/><path d="M24.6 178.1L28.9 172.6L33.2 178.1" stroke="#8a8a8a" stroke-width="1" fill="none"/><line x1="80" y1="370.3" x2="452.7" y2="370.3" stroke="#8a8a8a" stroke-width="1"/><path d="M447.2 366L452.7 370.3L447.2 374.6" stroke="#8a8a8a" stroke-width="1" fill="none"/><text transform="translate(21.5,330.1) rotate(-90)" x="-0.57" y="0" font-size="11.49" fill="#111" stroke="#111" stroke-width="0.35">CD45RO</text><text x="81.72" y="389.7" font-size="11.55" fill="#111" stroke="#111" stroke-width="0.35">CD62L</text><rect x="80" y="171.6" width="156.6" height="156.3" fill="none" stroke="#111" stroke-width="1.3"/><line x1="74.2" y1="212.7" x2="80" y2="212.7" stroke="#000" stroke-width="1.2"/><line x1="74.2" y1="257.9" x2="80" y2="257.9" stroke="#000" stroke-width="1.2"/><line x1="74.2" y1="308.5" x2="80" y2="308.5" stroke="#000" stroke-width="1.2"/><line x1="74.2" y1="327.9" x2="80" y2="327.9" stroke="#000" stroke-width="1.2"/><line x1="76.8" y1="244.29" x2="80" y2="244.29" stroke="#000" stroke-width="1.2"/><line x1="76.8" y1="236.33" x2="80" y2="236.33" stroke="#000" stroke-width="1.2"/><line x1="76.8" y1="230.69" x2="80" y2="230.69" stroke="#000" stroke-width="1.2"/><line x1="76.8" y1="226.31" x2="80" y2="226.31" stroke="#000" stroke-width="1.2"/><line x1="76.8" y1="222.73" x2="80" y2="222.73" stroke="#000" stroke-width="1.2"/><line x1="76.8" y1="219.7" x2="80" y2="219.7" stroke="#000" stroke-width="1.2"/><line x1="76.8" y1="217.08" x2="80" y2="217.08" stroke="#000" stroke-width="1.2"/><line x1="76.8" y1="214.77" x2="80" y2="214.77" stroke="#000" stroke-width="1.2"/><line x1="76.8" y1="199.09" x2="80" y2="199.09" stroke="#000" stroke-width="1.2"/><line x1="76.8" y1="191.13" x2="80" y2="191.13" stroke="#000" stroke-width="1.2"/><line x1="76.8" y1="185.49" x2="80" y2="185.49" stroke="#000" stroke-width="1.2"/><line x1="76.8" y1="181.11" x2="80" y2="181.11" stroke="#000" stroke-width="1.2"/><line x1="76.8" y1="177.53" x2="80" y2="177.53" stroke="#000" stroke-width="1.2"/><line x1="76.8" y1="174.5" x2="80" y2="174.5" stroke="#000" stroke-width="1.2"/><line x1="76.8" y1="289.49" x2="80" y2="289.49" stroke="#000" stroke-width="1.2"/><line x1="76.8" y1="281.53" x2="80" y2="281.53" stroke="#000" stroke-width="1.2"/><line x1="76.8" y1="275.89" x2="80" y2="275.89" stroke="#000" stroke-width="1.2"/><line x1="76.8" y1="271.51" x2="80" y2="271.51" stroke="#000" stroke-width="1.2"/><line x1="76.8" y1="267.93" x2="80" y2="267.93" stroke="#000" stroke-width="1.2"/><line x1="76.8" y1="264.9" x2="80" y2="264.9" stroke="#000" stroke-width="1.2"/><line x1="76.8" y1="262.28" x2="80" y2="262.28" stroke="#000" stroke-width="1.2"/><line x1="76.8" y1="259.97" x2="80" y2="259.97" stroke="#000" stroke-width="1.2"/><line x1="80" y1="327.9" x2="80" y2="333.7" stroke="#000" stroke-width="1.2"/><line x1="102.7" y1="327.9" x2="102.7" y2="333.7" stroke="#000" stroke-width="1.2"/><line x1="124.8" y1="327.9" x2="124.8" y2="333.7" stroke="#000" stroke-width="1.2"/><line x1="160.2" y1="327.9" x2="160.2" y2="333.7" stroke="#000" stroke-width="1.2"/><line x1="211.5" y1="327.9" x2="211.5" y2="333.7" stroke="#000" stroke-width="1.2"/><line x1="175.64" y1="327.9" x2="175.64" y2="331.1" stroke="#000" stroke-width="1.2"/><line x1="184.68" y1="327.9" x2="184.68" y2="331.1" stroke="#000" stroke-width="1.2"/><line x1="191.09" y1="327.9" x2="191.09" y2="331.1" stroke="#000" stroke-width="1.2"/><line x1="196.06" y1="327.9" x2="196.06" y2="331.1" stroke="#000" stroke-width="1.2"/><line x1="200.12" y1="327.9" x2="200.12" y2="331.1" stroke="#000" stroke-width="1.2"/><line x1="203.55" y1="327.9" x2="203.55" y2="331.1" stroke="#000" stroke-width="1.2"/><line x1="206.53" y1="327.9" x2="206.53" y2="331.1" stroke="#000" stroke-width="1.2"/><line x1="209.15" y1="327.9" x2="209.15" y2="331.1" stroke="#000" stroke-width="1.2"/><line x1="226.94" y1="327.9" x2="226.94" y2="331.1" stroke="#000" stroke-width="1.2"/><line x1="144.76" y1="327.9" x2="144.76" y2="331.1" stroke="#000" stroke-width="1.2"/><line x1="148.82" y1="327.9" x2="148.82" y2="331.1" stroke="#000" stroke-width="1.2"/><line x1="152.25" y1="327.9" x2="152.25" y2="331.1" stroke="#000" stroke-width="1.2"/><line x1="155.23" y1="327.9" x2="155.23" y2="331.1" stroke="#000" stroke-width="1.2"/><line x1="157.85" y1="327.9" x2="157.85" y2="331.1" stroke="#000" stroke-width="1.2"/><rect x="291.9" y="172.8" width="156.6" height="156.3" fill="none" stroke="#111" stroke-width="1.3"/><line x1="286.1" y1="213.9" x2="291.9" y2="213.9" stroke="#000" stroke-width="1.2"/><line x1="286.1" y1="259.1" x2="291.9" y2="259.1" stroke="#000" stroke-width="1.2"/><line x1="286.1" y1="309.7" x2="291.9" y2="309.7" stroke="#000" stroke-width="1.2"/><line x1="286.1" y1="329.1" x2="291.9" y2="329.1" stroke="#000" stroke-width="1.2"/><line x1="288.7" y1="245.49" x2="291.9" y2="245.49" stroke="#000" stroke-width="1.2"/><line x1="288.7" y1="237.53" x2="291.9" y2="237.53" stroke="#000" stroke-width="1.2"/><line x1="288.7" y1="231.89" x2="291.9" y2="231.89" stroke="#000" stroke-width="1.2"/><line x1="288.7" y1="227.51" x2="291.9" y2="227.51" stroke="#000" stroke-width="1.2"/><line x1="288.7" y1="223.93" x2="291.9" y2="223.93" stroke="#000" stroke-width="1.2"/><line x1="288.7" y1="220.9" x2="291.9" y2="220.9" stroke="#000" stroke-width="1.2"/><line x1="288.7" y1="218.28" x2="291.9" y2="218.28" stroke="#000" stroke-width="1.2"/><line x1="288.7" y1="215.97" x2="291.9" y2="215.97" stroke="#000" stroke-width="1.2"/><line x1="288.7" y1="200.29" x2="291.9" y2="200.29" stroke="#000" stroke-width="1.2"/><line x1="288.7" y1="192.33" x2="291.9" y2="192.33" stroke="#000" stroke-width="1.2"/><line x1="288.7" y1="186.69" x2="291.9" y2="186.69" stroke="#000" stroke-width="1.2"/><line x1="288.7" y1="182.31" x2="291.9" y2="182.31" stroke="#000" stroke-width="1.2"/><line x1="288.7" y1="178.73" x2="291.9" y2="178.73" stroke="#000" stroke-width="1.2"/><line x1="288.7" y1="175.7" x2="291.9" y2="175.7" stroke="#000" stroke-width="1.2"/><line x1="288.7" y1="290.69" x2="291.9" y2="290.69" stroke="#000" stroke-width="1.2"/><line x1="288.7" y1="282.73" x2="291.9" y2="282.73" stroke="#000" stroke-width="1.2"/><line x1="288.7" y1="277.09" x2="291.9" y2="277.09" stroke="#000" stroke-width="1.2"/><line x1="288.7" y1="272.71" x2="291.9" y2="272.71" stroke="#000" stroke-width="1.2"/><line x1="288.7" y1="269.13" x2="291.9" y2="269.13" stroke="#000" stroke-width="1.2"/><line x1="288.7" y1="266.1" x2="291.9" y2="266.1" stroke="#000" stroke-width="1.2"/><line x1="288.7" y1="263.48" x2="291.9" y2="263.48" stroke="#000" stroke-width="1.2"/><line x1="288.7" y1="261.17" x2="291.9" y2="261.17" stroke="#000" stroke-width="1.2"/><line x1="291.9" y1="329.1" x2="291.9" y2="334.9" stroke="#000" stroke-width="1.2"/><line x1="314.6" y1="329.1" x2="314.6" y2="334.9" stroke="#000" stroke-width="1.2"/><line x1="336.7" y1="329.1" x2="336.7" y2="334.9" stroke="#000" stroke-width="1.2"/><line x1="372.1" y1="329.1" x2="372.1" y2="334.9" stroke="#000" stroke-width="1.2"/><line x1="423.4" y1="329.1" x2="423.4" y2="334.9" stroke="#000" stroke-width="1.2"/><line x1="387.54" y1="329.1" x2="387.54" y2="332.3" stroke="#000" stroke-width="1.2"/><line x1="396.58" y1="329.1" x2="396.58" y2="332.3" stroke="#000" stroke-width="1.2"/><line x1="402.99" y1="329.1" x2="402.99" y2="332.3" stroke="#000" stroke-width="1.2"/><line x1="407.96" y1="329.1" x2="407.96" y2="332.3" stroke="#000" stroke-width="1.2"/><line x1="412.02" y1="329.1" x2="412.02" y2="332.3" stroke="#000" stroke-width="1.2"/><line x1="415.45" y1="329.1" x2="415.45" y2="332.3" stroke="#000" stroke-width="1.2"/><line x1="418.43" y1="329.1" x2="418.43" y2="332.3" stroke="#000" stroke-width="1.2"/><line x1="421.05" y1="329.1" x2="421.05" y2="332.3" stroke="#000" stroke-width="1.2"/><line x1="438.84" y1="329.1" x2="438.84" y2="332.3" stroke="#000" stroke-width="1.2"/><line x1="356.66" y1="329.1" x2="356.66" y2="332.3" stroke="#000" stroke-width="1.2"/><line x1="360.72" y1="329.1" x2="360.72" y2="332.3" stroke="#000" stroke-width="1.2"/><line x1="364.15" y1="329.1" x2="364.15" y2="332.3" stroke="#000" stroke-width="1.2"/><line x1="367.13" y1="329.1" x2="367.13" y2="332.3" stroke="#000" stroke-width="1.2"/><line x1="369.75" y1="329.1" x2="369.75" y2="332.3" stroke="#000" stroke-width="1.2"/><text x="86.68" y="187.7" font-size="9.13" fill="#000" stroke="#000" stroke-width="0.35" textLength="13.48" lengthAdjust="spacingAndGlyphs">EM</text><text x="86.95" y="200.6" font-size="9.13" fill="#000" stroke="#000" stroke-width="0.35" textLength="28.05" lengthAdjust="spacingAndGlyphs">24,7 %</text><text x="215.26" y="185.7" font-size="9.13" fill="#000" stroke="#000" stroke-width="0.35" textLength="13.8" lengthAdjust="spacingAndGlyphs">CM</text><text x="200.63" y="199" font-size="9.13" fill="#000" stroke="#000" stroke-width="0.35" textLength="27.97" lengthAdjust="spacingAndGlyphs">10,7 %</text><text x="85.25" y="310.6" font-size="9.13" fill="#000" stroke="#000" stroke-width="0.35" textLength="10.33" lengthAdjust="spacingAndGlyphs">ET</text><text x="85.54" y="323.9" font-size="9.13" fill="#000" stroke="#000" stroke-width="0.35" textLength="27.86" lengthAdjust="spacingAndGlyphs">36,6 %</text><text x="185.34" y="311.5" font-size="8.12" fill="#000" stroke="#000" stroke-width="0.35" textLength="36.44" lengthAdjust="spacingAndGlyphs">Naive-like</text><text x="204.34" y="323.9" font-size="9.13" fill="#000" stroke="#000" stroke-width="0.35">28,0 %</text><text x="301.68" y="188.1" font-size="9.13" fill="#000" stroke="#000" stroke-width="0.35" textLength="13.48" lengthAdjust="spacingAndGlyphs">EM</text><text x="302.03" y="200.9" font-size="9.13" fill="#000" stroke="#000" stroke-width="0.35">30,4 %</text><line x1="297.7" y1="203.2" x2="300.9" y2="203.2" stroke="#ff0000" stroke-width="0.9"/><text x="427.66" y="189.3" font-size="9.13" fill="#000" stroke="#000" stroke-width="0.35" textLength="13.8" lengthAdjust="spacingAndGlyphs">CM</text><text x="412.82" y="200.9" font-size="9.13" fill="#000" stroke="#000" stroke-width="0.35" textLength="28.18" lengthAdjust="spacingAndGlyphs">17,1 %</text><text x="298.05" y="311.7" font-size="9.13" fill="#000" stroke="#000" stroke-width="0.35" textLength="10.33" lengthAdjust="spacingAndGlyphs">ET</text><text x="298.02" y="324.1" font-size="9.13" fill="#000" stroke="#000" stroke-width="0.35">16,3 %</text><text x="396.36" y="306" font-size="8.12" fill="#000" stroke="#000" stroke-width="0.35" textLength="35.31" lengthAdjust="spacingAndGlyphs">Naive-like</text><text x="413.74" y="324.1" font-size="9.13" fill="#000" stroke="#000" stroke-width="0.35" textLength="28.16" lengthAdjust="spacingAndGlyphs">36,2 %</text><text x="46.82" y="227.1" font-size="11.01" fill="#000" stroke="#000" stroke-width="0.35" textLength="13.13" lengthAdjust="spacingAndGlyphs">10</text><text x="62.76" y="218.37" font-size="10.68" fill="#000" stroke="#000" stroke-width="0.35" textLength="6.61" lengthAdjust="spacingAndGlyphs">4</text><text x="46.82" y="273.1" font-size="11.01" fill="#000" stroke="#000" stroke-width="0.35" textLength="13.13" lengthAdjust="spacingAndGlyphs">10</text><text x="62.49" y="264.77" font-size="10.68" fill="#000" stroke="#000" stroke-width="0.35" textLength="7.03" lengthAdjust="spacingAndGlyphs">3</text><text x="62.8" y="312.2" font-size="11.01" fill="#000" stroke="#000" stroke-width="0.35" textLength="6.95" lengthAdjust="spacingAndGlyphs">0</text><text x="99.33" y="351" font-size="11.01" fill="#000" stroke="#000" stroke-width="0.35" textLength="6.49" lengthAdjust="spacingAndGlyphs">0</text><text x="137.21" y="351.2" font-size="11.01" fill="#000" stroke="#000" stroke-width="0.35" textLength="13.24" lengthAdjust="spacingAndGlyphs">10</text><text x="153.15" y="347.17" font-size="10.68" fill="#000" stroke="#000" stroke-width="0.35" textLength="6.21" lengthAdjust="spacingAndGlyphs">3</text><text x="188.49" y="351.2" font-size="11.01" fill="#000" stroke="#000" stroke-width="0.35" textLength="13.46" lengthAdjust="spacingAndGlyphs">10</text><text x="203.44" y="347.17" font-size="10.68" fill="#000" stroke="#000" stroke-width="0.35" textLength="7.16" lengthAdjust="spacingAndGlyphs">4</text><text x="258.72" y="228.3" font-size="11.01" fill="#000" stroke="#000" stroke-width="0.35" textLength="13.13" lengthAdjust="spacingAndGlyphs">10</text><text x="274.66" y="219.57" font-size="10.68" fill="#000" stroke="#000" stroke-width="0.35" textLength="6.61" lengthAdjust="spacingAndGlyphs">4</text><text x="258.72" y="274.3" font-size="11.01" fill="#000" stroke="#000" stroke-width="0.35" textLength="13.13" lengthAdjust="spacingAndGlyphs">10</text><text x="274.39" y="265.97" font-size="10.68" fill="#000" stroke="#000" stroke-width="0.35" textLength="7.03" lengthAdjust="spacingAndGlyphs">3</text><text x="274.7" y="313.4" font-size="11.01" fill="#000" stroke="#000" stroke-width="0.35" textLength="6.95" lengthAdjust="spacingAndGlyphs">0</text><text x="311.23" y="352.2" font-size="11.01" fill="#000" stroke="#000" stroke-width="0.35" textLength="6.49" lengthAdjust="spacingAndGlyphs">0</text><text x="349.11" y="352.4" font-size="11.01" fill="#000" stroke="#000" stroke-width="0.35" textLength="13.24" lengthAdjust="spacingAndGlyphs">10</text><text x="365.05" y="348.37" font-size="10.68" fill="#000" stroke="#000" stroke-width="0.35" textLength="6.21" lengthAdjust="spacingAndGlyphs">3</text><text x="400.39" y="352.4" font-size="11.01" fill="#000" stroke="#000" stroke-width="0.35" textLength="13.46" lengthAdjust="spacingAndGlyphs">10</text><text x="415.34" y="348.37" font-size="10.68" fill="#000" stroke="#000" stroke-width="0.35" textLength="7.16" lengthAdjust="spacingAndGlyphs">4</text><line x1="314.6" y1="432.5" x2="456.9" y2="432.5" stroke="#111" stroke-width="1.3"/><line x1="314.6" y1="432.5" x2="314.6" y2="574.2" stroke="#777" stroke-width="1.3"/><line x1="456.9" y1="432.5" x2="456.9" y2="574.2" stroke="#777" stroke-width="1.3"/><line x1="312" y1="574.2" x2="457.6" y2="574.2" stroke="#111" stroke-width="1.4"/><line x1="311" y1="434" x2="314.6" y2="434" stroke="#111" stroke-width="1.2"/><text x="284.02" y="441" font-size="11.3" fill="#000" stroke="#000" stroke-width="0.35" textLength="26.72" lengthAdjust="spacingAndGlyphs">100%</text><line x1="311" y1="469.1" x2="314.6" y2="469.1" stroke="#111" stroke-width="1.2"/><text x="284.28" y="476.7" font-size="11.3" fill="#000" stroke="#000" stroke-width="0.35" textLength="20.69" lengthAdjust="spacingAndGlyphs">75%</text><line x1="311" y1="504.2" x2="314.6" y2="504.2" stroke="#111" stroke-width="1.2"/><text x="284.39" y="511.8" font-size="11.3" fill="#000" stroke="#000" stroke-width="0.35" textLength="20.59" lengthAdjust="spacingAndGlyphs">50%</text><line x1="311" y1="539.3" x2="314.6" y2="539.3" stroke="#111" stroke-width="1.2"/><text x="284.28" y="546.9" font-size="11.3" fill="#000" stroke="#000" stroke-width="0.35" textLength="20.69" lengthAdjust="spacingAndGlyphs">25%</text><line x1="331.1" y1="574.2" x2="331.1" y2="578.6" stroke="#111" stroke-width="1.2"/><line x1="345.1" y1="574.2" x2="345.1" y2="578.6" stroke="#111" stroke-width="1.2"/><line x1="358.8" y1="574.2" x2="358.8" y2="578.6" stroke="#111" stroke-width="1.2"/><line x1="379.8" y1="574.2" x2="379.8" y2="578.6" stroke="#111" stroke-width="1.2"/><line x1="411.4" y1="574.2" x2="411.4" y2="578.6" stroke="#111" stroke-width="1.2"/><line x1="443.6" y1="574.2" x2="443.6" y2="578.6" stroke="#111" stroke-width="1.2"/><line x1="316.5" y1="574.2" x2="316.5" y2="577" stroke="#111" stroke-width="1"/><line x1="319.5" y1="574.2" x2="319.5" y2="577" stroke="#111" stroke-width="1"/><line x1="322.5" y1="574.2" x2="322.5" y2="577" stroke="#111" stroke-width="1"/><line x1="325" y1="574.2" x2="325" y2="577" stroke="#111" stroke-width="1"/><line x1="366.6" y1="574.2" x2="366.6" y2="577" stroke="#111" stroke-width="1"/><line x1="370.5" y1="574.2" x2="370.5" y2="577" stroke="#111" stroke-width="1"/><line x1="373.5" y1="574.2" x2="373.5" y2="577" stroke="#111" stroke-width="1"/><line x1="375.5" y1="574.2" x2="375.5" y2="577" stroke="#111" stroke-width="1"/><line x1="377" y1="574.2" x2="377" y2="577" stroke="#111" stroke-width="1"/><line x1="378.2" y1="574.2" x2="378.2" y2="577" stroke="#111" stroke-width="1"/><line x1="395.8" y1="574.2" x2="395.8" y2="577" stroke="#111" stroke-width="1"/><line x1="402" y1="574.2" x2="402" y2="577" stroke="#111" stroke-width="1"/><line x1="405.5" y1="574.2" x2="405.5" y2="577" stroke="#111" stroke-width="1"/><line x1="407.8" y1="574.2" x2="407.8" y2="577" stroke="#111" stroke-width="1"/><line x1="409.3" y1="574.2" x2="409.3" y2="577" stroke="#111" stroke-width="1"/><line x1="410.4" y1="574.2" x2="410.4" y2="577" stroke="#111" stroke-width="1"/><line x1="427" y1="574.2" x2="427" y2="577" stroke="#111" stroke-width="1"/><line x1="433.5" y1="574.2" x2="433.5" y2="577" stroke="#111" stroke-width="1"/><line x1="437" y1="574.2" x2="437" y2="577" stroke="#111" stroke-width="1"/><line x1="439.5" y1="574.2" x2="439.5" y2="577" stroke="#111" stroke-width="1"/><line x1="441" y1="574.2" x2="441" y2="577" stroke="#111" stroke-width="1"/><line x1="442.3" y1="574.2" x2="442.3" y2="577" stroke="#111" stroke-width="1"/><line x1="453.4" y1="574.2" x2="453.4" y2="577" stroke="#111" stroke-width="1"/><text x="343.04" y="595.1" font-size="10.72" fill="#000" stroke="#000" stroke-width="0.35" textLength="6.37" lengthAdjust="spacingAndGlyphs">0</text><text x="360.28" y="595.4" font-size="10.72" fill="#000" stroke="#000" stroke-width="0.35" textLength="12.24" lengthAdjust="spacingAndGlyphs">10</text><text x="374.9" y="591.58" font-size="10.4" fill="#000" stroke="#000" stroke-width="0.35" textLength="5.62" lengthAdjust="spacingAndGlyphs">3</text><text x="392.07" y="595.4" font-size="10.72" fill="#000" stroke="#000" stroke-width="0.35" textLength="12.24" lengthAdjust="spacingAndGlyphs">10</text><text x="406.31" y="591.58" font-size="10.4" fill="#000" stroke="#000" stroke-width="0.35" textLength="5.29" lengthAdjust="spacingAndGlyphs">4</text><text x="422.88" y="595.4" font-size="10.72" fill="#000" stroke="#000" stroke-width="0.35" textLength="12.24" lengthAdjust="spacingAndGlyphs">10</text><text x="437.4" y="591.58" font-size="10.4" fill="#000" stroke="#000" stroke-width="0.35" textLength="5.62" lengthAdjust="spacingAndGlyphs">5</text><line x1="319.6" y1="604.7" x2="462.2" y2="604.7" stroke="#8a8a8a" stroke-width="1"/><path d="M456.7 600.4L462.2 604.7L456.7 609" stroke="#8a8a8a" stroke-width="1" fill="none"/><text x="317.23" y="621.4" font-size="12.46" fill="#000" stroke="#000" stroke-width="0.35" textLength="40.39" lengthAdjust="spacingAndGlyphs">HLA-DR</text><line x1="317.6" y1="444.8" x2="325.5" y2="444.8" stroke="#000" stroke-width="3"/><text x="332.44" y="445.5" font-size="8.7" fill="#000" stroke="#000" stroke-width="0.35" textLength="3.4" lengthAdjust="spacingAndGlyphs">-</text><line x1="317.6" y1="456.2" x2="325.5" y2="456.2" stroke="#ff2a2a" stroke-width="3"/><text x="331.77" y="458.8" font-size="8.7" fill="#000" stroke="#000" stroke-width="0.35" textLength="21.47" lengthAdjust="spacingAndGlyphs">LSD1i</text><line x1="18.4" y1="850.2" x2="18.4" y2="691.7" stroke="#8a8a8a" stroke-width="1"/><path d="M14.1 697.2L18.4 691.7L22.7 697.2" stroke="#8a8a8a" stroke-width="1" fill="none"/><line x1="63" y1="892.2" x2="447.4" y2="892.2" stroke="#8a8a8a" stroke-width="1"/><path d="M441.9 887.9L447.4 892.2L441.9 896.5" stroke="#8a8a8a" stroke-width="1" fill="none"/><text transform="translate(10.6,850.2) rotate(-90)" x="-0.59" y="0" font-size="11.83" fill="#111" stroke="#111" stroke-width="0.35">CD3</text><text x="63.99" y="911.3" font-size="12.12" fill="#111" stroke="#111" stroke-width="0.35">GFP</text><rect x="64.6" y="694.9" width="157" height="157.3" fill="none" stroke="#111" stroke-width="1.3"/><line x1="58.8" y1="711.7" x2="64.6" y2="711.7" stroke="#000" stroke-width="1.2"/><line x1="58.8" y1="766.6" x2="64.6" y2="766.6" stroke="#000" stroke-width="1.2"/><line x1="58.8" y1="828.7" x2="64.6" y2="828.7" stroke="#000" stroke-width="1.2"/><line x1="58.8" y1="852.2" x2="64.6" y2="852.2" stroke="#000" stroke-width="1.2"/><line x1="61.4" y1="750.07" x2="64.6" y2="750.07" stroke="#000" stroke-width="1.2"/><line x1="61.4" y1="740.41" x2="64.6" y2="740.41" stroke="#000" stroke-width="1.2"/><line x1="61.4" y1="733.55" x2="64.6" y2="733.55" stroke="#000" stroke-width="1.2"/><line x1="61.4" y1="728.23" x2="64.6" y2="728.23" stroke="#000" stroke-width="1.2"/><line x1="61.4" y1="723.88" x2="64.6" y2="723.88" stroke="#000" stroke-width="1.2"/><line x1="61.4" y1="720.2" x2="64.6" y2="720.2" stroke="#000" stroke-width="1.2"/><line x1="61.4" y1="717.02" x2="64.6" y2="717.02" stroke="#000" stroke-width="1.2"/><line x1="61.4" y1="714.21" x2="64.6" y2="714.21" stroke="#000" stroke-width="1.2"/><line x1="61.4" y1="804.97" x2="64.6" y2="804.97" stroke="#000" stroke-width="1.2"/><line x1="61.4" y1="795.31" x2="64.6" y2="795.31" stroke="#000" stroke-width="1.2"/><line x1="61.4" y1="788.45" x2="64.6" y2="788.45" stroke="#000" stroke-width="1.2"/><line x1="61.4" y1="783.13" x2="64.6" y2="783.13" stroke="#000" stroke-width="1.2"/><line x1="61.4" y1="778.78" x2="64.6" y2="778.78" stroke="#000" stroke-width="1.2"/><line x1="61.4" y1="775.1" x2="64.6" y2="775.1" stroke="#000" stroke-width="1.2"/><line x1="61.4" y1="771.92" x2="64.6" y2="771.92" stroke="#000" stroke-width="1.2"/><line x1="61.4" y1="769.11" x2="64.6" y2="769.11" stroke="#000" stroke-width="1.2"/><line x1="64.6" y1="852.2" x2="64.6" y2="858" stroke="#000" stroke-width="1.2"/><line x1="85.8" y1="852.2" x2="85.8" y2="858" stroke="#000" stroke-width="1.2"/><line x1="108.5" y1="852.2" x2="108.5" y2="858" stroke="#000" stroke-width="1.2"/><line x1="142.8" y1="852.2" x2="142.8" y2="858" stroke="#000" stroke-width="1.2"/><line x1="192.5" y1="852.2" x2="192.5" y2="858" stroke="#000" stroke-width="1.2"/><line x1="157.76" y1="852.2" x2="157.76" y2="855.4" stroke="#000" stroke-width="1.2"/><line x1="166.51" y1="852.2" x2="166.51" y2="855.4" stroke="#000" stroke-width="1.2"/><line x1="172.72" y1="852.2" x2="172.72" y2="855.4" stroke="#000" stroke-width="1.2"/><line x1="177.54" y1="852.2" x2="177.54" y2="855.4" stroke="#000" stroke-width="1.2"/><line x1="181.47" y1="852.2" x2="181.47" y2="855.4" stroke="#000" stroke-width="1.2"/><line x1="184.8" y1="852.2" x2="184.8" y2="855.4" stroke="#000" stroke-width="1.2"/><line x1="187.68" y1="852.2" x2="187.68" y2="855.4" stroke="#000" stroke-width="1.2"/><line x1="190.23" y1="852.2" x2="190.23" y2="855.4" stroke="#000" stroke-width="1.2"/><line x1="207.46" y1="852.2" x2="207.46" y2="855.4" stroke="#000" stroke-width="1.2"/><line x1="216.21" y1="852.2" x2="216.21" y2="855.4" stroke="#000" stroke-width="1.2"/><line x1="127.84" y1="852.2" x2="127.84" y2="855.4" stroke="#000" stroke-width="1.2"/><line x1="131.77" y1="852.2" x2="131.77" y2="855.4" stroke="#000" stroke-width="1.2"/><line x1="135.1" y1="852.2" x2="135.1" y2="855.4" stroke="#000" stroke-width="1.2"/><line x1="137.98" y1="852.2" x2="137.98" y2="855.4" stroke="#000" stroke-width="1.2"/><line x1="140.53" y1="852.2" x2="140.53" y2="855.4" stroke="#000" stroke-width="1.2"/><text x="31.6" y="726.5" font-size="11.45" fill="#000" stroke="#000" stroke-width="0.35" textLength="13.35" lengthAdjust="spacingAndGlyphs">10</text><text x="47.77" y="718.06" font-size="11.11" fill="#000" stroke="#000" stroke-width="0.35" textLength="6.39" lengthAdjust="spacingAndGlyphs">4</text><text x="31.6" y="781.1" font-size="11.45" fill="#000" stroke="#000" stroke-width="0.35" textLength="13.35" lengthAdjust="spacingAndGlyphs">10</text><text x="47.51" y="773.16" font-size="11.11" fill="#000" stroke="#000" stroke-width="0.35" textLength="6.79" lengthAdjust="spacingAndGlyphs">3</text><text x="47.08" y="831.6" font-size="11.45" fill="#000" stroke="#000" stroke-width="0.35" textLength="7.18" lengthAdjust="spacingAndGlyphs">0</text><text x="83.78" y="875.5" font-size="11.45" fill="#000" stroke="#000" stroke-width="0.35" textLength="7.18" lengthAdjust="spacingAndGlyphs">0</text><text x="120.58" y="875.7" font-size="11.45" fill="#000" stroke="#000" stroke-width="0.35" textLength="13.57" lengthAdjust="spacingAndGlyphs">10</text><text x="136.84" y="871.56" font-size="11.11" fill="#000" stroke="#000" stroke-width="0.35" textLength="6.44" lengthAdjust="spacingAndGlyphs">3</text><text x="171.02" y="875.7" font-size="11.45" fill="#000" stroke="#000" stroke-width="0.35" textLength="13.13" lengthAdjust="spacingAndGlyphs">10</text><text x="186.77" y="871.56" font-size="11.11" fill="#000" stroke="#000" stroke-width="0.35" textLength="6.39" lengthAdjust="spacingAndGlyphs">4</text><rect x="267.9" y="693.3" width="157" height="157.3" fill="none" stroke="#111" stroke-width="1.3"/><line x1="262.1" y1="710.1" x2="267.9" y2="710.1" stroke="#000" stroke-width="1.2"/><line x1="262.1" y1="765" x2="267.9" y2="765" stroke="#000" stroke-width="1.2"/><line x1="262.1" y1="827.1" x2="267.9" y2="827.1" stroke="#000" stroke-width="1.2"/><line x1="262.1" y1="850.6" x2="267.9" y2="850.6" stroke="#000" stroke-width="1.2"/><line x1="264.7" y1="748.47" x2="267.9" y2="748.47" stroke="#000" stroke-width="1.2"/><line x1="264.7" y1="738.81" x2="267.9" y2="738.81" stroke="#000" stroke-width="1.2"/><line x1="264.7" y1="731.95" x2="267.9" y2="731.95" stroke="#000" stroke-width="1.2"/><line x1="264.7" y1="726.63" x2="267.9" y2="726.63" stroke="#000" stroke-width="1.2"/><line x1="264.7" y1="722.28" x2="267.9" y2="722.28" stroke="#000" stroke-width="1.2"/><line x1="264.7" y1="718.6" x2="267.9" y2="718.6" stroke="#000" stroke-width="1.2"/><line x1="264.7" y1="715.42" x2="267.9" y2="715.42" stroke="#000" stroke-width="1.2"/><line x1="264.7" y1="712.61" x2="267.9" y2="712.61" stroke="#000" stroke-width="1.2"/><line x1="264.7" y1="803.37" x2="267.9" y2="803.37" stroke="#000" stroke-width="1.2"/><line x1="264.7" y1="793.71" x2="267.9" y2="793.71" stroke="#000" stroke-width="1.2"/><line x1="264.7" y1="786.85" x2="267.9" y2="786.85" stroke="#000" stroke-width="1.2"/><line x1="264.7" y1="781.53" x2="267.9" y2="781.53" stroke="#000" stroke-width="1.2"/><line x1="264.7" y1="777.18" x2="267.9" y2="777.18" stroke="#000" stroke-width="1.2"/><line x1="264.7" y1="773.5" x2="267.9" y2="773.5" stroke="#000" stroke-width="1.2"/><line x1="264.7" y1="770.32" x2="267.9" y2="770.32" stroke="#000" stroke-width="1.2"/><line x1="264.7" y1="767.51" x2="267.9" y2="767.51" stroke="#000" stroke-width="1.2"/><line x1="267.9" y1="850.6" x2="267.9" y2="856.4" stroke="#000" stroke-width="1.2"/><line x1="289.1" y1="850.6" x2="289.1" y2="856.4" stroke="#000" stroke-width="1.2"/><line x1="311.8" y1="850.6" x2="311.8" y2="856.4" stroke="#000" stroke-width="1.2"/><line x1="346.1" y1="850.6" x2="346.1" y2="856.4" stroke="#000" stroke-width="1.2"/><line x1="395.8" y1="850.6" x2="395.8" y2="856.4" stroke="#000" stroke-width="1.2"/><line x1="361.06" y1="850.6" x2="361.06" y2="853.8" stroke="#000" stroke-width="1.2"/><line x1="369.81" y1="850.6" x2="369.81" y2="853.8" stroke="#000" stroke-width="1.2"/><line x1="376.02" y1="850.6" x2="376.02" y2="853.8" stroke="#000" stroke-width="1.2"/><line x1="380.84" y1="850.6" x2="380.84" y2="853.8" stroke="#000" stroke-width="1.2"/><line x1="384.77" y1="850.6" x2="384.77" y2="853.8" stroke="#000" stroke-width="1.2"/><line x1="388.1" y1="850.6" x2="388.1" y2="853.8" stroke="#000" stroke-width="1.2"/><line x1="390.98" y1="850.6" x2="390.98" y2="853.8" stroke="#000" stroke-width="1.2"/><line x1="393.53" y1="850.6" x2="393.53" y2="853.8" stroke="#000" stroke-width="1.2"/><line x1="410.76" y1="850.6" x2="410.76" y2="853.8" stroke="#000" stroke-width="1.2"/><line x1="419.51" y1="850.6" x2="419.51" y2="853.8" stroke="#000" stroke-width="1.2"/><line x1="331.14" y1="850.6" x2="331.14" y2="853.8" stroke="#000" stroke-width="1.2"/><line x1="335.07" y1="850.6" x2="335.07" y2="853.8" stroke="#000" stroke-width="1.2"/><line x1="338.4" y1="850.6" x2="338.4" y2="853.8" stroke="#000" stroke-width="1.2"/><line x1="341.28" y1="850.6" x2="341.28" y2="853.8" stroke="#000" stroke-width="1.2"/><line x1="343.83" y1="850.6" x2="343.83" y2="853.8" stroke="#000" stroke-width="1.2"/><text x="234.9" y="724.9" font-size="11.45" fill="#000" stroke="#000" stroke-width="0.35" textLength="13.35" lengthAdjust="spacingAndGlyphs">10</text><text x="251.07" y="716.46" font-size="11.11" fill="#000" stroke="#000" stroke-width="0.35" textLength="6.39" lengthAdjust="spacingAndGlyphs">4</text><text x="234.9" y="779.5" font-size="11.45" fill="#000" stroke="#000" stroke-width="0.35" textLength="13.35" lengthAdjust="spacingAndGlyphs">10</text><text x="250.81" y="771.56" font-size="11.11" fill="#000" stroke="#000" stroke-width="0.35" textLength="6.79" lengthAdjust="spacingAndGlyphs">3</text><text x="250.38" y="830" font-size="11.45" fill="#000" stroke="#000" stroke-width="0.35" textLength="7.18" lengthAdjust="spacingAndGlyphs">0</text><text x="287.08" y="873.9" font-size="11.45" fill="#000" stroke="#000" stroke-width="0.35" textLength="7.18" lengthAdjust="spacingAndGlyphs">0</text><text x="323.88" y="874.1" font-size="11.45" fill="#000" stroke="#000" stroke-width="0.35" textLength="13.57" lengthAdjust="spacingAndGlyphs">10</text><text x="340.14" y="869.96" font-size="11.11" fill="#000" stroke="#000" stroke-width="0.35" textLength="6.44" lengthAdjust="spacingAndGlyphs">3</text><text x="374.32" y="874.1" font-size="11.45" fill="#000" stroke="#000" stroke-width="0.35" textLength="13.13" lengthAdjust="spacingAndGlyphs">10</text><text x="390.07" y="869.96" font-size="11.11" fill="#000" stroke="#000" stroke-width="0.35" textLength="6.39" lengthAdjust="spacingAndGlyphs">4</text><text x="108.91" y="827.5" font-size="9.13" fill="#000" stroke="#000" stroke-width="0.35" textLength="27.66" lengthAdjust="spacingAndGlyphs">Tumor</text><text x="108.92" y="841.1" font-size="9.13" fill="#000" stroke="#000" stroke-width="0.35" textLength="28.69" lengthAdjust="spacingAndGlyphs">40,4 %</text><text x="317.51" y="825.6" font-size="9.13" fill="#000" stroke="#000" stroke-width="0.35" textLength="27.36" lengthAdjust="spacingAndGlyphs">Tumor</text><text x="317.25" y="838.4" font-size="9.13" fill="#000" stroke="#000" stroke-width="0.35" textLength="23.14" lengthAdjust="spacingAndGlyphs">7,4 %</text><ellipse cx="180" cy="772.5" rx="33.6" ry="64.4" transform="rotate(9.8 180 772.5)" fill="none" stroke="#111" stroke-width="1.2"/><ellipse cx="384.2" cy="771.7" rx="33.4" ry="64.3" transform="rotate(9.35 384.2 771.7)" fill="none" stroke="#111" stroke-width="1.2"/>
</svg>
</body></html>
